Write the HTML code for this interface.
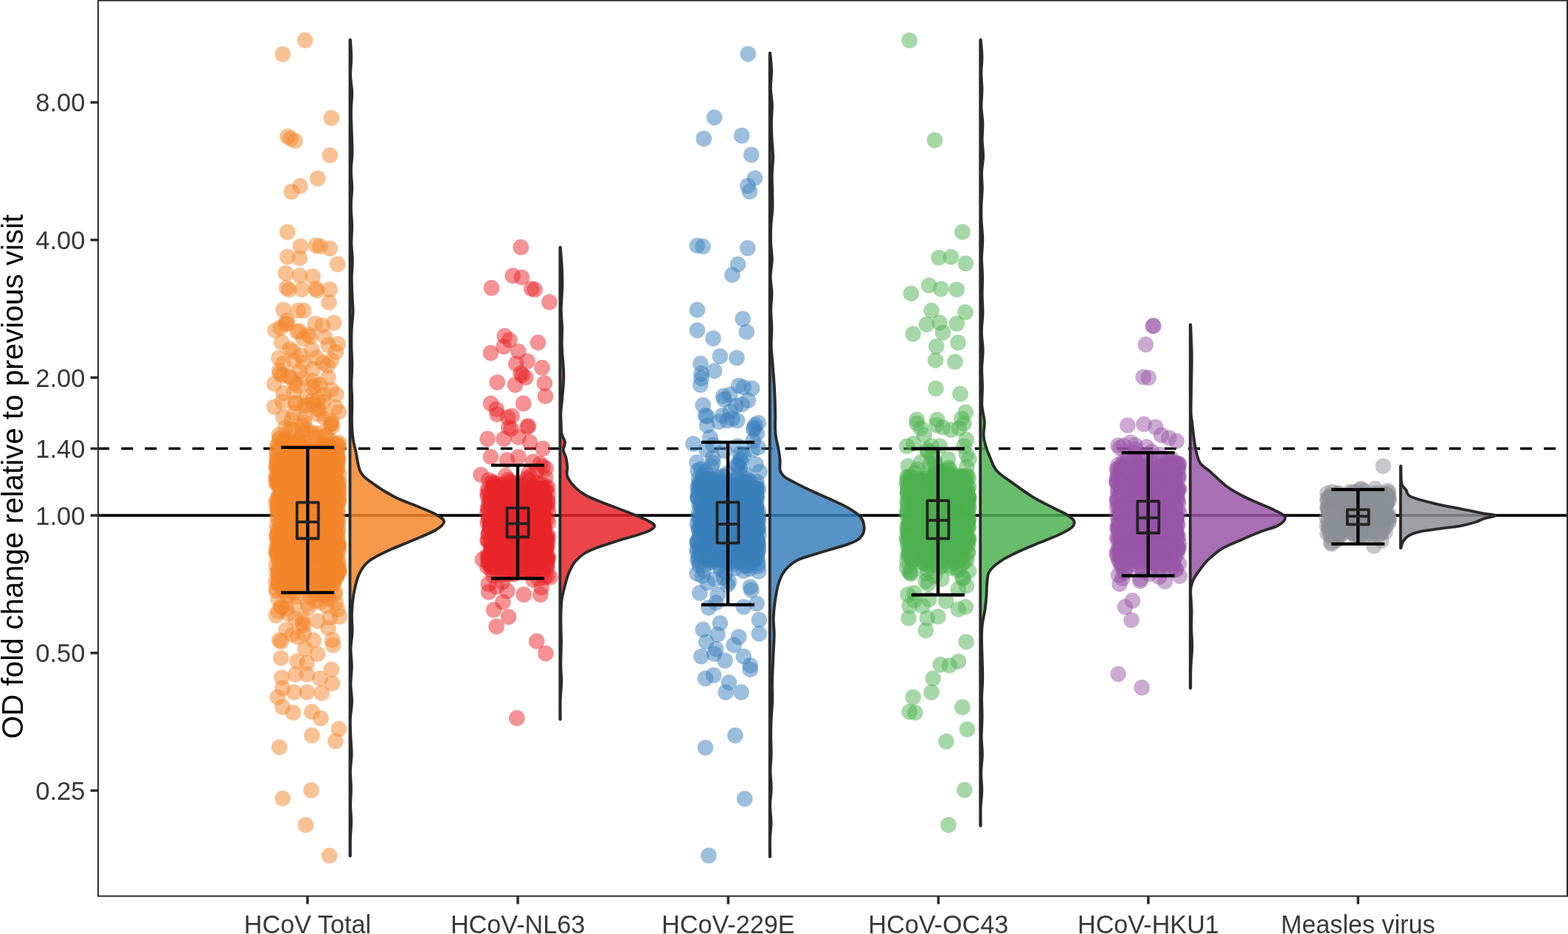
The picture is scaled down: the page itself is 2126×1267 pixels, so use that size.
<!DOCTYPE html><html><head><meta charset="utf-8"><title>OD fold change</title><style>html,body{margin:0;padding:0;background:#fff;overflow:hidden;}svg{display:block;}text{font-family:"Liberation Sans",Arial,sans-serif;}</style></head><body>
<svg width="2126" height="1267" viewBox="0 0 2126 1267">
<rect x="0" y="0" width="2126" height="1267" fill="#fff"/>
<line x1="134" y1="608.5" x2="2124" y2="608.5" stroke="#000" stroke-width="3.6" stroke-dasharray="16 16.15" stroke-dashoffset="1.8"/>
<line x1="134" y1="699.1" x2="2124" y2="699.1" stroke="#000" stroke-width="3.8"/>
<path d="M475.0,54.0 C475.2,58.0 476.3,70.0 476.3,78.0 C476.3,86.0 475.0,94.0 475.2,102.0 C475.3,110.0 477.1,118.0 477.3,126.0 C477.4,134.0 476.0,140.0 476.0,150.0 C476.0,160.0 476.7,176.3 477.0,186.0 C477.3,195.7 477.7,200.7 477.6,208.0 C477.4,215.3 476.1,222.2 476.0,230.0 C475.9,237.8 477.2,246.7 477.2,255.0 C477.2,263.3 475.9,271.7 475.9,280.0 C475.9,288.3 477.1,296.7 477.2,305.0 C477.3,313.3 476.4,321.9 476.5,330.0 C476.6,338.1 477.9,345.6 477.9,353.3 C478.0,361.1 476.9,368.9 476.8,376.7 C476.7,384.4 477.2,392.2 477.5,400.0 C477.8,407.8 478.7,415.6 478.6,423.3 C478.4,431.1 477.1,438.9 476.8,446.7 C476.4,454.4 476.4,461.9 476.5,470.0 C476.6,478.1 477.4,486.7 477.4,495.0 C477.4,503.3 476.5,511.6 476.5,520.0 C476.5,528.4 477.4,537.0 477.4,545.5 C477.5,554.0 476.8,562.9 477.0,571.0 C477.2,579.1 477.6,586.9 478.5,594.0 C479.4,601.1 481.0,606.2 482.7,613.8 C484.4,621.4 485.2,632.8 488.5,639.4 C491.8,646.0 494.9,647.9 502.5,653.6 C510.1,659.3 523.0,667.8 533.9,673.5 C544.8,679.2 558.5,683.7 568.0,687.7 C577.5,691.7 585.0,694.3 590.7,697.6 C596.4,700.9 602.1,704.0 602.1,707.6 C602.1,711.2 597.8,714.8 590.7,719.0 C583.6,723.2 570.4,728.4 559.5,733.1 C548.6,737.8 535.5,742.6 525.5,747.3 C515.5,752.0 506.2,756.3 499.8,761.5 C493.4,766.7 490.3,771.5 487.0,778.6 C483.7,785.7 481.6,795.2 479.9,804.2 C478.2,813.2 477.4,823.9 477.0,832.6 C476.6,841.3 477.9,848.4 477.7,856.3 C477.5,864.2 475.7,872.0 475.6,880.0 C475.5,888.0 476.9,896.0 476.9,904.0 C476.9,912.0 475.5,920.0 475.5,928.0 C475.6,936.0 477.2,944.0 477.1,952.0 C477.0,960.0 475.2,968.0 474.9,976.0 C474.7,984.0 475.2,992.2 475.5,1000.0 C475.8,1007.8 476.8,1015.3 476.7,1023.0 C476.6,1030.7 475.1,1038.3 475.0,1046.0 C474.9,1053.7 476.0,1061.3 476.0,1069.0 C476.1,1076.7 475.2,1084.3 475.2,1092.0 C475.2,1099.7 476.3,1107.3 476.3,1115.0 C476.2,1122.7 475.2,1130.3 475.0,1138.0 C474.8,1145.7 475.0,1157.2 475.0,1161.0 L474.5,1161.0 L474.5,54.0 Z" fill="#f3862a" fill-opacity="0.85" stroke="#2a2a2a" stroke-width="3.8" stroke-linejoin="round"/>
<path d="M759.8,335.4 C760.1,339.9 761.4,353.4 761.8,362.4 C762.3,371.5 762.5,379.9 762.3,389.5 C762.1,399.1 760.8,410.8 760.8,420.0 C760.8,429.2 762.0,436.7 762.1,445.0 C762.3,453.3 761.4,459.4 761.8,470.0 C762.2,480.6 764.2,497.0 764.3,508.7 C764.4,520.4 762.9,531.5 762.3,540.0 C761.6,548.5 760.6,554.2 760.4,560.0 C760.1,565.8 760.6,570.2 760.8,575.0 C761.0,579.8 760.7,584.6 761.6,588.7 C762.5,592.8 765.6,596.1 766.0,599.8 C766.4,603.5 763.6,607.5 763.8,610.8 C764.0,614.1 766.2,616.0 767.1,619.7 C768.0,623.4 768.9,628.5 769.3,632.9 C769.7,637.3 767.4,641.4 769.3,646.2 C771.1,651.0 776.0,657.3 780.4,661.7 C784.8,666.1 788.8,669.0 795.8,672.7 C802.8,676.4 813.2,680.1 822.4,683.8 C831.6,687.5 841.9,691.1 851.1,694.8 C860.3,698.5 871.5,702.9 877.6,705.9 C883.7,708.9 886.8,710.3 887.5,712.5 C888.2,714.7 885.9,716.9 882.0,719.1 C878.1,721.3 871.7,723.3 864.3,725.7 C856.9,728.1 846.6,730.7 837.8,733.5 C829.0,736.3 818.7,739.5 811.3,742.3 C803.9,745.0 798.7,746.9 793.6,750.0 C788.4,753.1 784.1,756.7 780.4,761.1 C776.7,765.5 773.9,771.1 771.5,776.6 C769.1,782.1 767.6,788.0 766.0,794.3 C764.4,800.5 762.5,806.5 761.6,814.1 C760.7,821.7 760.5,830.7 760.4,840.0 C760.3,849.3 761.0,860.0 761.0,870.0 C761.0,880.0 760.3,890.8 760.3,900.0 C760.3,909.2 761.3,916.8 761.2,925.3 C761.1,933.7 759.9,942.1 759.7,950.5 C759.5,959.0 759.8,971.6 759.8,975.8 L759.3,975.8 L759.3,335.4 Z" fill="#e9262a" fill-opacity="0.85" stroke="#2a2a2a" stroke-width="3.8" stroke-linejoin="round"/>
<path d="M1044.2,72.0 C1044.5,75.9 1046.0,87.7 1046.1,95.6 C1046.3,103.5 1044.8,111.3 1044.9,119.2 C1045.0,127.1 1046.8,134.9 1046.9,142.8 C1047.1,150.7 1045.9,158.5 1045.9,166.4 C1045.9,174.3 1046.3,182.2 1046.7,190.0 C1047.1,197.8 1048.1,205.6 1048.1,213.3 C1048.1,221.1 1046.9,228.9 1046.8,236.7 C1046.6,244.4 1047.1,252.2 1047.2,260.0 C1047.3,267.8 1047.7,275.6 1047.4,283.3 C1047.1,291.1 1045.6,298.9 1045.3,306.7 C1044.9,314.4 1044.9,322.4 1045.2,330.0 C1045.5,337.6 1046.9,345.0 1046.8,352.5 C1046.7,360.0 1044.7,367.5 1044.7,375.0 C1044.6,382.5 1046.4,390.0 1046.5,397.5 C1046.6,405.0 1045.2,412.1 1045.2,420.0 C1045.2,427.9 1046.3,436.7 1046.4,445.0 C1046.4,453.3 1045.5,461.7 1045.7,470.0 C1045.9,478.3 1047.0,485.0 1047.7,495.0 C1048.5,505.0 1049.6,518.5 1050.2,530.0 C1050.8,541.5 1051.1,555.7 1051.2,564.0 C1051.3,572.3 1050.8,575.1 1051.0,580.0 C1051.2,584.9 1051.4,588.5 1052.1,593.3 C1052.8,598.1 1054.5,603.6 1055.4,608.7 C1056.3,613.9 1057.2,619.4 1057.6,624.2 C1058.0,629.0 1056.7,633.8 1057.6,637.5 C1058.5,641.2 1060.3,643.7 1063.1,646.3 C1065.9,648.9 1068.7,649.9 1074.2,652.9 C1079.7,655.9 1088.9,660.5 1096.3,664.0 C1103.7,667.5 1111.0,670.6 1118.4,673.9 C1125.8,677.2 1134.2,680.8 1140.5,683.9 C1146.8,687.0 1151.6,689.8 1156.0,692.7 C1160.4,695.6 1164.4,698.2 1167.0,701.5 C1169.6,704.8 1170.9,708.9 1171.4,712.6 C1172.0,716.3 1171.8,720.3 1170.3,723.6 C1168.8,726.9 1166.5,729.9 1162.6,732.5 C1158.7,735.1 1153.4,736.9 1147.1,739.1 C1140.8,741.3 1132.4,743.5 1125.0,745.7 C1117.6,747.9 1109.9,750.2 1102.9,752.4 C1095.9,754.6 1088.5,756.4 1083.0,759.0 C1077.5,761.6 1073.5,764.5 1069.8,767.8 C1066.1,771.1 1063.3,774.8 1060.9,778.9 C1058.5,783.0 1056.9,787.4 1055.4,792.2 C1053.9,797.0 1053.0,802.5 1052.1,807.6 C1051.2,812.8 1050.5,817.6 1049.9,823.1 C1049.3,828.6 1048.7,834.6 1048.7,840.8 C1048.7,846.9 1049.7,852.8 1049.7,860.0 C1049.7,867.2 1049.2,872.7 1048.7,884.0 C1048.2,895.3 1047.2,916.7 1047.0,928.0 C1046.8,939.3 1047.5,944.0 1047.2,952.0 C1047.0,960.0 1046.0,968.0 1045.6,976.0 C1045.3,984.0 1045.2,992.1 1045.2,1000.0 C1045.2,1007.9 1045.9,1015.4 1045.7,1023.1 C1045.6,1030.9 1044.4,1038.6 1044.5,1046.3 C1044.5,1054.0 1045.8,1061.7 1045.8,1069.4 C1045.7,1077.1 1044.2,1084.9 1044.1,1092.6 C1044.1,1100.3 1045.5,1108.0 1045.5,1115.7 C1045.5,1123.4 1044.2,1131.1 1044.0,1138.9 C1043.8,1146.6 1044.2,1158.1 1044.2,1162.0 L1043.7,1162.0 L1043.7,72.0 Z" fill="#3a80bc" fill-opacity="0.85" stroke="#2a2a2a" stroke-width="3.8" stroke-linejoin="round"/>
<path d="M1329.7,53.8 C1330.0,57.6 1331.4,68.9 1331.5,76.5 C1331.6,84.1 1330.4,91.6 1330.4,99.2 C1330.4,106.8 1331.5,114.3 1331.5,121.9 C1331.5,129.5 1330.3,137.0 1330.5,144.6 C1330.6,152.2 1332.2,159.7 1332.4,167.3 C1332.6,174.9 1331.6,182.6 1331.7,190.0 C1331.8,197.4 1333.2,204.7 1333.1,212.0 C1333.0,219.3 1331.3,226.7 1331.1,234.0 C1330.8,241.3 1331.9,248.7 1331.8,256.0 C1331.7,263.3 1330.7,270.7 1330.5,278.0 C1330.3,285.3 1330.4,292.2 1330.7,300.0 C1331.0,307.8 1332.3,316.7 1332.3,325.0 C1332.4,333.3 1331.1,341.7 1331.0,350.0 C1331.0,358.3 1332.0,366.7 1332.1,375.0 C1332.2,383.3 1331.6,391.7 1331.7,400.0 C1331.8,408.3 1332.6,416.7 1332.5,425.0 C1332.4,433.3 1330.8,441.7 1330.9,450.0 C1330.9,458.3 1332.6,466.7 1332.7,475.0 C1332.7,483.3 1331.3,491.7 1331.2,500.0 C1331.1,508.3 1332.0,516.7 1332.0,525.0 C1332.1,533.3 1330.9,542.1 1331.4,550.0 C1331.9,557.9 1334.4,565.5 1334.8,572.1 C1335.2,578.7 1333.4,584.6 1333.6,589.8 C1333.8,594.9 1334.4,597.9 1335.9,603.0 C1337.4,608.1 1339.9,614.8 1342.5,620.7 C1345.1,626.6 1346.5,632.9 1351.3,638.4 C1356.1,643.9 1363.1,648.0 1371.2,653.9 C1379.3,659.8 1390.3,667.9 1399.9,673.8 C1409.5,679.7 1421.0,685.2 1428.7,689.2 C1436.5,693.2 1441.8,695.2 1446.4,698.1 C1451.0,701.0 1455.2,704.0 1456.3,706.9 C1457.4,709.8 1456.1,712.8 1453.0,715.7 C1449.9,718.7 1444.5,721.3 1437.5,724.6 C1430.5,727.9 1419.8,731.9 1411.0,735.6 C1402.2,739.3 1392.6,743.0 1384.5,746.7 C1376.4,750.4 1368.7,754.0 1362.4,757.7 C1356.1,761.4 1350.6,765.5 1346.9,768.8 C1343.2,772.1 1341.8,773.5 1340.3,777.6 C1338.8,781.7 1338.6,788.0 1338.1,793.1 C1337.6,798.2 1337.9,802.4 1337.5,808.0 C1337.1,813.6 1336.4,820.7 1335.5,827.0 C1334.6,833.3 1332.8,839.7 1332.0,846.0 C1331.2,852.3 1331.0,857.2 1331.0,865.0 C1331.0,872.8 1331.5,883.9 1331.7,893.0 C1331.9,902.1 1332.4,910.8 1332.3,919.8 C1332.2,928.7 1331.3,937.6 1331.1,946.5 C1331.0,955.4 1331.7,964.3 1331.6,973.2 C1331.5,982.2 1330.7,991.5 1330.7,1000.0 C1330.7,1008.5 1332.0,1016.0 1331.9,1024.0 C1331.8,1032.1 1330.3,1040.1 1330.2,1048.1 C1330.1,1056.1 1331.4,1064.1 1331.3,1072.1 C1331.2,1080.1 1329.9,1088.1 1329.6,1096.2 C1329.4,1104.2 1329.7,1116.2 1329.7,1120.2 L1329.2,1120.2 L1329.2,53.8 Z" fill="#4eb250" fill-opacity="0.85" stroke="#2a2a2a" stroke-width="3.8" stroke-linejoin="round"/>
<path d="M1614.3,440.5 C1614.5,447.1 1615.6,466.8 1615.8,480.0 C1616.0,493.2 1615.5,506.7 1615.3,520.0 C1615.1,533.3 1614.6,551.1 1614.8,560.0 C1615.0,568.9 1615.8,567.8 1616.4,573.3 C1617.0,578.8 1617.7,586.5 1618.6,593.1 C1619.5,599.7 1620.5,607.1 1622.0,613.0 C1623.5,618.9 1624.4,624.1 1627.5,628.5 C1630.6,632.9 1634.8,634.5 1640.7,639.6 C1646.6,644.8 1655.4,653.9 1662.8,659.4 C1670.2,664.9 1677.1,668.6 1684.9,672.7 C1692.6,676.8 1701.9,680.5 1709.3,683.8 C1716.7,687.1 1723.6,689.7 1729.1,692.6 C1734.6,695.5 1741.6,698.1 1742.4,701.4 C1743.1,704.7 1739.1,709.2 1733.6,712.5 C1728.1,715.8 1717.8,718.0 1709.3,721.3 C1700.8,724.6 1691.2,728.7 1682.7,732.4 C1674.2,736.1 1665.8,739.0 1658.4,743.4 C1651.0,747.8 1643.7,754.1 1638.5,758.9 C1633.3,763.7 1630.8,767.8 1627.5,772.2 C1624.2,776.6 1620.6,781.7 1618.6,785.4 C1616.6,789.1 1616.0,791.3 1615.3,794.3 C1614.6,797.2 1614.3,797.7 1614.3,803.1 C1614.3,808.5 1615.4,818.7 1615.6,826.5 C1615.8,834.4 1615.2,841.5 1615.3,850.0 C1615.4,858.5 1616.4,868.6 1616.3,877.8 C1616.2,887.1 1614.9,896.4 1614.6,905.7 C1614.2,914.9 1614.3,928.9 1614.3,933.5 L1613.8,933.5 L1613.8,440.5 Z" fill="#9a56a8" fill-opacity="0.85" stroke="#2a2a2a" stroke-width="3.8" stroke-linejoin="round"/>
<path d="M1899.5,632.2 C1899.7,636.2 1899.2,650.9 1900.4,656.2 C1901.6,661.5 1904.7,661.5 1906.4,664.2 C1908.1,666.9 1907.1,669.9 1910.4,672.2 C1913.8,674.6 1919.8,676.3 1926.5,678.3 C1933.2,680.3 1941.5,682.3 1950.5,684.3 C1959.5,686.3 1970.6,688.3 1980.6,690.3 C1990.6,692.3 2002.8,694.8 2010.6,696.3 C2018.4,697.8 2027.4,698.1 2027.7,699.3 C2028.0,700.5 2017.1,701.8 2012.6,703.3 C2008.1,704.8 2005.9,706.6 2000.6,708.3 C1995.3,710.0 1988.9,711.8 1980.6,713.3 C1972.2,714.8 1959.9,716.0 1950.5,717.3 C1941.1,718.6 1931.1,719.8 1924.4,721.3 C1917.7,722.8 1914.1,724.2 1910.4,726.4 C1906.7,728.6 1904.2,731.6 1902.4,734.4 C1900.6,737.2 1900.0,741.9 1899.5,743.4 L1899.0,743.4 L1899.0,632.2 Z" fill="#8c9094" fill-opacity="0.85" stroke="#2a2a2a" stroke-width="3.8" stroke-linejoin="round"/>
<g fill="#f3862a" fill-opacity="0.50">
<circle cx="387.0" cy="439.7" r="10.8"/>
<circle cx="380.2" cy="444.5" r="10.8"/>
<circle cx="405.4" cy="449.1" r="10.8"/>
<circle cx="417.6" cy="454.0" r="10.8"/>
<circle cx="411.3" cy="459.1" r="10.8"/>
<circle cx="381.8" cy="464.4" r="10.8"/>
<circle cx="445.1" cy="468.1" r="10.8"/>
<circle cx="393.2" cy="473.6" r="10.8"/>
<circle cx="455.5" cy="477.6" r="10.8"/>
<circle cx="408.1" cy="482.0" r="10.8"/>
<circle cx="378.0" cy="485.9" r="10.8"/>
<circle cx="398.9" cy="489.1" r="10.8"/>
<circle cx="384.1" cy="493.3" r="10.8"/>
<circle cx="444.2" cy="496.2" r="10.8"/>
<circle cx="424.0" cy="500.6" r="10.8"/>
<circle cx="406.0" cy="503.5" r="10.8"/>
<circle cx="379.4" cy="507.1" r="10.8"/>
<circle cx="391.7" cy="510.7" r="10.8"/>
<circle cx="410.8" cy="513.3" r="10.8"/>
<circle cx="424.4" cy="516.5" r="10.8"/>
<circle cx="399.8" cy="519.8" r="10.8"/>
<circle cx="434.1" cy="522.2" r="10.8"/>
<circle cx="423.4" cy="525.5" r="10.8"/>
<circle cx="449.3" cy="528.7" r="10.8"/>
<circle cx="398.8" cy="531.0" r="10.8"/>
<circle cx="384.2" cy="533.4" r="10.8"/>
<circle cx="439.1" cy="536.2" r="10.8"/>
<circle cx="416.1" cy="538.0" r="10.8"/>
<circle cx="431.5" cy="541.8" r="10.8"/>
<circle cx="423.3" cy="543.9" r="10.8"/>
<circle cx="401.0" cy="546.7" r="10.8"/>
<circle cx="425.1" cy="548.6" r="10.8"/>
<circle cx="413.2" cy="550.8" r="10.8"/>
<circle cx="455.2" cy="552.5" r="10.8"/>
<circle cx="431.1" cy="554.1" r="10.8"/>
<circle cx="434.3" cy="556.6" r="10.8"/>
<circle cx="459.4" cy="558.8" r="10.8"/>
<circle cx="398.5" cy="560.4" r="10.8"/>
<circle cx="431.5" cy="562.0" r="10.8"/>
<circle cx="413.7" cy="564.2" r="10.8"/>
<circle cx="384.1" cy="566.1" r="10.8"/>
<circle cx="440.1" cy="567.1" r="10.8"/>
<circle cx="395.3" cy="569.4" r="10.8"/>
<circle cx="448.9" cy="571.1" r="10.8"/>
<circle cx="412.6" cy="572.5" r="10.8"/>
<circle cx="450.0" cy="574.8" r="10.8"/>
<circle cx="448.3" cy="575.3" r="10.8"/>
<circle cx="409.7" cy="577.4" r="10.8"/>
<circle cx="450.0" cy="579.0" r="10.8"/>
<circle cx="387.0" cy="580.2" r="10.8"/>
<circle cx="393.9" cy="581.2" r="10.8"/>
<circle cx="415.7" cy="582.6" r="10.8"/>
<circle cx="396.6" cy="583.0" r="10.8"/>
<circle cx="410.0" cy="584.4" r="10.8"/>
<circle cx="422.7" cy="587.0" r="10.8"/>
<circle cx="433.4" cy="587.5" r="10.8"/>
<circle cx="427.1" cy="588.7" r="10.8"/>
<circle cx="378.6" cy="589.9" r="10.8"/>
<circle cx="441.1" cy="590.9" r="10.8"/>
<circle cx="442.6" cy="591.4" r="10.8"/>
<circle cx="408.3" cy="592.1" r="10.8"/>
<circle cx="428.5" cy="593.1" r="10.8"/>
<circle cx="379.8" cy="594.2" r="10.8"/>
<circle cx="388.0" cy="595.3" r="10.8"/>
<circle cx="378.5" cy="596.0" r="10.8"/>
<circle cx="387.0" cy="596.1" r="10.8"/>
<circle cx="405.3" cy="597.0" r="10.8"/>
<circle cx="449.2" cy="598.6" r="10.8"/>
<circle cx="386.8" cy="598.3" r="10.8"/>
<circle cx="403.9" cy="599.4" r="10.8"/>
<circle cx="384.6" cy="599.8" r="10.8"/>
<circle cx="459.4" cy="600.5" r="10.8"/>
<circle cx="415.6" cy="600.1" r="10.8"/>
<circle cx="382.8" cy="601.3" r="10.8"/>
<circle cx="396.8" cy="601.8" r="10.8"/>
<circle cx="387.9" cy="602.0" r="10.8"/>
<circle cx="455.8" cy="602.5" r="10.8"/>
<circle cx="386.6" cy="602.5" r="10.8"/>
<circle cx="376.3" cy="603.5" r="10.8"/>
<circle cx="458.2" cy="603.9" r="10.8"/>
<circle cx="433.9" cy="603.3" r="10.8"/>
<circle cx="405.5" cy="604.2" r="10.8"/>
<circle cx="440.4" cy="604.5" r="10.8"/>
<circle cx="441.0" cy="604.3" r="10.8"/>
<circle cx="393.2" cy="605.8" r="10.8"/>
<circle cx="458.7" cy="605.9" r="10.8"/>
<circle cx="443.3" cy="605.8" r="10.8"/>
<circle cx="437.6" cy="606.2" r="10.8"/>
<circle cx="418.5" cy="606.4" r="10.8"/>
<circle cx="376.5" cy="606.0" r="10.8"/>
<circle cx="398.0" cy="606.3" r="10.8"/>
<circle cx="433.6" cy="608.0" r="10.8"/>
<circle cx="412.5" cy="607.9" r="10.8"/>
<circle cx="459.0" cy="608.0" r="10.8"/>
<circle cx="405.4" cy="607.2" r="10.8"/>
<circle cx="393.5" cy="608.2" r="10.8"/>
<circle cx="391.6" cy="608.6" r="10.8"/>
<circle cx="451.4" cy="608.8" r="10.8"/>
<circle cx="415.2" cy="608.7" r="10.8"/>
<circle cx="442.8" cy="608.1" r="10.8"/>
<circle cx="430.8" cy="609.9" r="10.8"/>
<circle cx="441.3" cy="609.8" r="10.8"/>
<circle cx="415.1" cy="609.2" r="10.8"/>
<circle cx="441.9" cy="609.3" r="10.8"/>
<circle cx="442.9" cy="611.0" r="10.8"/>
<circle cx="408.0" cy="610.4" r="10.8"/>
<circle cx="455.4" cy="610.7" r="10.8"/>
<circle cx="388.6" cy="610.1" r="10.8"/>
<circle cx="387.0" cy="610.9" r="10.8"/>
<circle cx="443.4" cy="610.1" r="10.8"/>
<circle cx="445.1" cy="612.0" r="10.8"/>
<circle cx="430.5" cy="611.4" r="10.8"/>
<circle cx="421.2" cy="611.1" r="10.8"/>
<circle cx="375.2" cy="612.0" r="10.8"/>
<circle cx="429.9" cy="611.5" r="10.8"/>
<circle cx="454.3" cy="612.4" r="10.8"/>
<circle cx="449.0" cy="612.8" r="10.8"/>
<circle cx="392.1" cy="612.3" r="10.8"/>
<circle cx="399.2" cy="612.2" r="10.8"/>
<circle cx="424.4" cy="612.3" r="10.8"/>
<circle cx="410.0" cy="612.1" r="10.8"/>
<circle cx="452.3" cy="613.4" r="10.8"/>
<circle cx="413.4" cy="613.6" r="10.8"/>
<circle cx="451.8" cy="613.4" r="10.8"/>
<circle cx="452.9" cy="613.5" r="10.8"/>
<circle cx="419.7" cy="613.5" r="10.8"/>
<circle cx="375.6" cy="613.4" r="10.8"/>
<circle cx="389.7" cy="614.0" r="10.8"/>
<circle cx="442.7" cy="614.2" r="10.8"/>
<circle cx="414.7" cy="614.7" r="10.8"/>
<circle cx="421.9" cy="614.3" r="10.8"/>
<circle cx="418.6" cy="614.6" r="10.8"/>
<circle cx="441.4" cy="614.1" r="10.8"/>
<circle cx="422.2" cy="615.2" r="10.8"/>
<circle cx="397.8" cy="615.8" r="10.8"/>
<circle cx="417.7" cy="615.6" r="10.8"/>
<circle cx="439.4" cy="615.9" r="10.8"/>
<circle cx="412.1" cy="615.6" r="10.8"/>
<circle cx="417.5" cy="615.5" r="10.8"/>
<circle cx="433.6" cy="616.5" r="10.8"/>
<circle cx="419.9" cy="616.5" r="10.8"/>
<circle cx="455.0" cy="616.7" r="10.8"/>
<circle cx="449.4" cy="616.9" r="10.8"/>
<circle cx="396.3" cy="616.6" r="10.8"/>
<circle cx="455.1" cy="616.8" r="10.8"/>
<circle cx="385.8" cy="617.1" r="10.8"/>
<circle cx="412.0" cy="617.1" r="10.8"/>
<circle cx="394.7" cy="617.1" r="10.8"/>
<circle cx="431.6" cy="617.8" r="10.8"/>
<circle cx="451.1" cy="617.2" r="10.8"/>
<circle cx="435.6" cy="617.7" r="10.8"/>
<circle cx="386.3" cy="618.9" r="10.8"/>
<circle cx="457.2" cy="618.2" r="10.8"/>
<circle cx="455.9" cy="618.4" r="10.8"/>
<circle cx="415.9" cy="619.0" r="10.8"/>
<circle cx="445.6" cy="618.2" r="10.8"/>
<circle cx="411.1" cy="618.5" r="10.8"/>
<circle cx="403.2" cy="619.2" r="10.8"/>
<circle cx="401.4" cy="619.7" r="10.8"/>
<circle cx="375.7" cy="619.6" r="10.8"/>
<circle cx="411.9" cy="619.0" r="10.8"/>
<circle cx="402.5" cy="619.6" r="10.8"/>
<circle cx="418.1" cy="619.1" r="10.8"/>
<circle cx="458.7" cy="620.8" r="10.8"/>
<circle cx="457.6" cy="620.1" r="10.8"/>
<circle cx="396.8" cy="620.0" r="10.8"/>
<circle cx="441.0" cy="620.3" r="10.8"/>
<circle cx="385.1" cy="620.4" r="10.8"/>
<circle cx="452.4" cy="620.8" r="10.8"/>
<circle cx="396.2" cy="621.1" r="10.8"/>
<circle cx="453.0" cy="621.6" r="10.8"/>
<circle cx="434.2" cy="621.1" r="10.8"/>
<circle cx="378.9" cy="621.7" r="10.8"/>
<circle cx="410.6" cy="621.1" r="10.8"/>
<circle cx="454.7" cy="621.6" r="10.8"/>
<circle cx="442.9" cy="622.1" r="10.8"/>
<circle cx="447.6" cy="622.1" r="10.8"/>
<circle cx="448.2" cy="622.5" r="10.8"/>
<circle cx="403.2" cy="622.6" r="10.8"/>
<circle cx="453.7" cy="622.3" r="10.8"/>
<circle cx="385.1" cy="622.5" r="10.8"/>
<circle cx="394.5" cy="623.1" r="10.8"/>
<circle cx="387.9" cy="623.1" r="10.8"/>
<circle cx="391.4" cy="623.3" r="10.8"/>
<circle cx="400.2" cy="623.8" r="10.8"/>
<circle cx="398.9" cy="623.5" r="10.8"/>
<circle cx="389.3" cy="623.3" r="10.8"/>
<circle cx="375.6" cy="624.3" r="10.8"/>
<circle cx="375.3" cy="624.7" r="10.8"/>
<circle cx="421.4" cy="624.2" r="10.8"/>
<circle cx="414.8" cy="624.9" r="10.8"/>
<circle cx="383.1" cy="624.8" r="10.8"/>
<circle cx="411.2" cy="624.5" r="10.8"/>
<circle cx="445.8" cy="625.4" r="10.8"/>
<circle cx="417.6" cy="625.7" r="10.8"/>
<circle cx="458.5" cy="625.3" r="10.8"/>
<circle cx="445.6" cy="625.7" r="10.8"/>
<circle cx="428.7" cy="625.4" r="10.8"/>
<circle cx="403.9" cy="625.1" r="10.8"/>
<circle cx="385.2" cy="626.1" r="10.8"/>
<circle cx="437.7" cy="626.3" r="10.8"/>
<circle cx="388.0" cy="626.1" r="10.8"/>
<circle cx="446.3" cy="626.9" r="10.8"/>
<circle cx="431.7" cy="626.3" r="10.8"/>
<circle cx="394.8" cy="626.3" r="10.8"/>
<circle cx="413.5" cy="627.2" r="10.8"/>
<circle cx="412.3" cy="627.3" r="10.8"/>
<circle cx="456.7" cy="628.0" r="10.8"/>
<circle cx="421.0" cy="627.2" r="10.8"/>
<circle cx="457.0" cy="627.3" r="10.8"/>
<circle cx="404.7" cy="627.0" r="10.8"/>
<circle cx="406.8" cy="628.5" r="10.8"/>
<circle cx="417.2" cy="628.2" r="10.8"/>
<circle cx="417.4" cy="628.0" r="10.8"/>
<circle cx="396.7" cy="628.1" r="10.8"/>
<circle cx="408.4" cy="628.0" r="10.8"/>
<circle cx="375.9" cy="628.3" r="10.8"/>
<circle cx="394.0" cy="629.6" r="10.8"/>
<circle cx="419.5" cy="629.8" r="10.8"/>
<circle cx="430.5" cy="629.7" r="10.8"/>
<circle cx="449.6" cy="629.4" r="10.8"/>
<circle cx="402.0" cy="630.0" r="10.8"/>
<circle cx="386.9" cy="629.7" r="10.8"/>
<circle cx="429.3" cy="630.0" r="10.8"/>
<circle cx="445.8" cy="630.9" r="10.8"/>
<circle cx="428.0" cy="630.7" r="10.8"/>
<circle cx="443.9" cy="630.1" r="10.8"/>
<circle cx="419.0" cy="630.5" r="10.8"/>
<circle cx="445.8" cy="630.8" r="10.8"/>
<circle cx="445.1" cy="631.6" r="10.8"/>
<circle cx="450.8" cy="631.7" r="10.8"/>
<circle cx="433.6" cy="631.2" r="10.8"/>
<circle cx="376.7" cy="631.1" r="10.8"/>
<circle cx="405.0" cy="631.1" r="10.8"/>
<circle cx="445.9" cy="631.6" r="10.8"/>
<circle cx="428.0" cy="632.6" r="10.8"/>
<circle cx="432.5" cy="632.5" r="10.8"/>
<circle cx="374.3" cy="632.8" r="10.8"/>
<circle cx="438.4" cy="632.5" r="10.8"/>
<circle cx="420.0" cy="632.7" r="10.8"/>
<circle cx="379.7" cy="632.7" r="10.8"/>
<circle cx="395.7" cy="633.1" r="10.8"/>
<circle cx="396.8" cy="633.7" r="10.8"/>
<circle cx="391.6" cy="633.7" r="10.8"/>
<circle cx="457.9" cy="633.5" r="10.8"/>
<circle cx="406.9" cy="633.5" r="10.8"/>
<circle cx="432.8" cy="633.8" r="10.8"/>
<circle cx="427.1" cy="634.6" r="10.8"/>
<circle cx="380.7" cy="634.1" r="10.8"/>
<circle cx="395.8" cy="634.7" r="10.8"/>
<circle cx="400.2" cy="634.6" r="10.8"/>
<circle cx="375.1" cy="634.1" r="10.8"/>
<circle cx="397.1" cy="634.7" r="10.8"/>
<circle cx="433.5" cy="635.7" r="10.8"/>
<circle cx="399.0" cy="635.5" r="10.8"/>
<circle cx="414.0" cy="635.5" r="10.8"/>
<circle cx="384.2" cy="635.9" r="10.8"/>
<circle cx="391.1" cy="636.0" r="10.8"/>
<circle cx="454.5" cy="635.0" r="10.8"/>
<circle cx="413.5" cy="636.8" r="10.8"/>
<circle cx="457.3" cy="636.4" r="10.8"/>
<circle cx="397.1" cy="636.2" r="10.8"/>
<circle cx="455.3" cy="636.2" r="10.8"/>
<circle cx="424.0" cy="636.1" r="10.8"/>
<circle cx="419.1" cy="637.0" r="10.8"/>
<circle cx="385.4" cy="637.8" r="10.8"/>
<circle cx="417.8" cy="637.9" r="10.8"/>
<circle cx="434.5" cy="637.2" r="10.8"/>
<circle cx="451.2" cy="637.5" r="10.8"/>
<circle cx="376.1" cy="637.0" r="10.8"/>
<circle cx="416.3" cy="637.5" r="10.8"/>
<circle cx="400.0" cy="638.1" r="10.8"/>
<circle cx="403.6" cy="638.3" r="10.8"/>
<circle cx="446.3" cy="638.0" r="10.8"/>
<circle cx="438.6" cy="638.8" r="10.8"/>
<circle cx="384.3" cy="638.9" r="10.8"/>
<circle cx="435.3" cy="638.9" r="10.8"/>
<circle cx="398.9" cy="639.4" r="10.8"/>
<circle cx="407.8" cy="640.0" r="10.8"/>
<circle cx="424.7" cy="639.4" r="10.8"/>
<circle cx="410.8" cy="639.3" r="10.8"/>
<circle cx="378.2" cy="639.1" r="10.8"/>
<circle cx="445.8" cy="639.3" r="10.8"/>
<circle cx="454.5" cy="640.2" r="10.8"/>
<circle cx="396.9" cy="640.5" r="10.8"/>
<circle cx="390.3" cy="640.4" r="10.8"/>
<circle cx="456.2" cy="640.9" r="10.8"/>
<circle cx="443.8" cy="640.6" r="10.8"/>
<circle cx="452.6" cy="640.9" r="10.8"/>
<circle cx="421.2" cy="641.7" r="10.8"/>
<circle cx="378.3" cy="641.7" r="10.8"/>
<circle cx="412.8" cy="641.8" r="10.8"/>
<circle cx="429.4" cy="641.3" r="10.8"/>
<circle cx="378.2" cy="641.9" r="10.8"/>
<circle cx="384.9" cy="641.5" r="10.8"/>
<circle cx="403.6" cy="642.3" r="10.8"/>
<circle cx="437.6" cy="643.0" r="10.8"/>
<circle cx="396.4" cy="642.7" r="10.8"/>
<circle cx="399.9" cy="642.6" r="10.8"/>
<circle cx="407.9" cy="642.2" r="10.8"/>
<circle cx="387.9" cy="642.2" r="10.8"/>
<circle cx="451.9" cy="643.5" r="10.8"/>
<circle cx="392.9" cy="643.9" r="10.8"/>
<circle cx="459.7" cy="643.4" r="10.8"/>
<circle cx="386.0" cy="643.2" r="10.8"/>
<circle cx="381.8" cy="643.3" r="10.8"/>
<circle cx="381.8" cy="643.2" r="10.8"/>
<circle cx="396.2" cy="644.6" r="10.8"/>
<circle cx="450.3" cy="644.7" r="10.8"/>
<circle cx="409.5" cy="644.4" r="10.8"/>
<circle cx="419.1" cy="644.4" r="10.8"/>
<circle cx="403.1" cy="644.1" r="10.8"/>
<circle cx="397.9" cy="645.0" r="10.8"/>
<circle cx="384.8" cy="645.5" r="10.8"/>
<circle cx="428.1" cy="645.9" r="10.8"/>
<circle cx="392.6" cy="645.3" r="10.8"/>
<circle cx="395.4" cy="645.4" r="10.8"/>
<circle cx="412.3" cy="646.0" r="10.8"/>
<circle cx="447.0" cy="645.9" r="10.8"/>
<circle cx="375.9" cy="646.0" r="10.8"/>
<circle cx="435.0" cy="646.9" r="10.8"/>
<circle cx="414.7" cy="646.6" r="10.8"/>
<circle cx="374.0" cy="646.4" r="10.8"/>
<circle cx="453.7" cy="646.8" r="10.8"/>
<circle cx="447.6" cy="647.0" r="10.8"/>
<circle cx="395.4" cy="647.1" r="10.8"/>
<circle cx="387.3" cy="647.5" r="10.8"/>
<circle cx="432.7" cy="647.9" r="10.8"/>
<circle cx="436.1" cy="647.6" r="10.8"/>
<circle cx="439.8" cy="647.5" r="10.8"/>
<circle cx="421.4" cy="647.0" r="10.8"/>
<circle cx="441.3" cy="648.2" r="10.8"/>
<circle cx="453.1" cy="648.6" r="10.8"/>
<circle cx="400.1" cy="648.1" r="10.8"/>
<circle cx="395.7" cy="648.6" r="10.8"/>
<circle cx="434.1" cy="648.1" r="10.8"/>
<circle cx="380.1" cy="648.5" r="10.8"/>
<circle cx="424.1" cy="649.4" r="10.8"/>
<circle cx="393.2" cy="649.6" r="10.8"/>
<circle cx="374.9" cy="649.3" r="10.8"/>
<circle cx="413.6" cy="650.0" r="10.8"/>
<circle cx="429.4" cy="649.9" r="10.8"/>
<circle cx="414.9" cy="649.2" r="10.8"/>
<circle cx="395.2" cy="651.0" r="10.8"/>
<circle cx="434.6" cy="650.3" r="10.8"/>
<circle cx="375.9" cy="650.5" r="10.8"/>
<circle cx="432.0" cy="650.4" r="10.8"/>
<circle cx="396.1" cy="650.7" r="10.8"/>
<circle cx="453.6" cy="650.2" r="10.8"/>
<circle cx="376.9" cy="651.3" r="10.8"/>
<circle cx="410.2" cy="651.7" r="10.8"/>
<circle cx="391.0" cy="651.8" r="10.8"/>
<circle cx="437.6" cy="651.5" r="10.8"/>
<circle cx="391.6" cy="652.0" r="10.8"/>
<circle cx="400.8" cy="651.8" r="10.8"/>
<circle cx="393.8" cy="652.2" r="10.8"/>
<circle cx="439.4" cy="652.3" r="10.8"/>
<circle cx="455.9" cy="652.5" r="10.8"/>
<circle cx="390.1" cy="652.2" r="10.8"/>
<circle cx="409.9" cy="652.7" r="10.8"/>
<circle cx="455.6" cy="652.1" r="10.8"/>
<circle cx="407.8" cy="653.2" r="10.8"/>
<circle cx="457.8" cy="653.1" r="10.8"/>
<circle cx="378.5" cy="653.1" r="10.8"/>
<circle cx="407.8" cy="653.9" r="10.8"/>
<circle cx="450.0" cy="653.7" r="10.8"/>
<circle cx="459.8" cy="653.9" r="10.8"/>
<circle cx="402.3" cy="654.2" r="10.8"/>
<circle cx="454.5" cy="654.7" r="10.8"/>
<circle cx="376.7" cy="654.7" r="10.8"/>
<circle cx="406.6" cy="654.4" r="10.8"/>
<circle cx="402.5" cy="654.2" r="10.8"/>
<circle cx="374.2" cy="654.3" r="10.8"/>
<circle cx="404.2" cy="656.0" r="10.8"/>
<circle cx="384.6" cy="656.0" r="10.8"/>
<circle cx="391.8" cy="655.4" r="10.8"/>
<circle cx="444.7" cy="655.8" r="10.8"/>
<circle cx="411.2" cy="655.0" r="10.8"/>
<circle cx="414.7" cy="655.4" r="10.8"/>
<circle cx="453.1" cy="656.2" r="10.8"/>
<circle cx="405.3" cy="656.9" r="10.8"/>
<circle cx="376.6" cy="656.4" r="10.8"/>
<circle cx="443.8" cy="656.8" r="10.8"/>
<circle cx="377.5" cy="656.0" r="10.8"/>
<circle cx="379.4" cy="656.9" r="10.8"/>
<circle cx="396.1" cy="657.7" r="10.8"/>
<circle cx="451.3" cy="657.3" r="10.8"/>
<circle cx="397.4" cy="658.0" r="10.8"/>
<circle cx="427.1" cy="657.3" r="10.8"/>
<circle cx="435.6" cy="657.3" r="10.8"/>
<circle cx="397.7" cy="657.0" r="10.8"/>
<circle cx="439.0" cy="658.9" r="10.8"/>
<circle cx="428.5" cy="658.9" r="10.8"/>
<circle cx="376.1" cy="658.2" r="10.8"/>
<circle cx="414.9" cy="659.0" r="10.8"/>
<circle cx="456.0" cy="658.4" r="10.8"/>
<circle cx="395.6" cy="658.4" r="10.8"/>
<circle cx="416.4" cy="659.9" r="10.8"/>
<circle cx="389.7" cy="659.8" r="10.8"/>
<circle cx="437.5" cy="659.8" r="10.8"/>
<circle cx="440.5" cy="659.6" r="10.8"/>
<circle cx="402.2" cy="659.3" r="10.8"/>
<circle cx="405.1" cy="659.8" r="10.8"/>
<circle cx="380.8" cy="660.2" r="10.8"/>
<circle cx="438.7" cy="660.2" r="10.8"/>
<circle cx="379.6" cy="660.0" r="10.8"/>
<circle cx="421.5" cy="660.3" r="10.8"/>
<circle cx="458.3" cy="660.9" r="10.8"/>
<circle cx="459.0" cy="660.3" r="10.8"/>
<circle cx="381.2" cy="661.1" r="10.8"/>
<circle cx="416.9" cy="661.7" r="10.8"/>
<circle cx="412.4" cy="661.2" r="10.8"/>
<circle cx="409.8" cy="661.6" r="10.8"/>
<circle cx="432.0" cy="661.7" r="10.8"/>
<circle cx="446.8" cy="661.7" r="10.8"/>
<circle cx="384.4" cy="662.8" r="10.8"/>
<circle cx="399.3" cy="662.6" r="10.8"/>
<circle cx="406.1" cy="662.7" r="10.8"/>
<circle cx="391.1" cy="662.2" r="10.8"/>
<circle cx="395.1" cy="662.2" r="10.8"/>
<circle cx="450.0" cy="662.6" r="10.8"/>
<circle cx="402.1" cy="663.4" r="10.8"/>
<circle cx="459.4" cy="663.5" r="10.8"/>
<circle cx="393.9" cy="663.8" r="10.8"/>
<circle cx="430.2" cy="664.0" r="10.8"/>
<circle cx="382.8" cy="663.5" r="10.8"/>
<circle cx="444.4" cy="663.8" r="10.8"/>
<circle cx="452.6" cy="664.0" r="10.8"/>
<circle cx="399.3" cy="664.1" r="10.8"/>
<circle cx="390.3" cy="665.0" r="10.8"/>
<circle cx="424.2" cy="664.9" r="10.8"/>
<circle cx="406.0" cy="664.9" r="10.8"/>
<circle cx="412.6" cy="664.3" r="10.8"/>
<circle cx="440.9" cy="665.9" r="10.8"/>
<circle cx="383.1" cy="665.6" r="10.8"/>
<circle cx="427.3" cy="665.2" r="10.8"/>
<circle cx="405.7" cy="665.1" r="10.8"/>
<circle cx="391.5" cy="665.3" r="10.8"/>
<circle cx="425.6" cy="665.7" r="10.8"/>
<circle cx="391.5" cy="666.0" r="10.8"/>
<circle cx="402.1" cy="666.7" r="10.8"/>
<circle cx="389.9" cy="666.3" r="10.8"/>
<circle cx="391.5" cy="666.8" r="10.8"/>
<circle cx="421.1" cy="666.1" r="10.8"/>
<circle cx="382.7" cy="666.4" r="10.8"/>
<circle cx="421.3" cy="667.6" r="10.8"/>
<circle cx="381.8" cy="667.2" r="10.8"/>
<circle cx="433.8" cy="667.4" r="10.8"/>
<circle cx="398.4" cy="667.3" r="10.8"/>
<circle cx="456.0" cy="667.3" r="10.8"/>
<circle cx="422.7" cy="667.4" r="10.8"/>
<circle cx="409.8" cy="668.9" r="10.8"/>
<circle cx="459.7" cy="668.4" r="10.8"/>
<circle cx="391.0" cy="668.7" r="10.8"/>
<circle cx="391.5" cy="668.0" r="10.8"/>
<circle cx="451.5" cy="668.4" r="10.8"/>
<circle cx="444.6" cy="668.4" r="10.8"/>
<circle cx="449.9" cy="669.5" r="10.8"/>
<circle cx="388.0" cy="669.0" r="10.8"/>
<circle cx="421.4" cy="669.6" r="10.8"/>
<circle cx="452.2" cy="669.1" r="10.8"/>
<circle cx="427.5" cy="669.4" r="10.8"/>
<circle cx="417.4" cy="669.1" r="10.8"/>
<circle cx="398.4" cy="670.5" r="10.8"/>
<circle cx="453.6" cy="670.1" r="10.8"/>
<circle cx="416.2" cy="670.8" r="10.8"/>
<circle cx="457.2" cy="670.2" r="10.8"/>
<circle cx="384.9" cy="670.9" r="10.8"/>
<circle cx="457.9" cy="670.5" r="10.8"/>
<circle cx="378.6" cy="671.9" r="10.8"/>
<circle cx="407.4" cy="671.9" r="10.8"/>
<circle cx="427.3" cy="671.8" r="10.8"/>
<circle cx="387.8" cy="671.8" r="10.8"/>
<circle cx="393.1" cy="671.4" r="10.8"/>
<circle cx="446.8" cy="671.8" r="10.8"/>
<circle cx="389.7" cy="672.2" r="10.8"/>
<circle cx="408.4" cy="672.5" r="10.8"/>
<circle cx="407.0" cy="672.1" r="10.8"/>
<circle cx="395.2" cy="672.7" r="10.8"/>
<circle cx="451.2" cy="672.0" r="10.8"/>
<circle cx="422.4" cy="672.8" r="10.8"/>
<circle cx="377.3" cy="673.8" r="10.8"/>
<circle cx="384.1" cy="673.6" r="10.8"/>
<circle cx="421.3" cy="673.6" r="10.8"/>
<circle cx="400.3" cy="673.4" r="10.8"/>
<circle cx="424.1" cy="673.4" r="10.8"/>
<circle cx="430.7" cy="673.4" r="10.8"/>
<circle cx="411.7" cy="674.0" r="10.8"/>
<circle cx="427.2" cy="674.5" r="10.8"/>
<circle cx="394.2" cy="674.8" r="10.8"/>
<circle cx="441.1" cy="674.5" r="10.8"/>
<circle cx="389.4" cy="674.5" r="10.8"/>
<circle cx="383.2" cy="674.1" r="10.8"/>
<circle cx="411.0" cy="675.1" r="10.8"/>
<circle cx="412.0" cy="675.5" r="10.8"/>
<circle cx="377.5" cy="675.6" r="10.8"/>
<circle cx="381.1" cy="675.7" r="10.8"/>
<circle cx="440.9" cy="675.5" r="10.8"/>
<circle cx="378.7" cy="675.5" r="10.8"/>
<circle cx="406.5" cy="677.0" r="10.8"/>
<circle cx="385.7" cy="676.9" r="10.8"/>
<circle cx="459.7" cy="676.7" r="10.8"/>
<circle cx="444.1" cy="676.2" r="10.8"/>
<circle cx="458.4" cy="676.5" r="10.8"/>
<circle cx="456.3" cy="676.9" r="10.8"/>
<circle cx="388.2" cy="677.8" r="10.8"/>
<circle cx="454.0" cy="677.1" r="10.8"/>
<circle cx="404.2" cy="677.8" r="10.8"/>
<circle cx="387.7" cy="677.9" r="10.8"/>
<circle cx="397.6" cy="677.8" r="10.8"/>
<circle cx="386.3" cy="677.5" r="10.8"/>
<circle cx="453.1" cy="678.2" r="10.8"/>
<circle cx="396.6" cy="678.5" r="10.8"/>
<circle cx="401.4" cy="678.0" r="10.8"/>
<circle cx="389.7" cy="678.2" r="10.8"/>
<circle cx="454.5" cy="678.7" r="10.8"/>
<circle cx="451.0" cy="678.2" r="10.8"/>
<circle cx="441.5" cy="679.1" r="10.8"/>
<circle cx="419.6" cy="679.6" r="10.8"/>
<circle cx="404.9" cy="679.9" r="10.8"/>
<circle cx="421.7" cy="679.6" r="10.8"/>
<circle cx="449.9" cy="679.1" r="10.8"/>
<circle cx="459.4" cy="679.6" r="10.8"/>
<circle cx="407.9" cy="680.8" r="10.8"/>
<circle cx="396.8" cy="681.0" r="10.8"/>
<circle cx="423.7" cy="680.4" r="10.8"/>
<circle cx="439.8" cy="680.4" r="10.8"/>
<circle cx="389.2" cy="680.7" r="10.8"/>
<circle cx="378.2" cy="680.8" r="10.8"/>
<circle cx="395.8" cy="681.6" r="10.8"/>
<circle cx="458.6" cy="681.6" r="10.8"/>
<circle cx="431.1" cy="681.3" r="10.8"/>
<circle cx="374.2" cy="681.0" r="10.8"/>
<circle cx="386.8" cy="681.6" r="10.8"/>
<circle cx="411.2" cy="681.5" r="10.8"/>
<circle cx="451.0" cy="682.1" r="10.8"/>
<circle cx="393.5" cy="682.7" r="10.8"/>
<circle cx="375.9" cy="682.0" r="10.8"/>
<circle cx="404.5" cy="682.1" r="10.8"/>
<circle cx="404.7" cy="682.2" r="10.8"/>
<circle cx="424.2" cy="682.6" r="10.8"/>
<circle cx="391.6" cy="683.6" r="10.8"/>
<circle cx="414.8" cy="683.1" r="10.8"/>
<circle cx="454.5" cy="683.2" r="10.8"/>
<circle cx="386.8" cy="683.1" r="10.8"/>
<circle cx="428.9" cy="683.9" r="10.8"/>
<circle cx="441.3" cy="683.4" r="10.8"/>
<circle cx="396.7" cy="684.0" r="10.8"/>
<circle cx="429.5" cy="684.6" r="10.8"/>
<circle cx="404.1" cy="684.6" r="10.8"/>
<circle cx="412.2" cy="684.9" r="10.8"/>
<circle cx="437.1" cy="684.2" r="10.8"/>
<circle cx="451.7" cy="684.0" r="10.8"/>
<circle cx="419.7" cy="685.4" r="10.8"/>
<circle cx="394.4" cy="685.1" r="10.8"/>
<circle cx="441.0" cy="685.0" r="10.8"/>
<circle cx="421.4" cy="685.9" r="10.8"/>
<circle cx="386.2" cy="685.2" r="10.8"/>
<circle cx="426.3" cy="685.5" r="10.8"/>
<circle cx="429.2" cy="686.8" r="10.8"/>
<circle cx="389.0" cy="686.3" r="10.8"/>
<circle cx="399.8" cy="686.0" r="10.8"/>
<circle cx="450.5" cy="686.8" r="10.8"/>
<circle cx="435.5" cy="686.0" r="10.8"/>
<circle cx="446.6" cy="686.7" r="10.8"/>
<circle cx="414.0" cy="687.7" r="10.8"/>
<circle cx="412.9" cy="687.2" r="10.8"/>
<circle cx="383.1" cy="687.2" r="10.8"/>
<circle cx="377.3" cy="687.3" r="10.8"/>
<circle cx="438.5" cy="687.7" r="10.8"/>
<circle cx="446.7" cy="687.7" r="10.8"/>
<circle cx="396.9" cy="688.6" r="10.8"/>
<circle cx="411.5" cy="688.8" r="10.8"/>
<circle cx="419.0" cy="688.3" r="10.8"/>
<circle cx="429.2" cy="689.0" r="10.8"/>
<circle cx="392.7" cy="688.9" r="10.8"/>
<circle cx="375.3" cy="688.3" r="10.8"/>
<circle cx="394.3" cy="689.7" r="10.8"/>
<circle cx="455.2" cy="689.7" r="10.8"/>
<circle cx="402.1" cy="689.9" r="10.8"/>
<circle cx="402.3" cy="689.2" r="10.8"/>
<circle cx="452.1" cy="689.6" r="10.8"/>
<circle cx="433.6" cy="689.7" r="10.8"/>
<circle cx="458.2" cy="690.5" r="10.8"/>
<circle cx="446.2" cy="690.7" r="10.8"/>
<circle cx="447.7" cy="690.4" r="10.8"/>
<circle cx="436.3" cy="690.6" r="10.8"/>
<circle cx="400.5" cy="690.2" r="10.8"/>
<circle cx="427.5" cy="690.1" r="10.8"/>
<circle cx="452.3" cy="691.1" r="10.8"/>
<circle cx="376.3" cy="691.1" r="10.8"/>
<circle cx="453.9" cy="691.3" r="10.8"/>
<circle cx="386.2" cy="691.0" r="10.8"/>
<circle cx="377.6" cy="691.7" r="10.8"/>
<circle cx="428.5" cy="691.7" r="10.8"/>
<circle cx="437.4" cy="692.1" r="10.8"/>
<circle cx="424.8" cy="692.4" r="10.8"/>
<circle cx="444.3" cy="692.8" r="10.8"/>
<circle cx="450.7" cy="692.1" r="10.8"/>
<circle cx="448.6" cy="692.9" r="10.8"/>
<circle cx="455.2" cy="692.1" r="10.8"/>
<circle cx="391.7" cy="693.1" r="10.8"/>
<circle cx="377.0" cy="693.8" r="10.8"/>
<circle cx="443.8" cy="693.6" r="10.8"/>
<circle cx="445.0" cy="693.6" r="10.8"/>
<circle cx="398.7" cy="693.1" r="10.8"/>
<circle cx="382.4" cy="693.8" r="10.8"/>
<circle cx="391.6" cy="694.3" r="10.8"/>
<circle cx="410.4" cy="694.0" r="10.8"/>
<circle cx="396.1" cy="694.3" r="10.8"/>
<circle cx="435.6" cy="694.4" r="10.8"/>
<circle cx="401.6" cy="695.0" r="10.8"/>
<circle cx="417.3" cy="694.9" r="10.8"/>
<circle cx="427.2" cy="695.0" r="10.8"/>
<circle cx="409.5" cy="695.4" r="10.8"/>
<circle cx="440.5" cy="695.3" r="10.8"/>
<circle cx="434.6" cy="695.5" r="10.8"/>
<circle cx="392.6" cy="695.9" r="10.8"/>
<circle cx="381.8" cy="695.8" r="10.8"/>
<circle cx="388.7" cy="696.0" r="10.8"/>
<circle cx="391.4" cy="696.8" r="10.8"/>
<circle cx="458.1" cy="696.0" r="10.8"/>
<circle cx="416.2" cy="696.5" r="10.8"/>
<circle cx="442.5" cy="696.2" r="10.8"/>
<circle cx="416.5" cy="696.3" r="10.8"/>
<circle cx="445.5" cy="697.3" r="10.8"/>
<circle cx="455.2" cy="697.3" r="10.8"/>
<circle cx="392.5" cy="697.7" r="10.8"/>
<circle cx="416.9" cy="697.1" r="10.8"/>
<circle cx="428.7" cy="697.1" r="10.8"/>
<circle cx="441.8" cy="697.7" r="10.8"/>
<circle cx="441.7" cy="698.6" r="10.8"/>
<circle cx="404.6" cy="698.4" r="10.8"/>
<circle cx="407.9" cy="698.9" r="10.8"/>
<circle cx="381.4" cy="698.9" r="10.8"/>
<circle cx="376.2" cy="698.2" r="10.8"/>
<circle cx="396.6" cy="698.9" r="10.8"/>
<circle cx="417.1" cy="699.4" r="10.8"/>
<circle cx="450.0" cy="699.2" r="10.8"/>
<circle cx="413.6" cy="699.5" r="10.8"/>
<circle cx="438.9" cy="699.8" r="10.8"/>
<circle cx="429.6" cy="699.3" r="10.8"/>
<circle cx="402.1" cy="699.2" r="10.8"/>
<circle cx="446.5" cy="700.7" r="10.8"/>
<circle cx="437.8" cy="700.2" r="10.8"/>
<circle cx="411.7" cy="700.8" r="10.8"/>
<circle cx="423.8" cy="700.1" r="10.8"/>
<circle cx="413.7" cy="700.9" r="10.8"/>
<circle cx="394.5" cy="700.2" r="10.8"/>
<circle cx="399.9" cy="701.7" r="10.8"/>
<circle cx="446.6" cy="701.2" r="10.8"/>
<circle cx="387.4" cy="701.2" r="10.8"/>
<circle cx="402.1" cy="701.5" r="10.8"/>
<circle cx="387.8" cy="701.3" r="10.8"/>
<circle cx="390.3" cy="702.0" r="10.8"/>
<circle cx="436.7" cy="702.1" r="10.8"/>
<circle cx="456.8" cy="702.1" r="10.8"/>
<circle cx="407.0" cy="703.0" r="10.8"/>
<circle cx="442.4" cy="702.7" r="10.8"/>
<circle cx="411.4" cy="702.2" r="10.8"/>
<circle cx="428.9" cy="702.1" r="10.8"/>
<circle cx="391.8" cy="703.4" r="10.8"/>
<circle cx="376.9" cy="703.4" r="10.8"/>
<circle cx="442.0" cy="703.7" r="10.8"/>
<circle cx="417.0" cy="703.6" r="10.8"/>
<circle cx="413.8" cy="703.1" r="10.8"/>
<circle cx="425.9" cy="703.4" r="10.8"/>
<circle cx="437.7" cy="704.9" r="10.8"/>
<circle cx="411.0" cy="704.6" r="10.8"/>
<circle cx="438.4" cy="704.4" r="10.8"/>
<circle cx="393.7" cy="704.7" r="10.8"/>
<circle cx="449.7" cy="704.8" r="10.8"/>
<circle cx="434.2" cy="704.9" r="10.8"/>
<circle cx="432.4" cy="705.6" r="10.8"/>
<circle cx="413.0" cy="705.3" r="10.8"/>
<circle cx="428.0" cy="705.1" r="10.8"/>
<circle cx="410.1" cy="705.8" r="10.8"/>
<circle cx="435.3" cy="705.6" r="10.8"/>
<circle cx="395.5" cy="705.4" r="10.8"/>
<circle cx="413.1" cy="706.6" r="10.8"/>
<circle cx="409.2" cy="706.7" r="10.8"/>
<circle cx="454.0" cy="706.2" r="10.8"/>
<circle cx="430.3" cy="706.8" r="10.8"/>
<circle cx="407.4" cy="706.5" r="10.8"/>
<circle cx="457.8" cy="706.0" r="10.8"/>
<circle cx="420.7" cy="707.2" r="10.8"/>
<circle cx="441.2" cy="707.9" r="10.8"/>
<circle cx="418.7" cy="707.1" r="10.8"/>
<circle cx="423.4" cy="707.5" r="10.8"/>
<circle cx="435.7" cy="707.5" r="10.8"/>
<circle cx="429.0" cy="707.8" r="10.8"/>
<circle cx="418.9" cy="708.4" r="10.8"/>
<circle cx="455.5" cy="708.2" r="10.8"/>
<circle cx="432.9" cy="708.4" r="10.8"/>
<circle cx="439.6" cy="708.1" r="10.8"/>
<circle cx="458.7" cy="708.4" r="10.8"/>
<circle cx="378.9" cy="708.3" r="10.8"/>
<circle cx="408.4" cy="709.0" r="10.8"/>
<circle cx="410.0" cy="709.4" r="10.8"/>
<circle cx="434.0" cy="709.4" r="10.8"/>
<circle cx="396.8" cy="709.2" r="10.8"/>
<circle cx="437.8" cy="709.9" r="10.8"/>
<circle cx="419.3" cy="709.2" r="10.8"/>
<circle cx="442.9" cy="710.4" r="10.8"/>
<circle cx="392.2" cy="710.1" r="10.8"/>
<circle cx="440.8" cy="710.8" r="10.8"/>
<circle cx="428.5" cy="710.5" r="10.8"/>
<circle cx="422.3" cy="710.2" r="10.8"/>
<circle cx="456.9" cy="710.4" r="10.8"/>
<circle cx="428.9" cy="711.8" r="10.8"/>
<circle cx="444.2" cy="711.5" r="10.8"/>
<circle cx="399.3" cy="711.5" r="10.8"/>
<circle cx="384.8" cy="711.8" r="10.8"/>
<circle cx="404.5" cy="711.9" r="10.8"/>
<circle cx="397.0" cy="711.4" r="10.8"/>
<circle cx="395.8" cy="712.4" r="10.8"/>
<circle cx="390.0" cy="712.0" r="10.8"/>
<circle cx="436.1" cy="712.3" r="10.8"/>
<circle cx="395.1" cy="712.3" r="10.8"/>
<circle cx="415.2" cy="712.4" r="10.8"/>
<circle cx="428.8" cy="712.7" r="10.8"/>
<circle cx="405.2" cy="713.9" r="10.8"/>
<circle cx="447.5" cy="713.1" r="10.8"/>
<circle cx="445.2" cy="713.9" r="10.8"/>
<circle cx="441.4" cy="713.1" r="10.8"/>
<circle cx="445.5" cy="713.6" r="10.8"/>
<circle cx="375.3" cy="713.0" r="10.8"/>
<circle cx="455.9" cy="714.7" r="10.8"/>
<circle cx="395.5" cy="714.1" r="10.8"/>
<circle cx="386.3" cy="714.2" r="10.8"/>
<circle cx="440.8" cy="714.3" r="10.8"/>
<circle cx="387.1" cy="714.9" r="10.8"/>
<circle cx="442.1" cy="714.2" r="10.8"/>
<circle cx="450.6" cy="715.6" r="10.8"/>
<circle cx="441.2" cy="715.7" r="10.8"/>
<circle cx="450.9" cy="715.8" r="10.8"/>
<circle cx="446.1" cy="715.2" r="10.8"/>
<circle cx="433.6" cy="715.5" r="10.8"/>
<circle cx="437.8" cy="715.4" r="10.8"/>
<circle cx="449.9" cy="716.6" r="10.8"/>
<circle cx="396.7" cy="716.2" r="10.8"/>
<circle cx="386.0" cy="716.5" r="10.8"/>
<circle cx="379.0" cy="716.5" r="10.8"/>
<circle cx="386.4" cy="716.5" r="10.8"/>
<circle cx="416.8" cy="716.5" r="10.8"/>
<circle cx="448.2" cy="717.0" r="10.8"/>
<circle cx="446.3" cy="717.5" r="10.8"/>
<circle cx="422.4" cy="717.7" r="10.8"/>
<circle cx="446.3" cy="717.4" r="10.8"/>
<circle cx="410.0" cy="718.0" r="10.8"/>
<circle cx="380.5" cy="717.6" r="10.8"/>
<circle cx="428.7" cy="718.0" r="10.8"/>
<circle cx="426.4" cy="718.7" r="10.8"/>
<circle cx="454.1" cy="718.3" r="10.8"/>
<circle cx="458.4" cy="718.5" r="10.8"/>
<circle cx="415.7" cy="718.9" r="10.8"/>
<circle cx="376.9" cy="718.7" r="10.8"/>
<circle cx="427.8" cy="719.3" r="10.8"/>
<circle cx="448.1" cy="719.4" r="10.8"/>
<circle cx="414.8" cy="719.5" r="10.8"/>
<circle cx="440.3" cy="719.2" r="10.8"/>
<circle cx="411.4" cy="719.4" r="10.8"/>
<circle cx="421.6" cy="719.8" r="10.8"/>
<circle cx="399.2" cy="720.8" r="10.8"/>
<circle cx="408.7" cy="720.5" r="10.8"/>
<circle cx="397.4" cy="720.5" r="10.8"/>
<circle cx="457.8" cy="720.7" r="10.8"/>
<circle cx="442.1" cy="720.3" r="10.8"/>
<circle cx="401.3" cy="720.3" r="10.8"/>
<circle cx="424.4" cy="721.6" r="10.8"/>
<circle cx="441.4" cy="721.0" r="10.8"/>
<circle cx="436.2" cy="721.9" r="10.8"/>
<circle cx="420.9" cy="721.0" r="10.8"/>
<circle cx="399.8" cy="721.0" r="10.8"/>
<circle cx="390.3" cy="721.9" r="10.8"/>
<circle cx="426.3" cy="722.7" r="10.8"/>
<circle cx="441.9" cy="722.9" r="10.8"/>
<circle cx="426.6" cy="722.6" r="10.8"/>
<circle cx="427.9" cy="722.7" r="10.8"/>
<circle cx="425.3" cy="722.7" r="10.8"/>
<circle cx="392.3" cy="722.7" r="10.8"/>
<circle cx="413.4" cy="723.8" r="10.8"/>
<circle cx="382.7" cy="723.2" r="10.8"/>
<circle cx="377.2" cy="723.8" r="10.8"/>
<circle cx="452.6" cy="723.7" r="10.8"/>
<circle cx="405.7" cy="723.8" r="10.8"/>
<circle cx="441.6" cy="723.6" r="10.8"/>
<circle cx="396.2" cy="724.3" r="10.8"/>
<circle cx="410.3" cy="724.3" r="10.8"/>
<circle cx="411.0" cy="724.6" r="10.8"/>
<circle cx="454.3" cy="724.1" r="10.8"/>
<circle cx="422.8" cy="724.0" r="10.8"/>
<circle cx="384.2" cy="724.8" r="10.8"/>
<circle cx="423.5" cy="725.9" r="10.8"/>
<circle cx="412.4" cy="725.0" r="10.8"/>
<circle cx="407.3" cy="725.6" r="10.8"/>
<circle cx="454.6" cy="726.0" r="10.8"/>
<circle cx="414.9" cy="725.4" r="10.8"/>
<circle cx="382.8" cy="725.6" r="10.8"/>
<circle cx="392.3" cy="726.2" r="10.8"/>
<circle cx="375.3" cy="726.0" r="10.8"/>
<circle cx="432.8" cy="726.1" r="10.8"/>
<circle cx="457.1" cy="726.1" r="10.8"/>
<circle cx="448.8" cy="726.1" r="10.8"/>
<circle cx="375.5" cy="726.7" r="10.8"/>
<circle cx="394.8" cy="727.7" r="10.8"/>
<circle cx="390.1" cy="727.1" r="10.8"/>
<circle cx="440.6" cy="727.7" r="10.8"/>
<circle cx="447.6" cy="727.7" r="10.8"/>
<circle cx="381.2" cy="727.6" r="10.8"/>
<circle cx="435.0" cy="727.5" r="10.8"/>
<circle cx="454.2" cy="728.3" r="10.8"/>
<circle cx="456.9" cy="728.7" r="10.8"/>
<circle cx="375.0" cy="728.0" r="10.8"/>
<circle cx="430.0" cy="728.8" r="10.8"/>
<circle cx="380.9" cy="728.3" r="10.8"/>
<circle cx="436.7" cy="728.2" r="10.8"/>
<circle cx="448.0" cy="729.5" r="10.8"/>
<circle cx="379.1" cy="729.4" r="10.8"/>
<circle cx="423.4" cy="729.4" r="10.8"/>
<circle cx="432.2" cy="729.1" r="10.8"/>
<circle cx="442.6" cy="729.4" r="10.8"/>
<circle cx="429.5" cy="729.6" r="10.8"/>
<circle cx="409.9" cy="730.4" r="10.8"/>
<circle cx="441.6" cy="730.9" r="10.8"/>
<circle cx="441.5" cy="730.6" r="10.8"/>
<circle cx="399.1" cy="730.1" r="10.8"/>
<circle cx="457.8" cy="730.7" r="10.8"/>
<circle cx="445.2" cy="730.3" r="10.8"/>
<circle cx="426.1" cy="732.0" r="10.8"/>
<circle cx="445.5" cy="731.6" r="10.8"/>
<circle cx="400.5" cy="731.4" r="10.8"/>
<circle cx="450.4" cy="731.4" r="10.8"/>
<circle cx="432.9" cy="731.6" r="10.8"/>
<circle cx="451.1" cy="731.8" r="10.8"/>
<circle cx="398.4" cy="732.0" r="10.8"/>
<circle cx="396.6" cy="732.4" r="10.8"/>
<circle cx="424.5" cy="732.8" r="10.8"/>
<circle cx="450.3" cy="732.0" r="10.8"/>
<circle cx="445.7" cy="732.8" r="10.8"/>
<circle cx="448.6" cy="732.6" r="10.8"/>
<circle cx="397.6" cy="733.9" r="10.8"/>
<circle cx="443.4" cy="733.7" r="10.8"/>
<circle cx="452.6" cy="733.3" r="10.8"/>
<circle cx="381.3" cy="733.6" r="10.8"/>
<circle cx="442.6" cy="733.2" r="10.8"/>
<circle cx="438.5" cy="733.9" r="10.8"/>
<circle cx="394.1" cy="734.6" r="10.8"/>
<circle cx="432.3" cy="734.5" r="10.8"/>
<circle cx="391.8" cy="734.3" r="10.8"/>
<circle cx="438.6" cy="734.8" r="10.8"/>
<circle cx="413.5" cy="734.1" r="10.8"/>
<circle cx="443.4" cy="734.8" r="10.8"/>
<circle cx="394.0" cy="735.6" r="10.8"/>
<circle cx="451.1" cy="735.9" r="10.8"/>
<circle cx="418.9" cy="735.5" r="10.8"/>
<circle cx="424.7" cy="735.2" r="10.8"/>
<circle cx="390.5" cy="735.2" r="10.8"/>
<circle cx="434.3" cy="735.4" r="10.8"/>
<circle cx="422.5" cy="736.4" r="10.8"/>
<circle cx="418.5" cy="736.1" r="10.8"/>
<circle cx="377.8" cy="737.0" r="10.8"/>
<circle cx="406.2" cy="736.1" r="10.8"/>
<circle cx="428.4" cy="736.8" r="10.8"/>
<circle cx="387.4" cy="736.6" r="10.8"/>
<circle cx="403.7" cy="737.5" r="10.8"/>
<circle cx="375.8" cy="737.0" r="10.8"/>
<circle cx="459.2" cy="737.9" r="10.8"/>
<circle cx="415.8" cy="737.6" r="10.8"/>
<circle cx="396.5" cy="737.8" r="10.8"/>
<circle cx="410.6" cy="737.9" r="10.8"/>
<circle cx="440.0" cy="738.8" r="10.8"/>
<circle cx="456.9" cy="738.3" r="10.8"/>
<circle cx="377.3" cy="738.2" r="10.8"/>
<circle cx="389.5" cy="738.1" r="10.8"/>
<circle cx="378.4" cy="738.6" r="10.8"/>
<circle cx="448.9" cy="738.5" r="10.8"/>
<circle cx="455.5" cy="739.9" r="10.8"/>
<circle cx="379.5" cy="739.6" r="10.8"/>
<circle cx="408.2" cy="739.1" r="10.8"/>
<circle cx="456.5" cy="739.3" r="10.8"/>
<circle cx="422.5" cy="739.6" r="10.8"/>
<circle cx="456.3" cy="739.7" r="10.8"/>
<circle cx="407.8" cy="740.4" r="10.8"/>
<circle cx="387.7" cy="741.0" r="10.8"/>
<circle cx="459.3" cy="740.2" r="10.8"/>
<circle cx="377.3" cy="740.3" r="10.8"/>
<circle cx="404.3" cy="740.9" r="10.8"/>
<circle cx="451.8" cy="740.8" r="10.8"/>
<circle cx="378.0" cy="741.8" r="10.8"/>
<circle cx="435.0" cy="741.6" r="10.8"/>
<circle cx="458.7" cy="741.1" r="10.8"/>
<circle cx="386.5" cy="741.8" r="10.8"/>
<circle cx="454.8" cy="741.7" r="10.8"/>
<circle cx="399.7" cy="741.6" r="10.8"/>
<circle cx="439.2" cy="742.1" r="10.8"/>
<circle cx="401.9" cy="742.3" r="10.8"/>
<circle cx="384.7" cy="742.5" r="10.8"/>
<circle cx="388.5" cy="742.2" r="10.8"/>
<circle cx="386.3" cy="742.7" r="10.8"/>
<circle cx="375.1" cy="742.7" r="10.8"/>
<circle cx="390.8" cy="743.0" r="10.8"/>
<circle cx="453.8" cy="743.2" r="10.8"/>
<circle cx="454.3" cy="743.9" r="10.8"/>
<circle cx="450.4" cy="743.1" r="10.8"/>
<circle cx="412.5" cy="743.1" r="10.8"/>
<circle cx="453.9" cy="743.8" r="10.8"/>
<circle cx="428.0" cy="744.5" r="10.8"/>
<circle cx="403.2" cy="744.8" r="10.8"/>
<circle cx="415.1" cy="744.6" r="10.8"/>
<circle cx="386.3" cy="744.2" r="10.8"/>
<circle cx="378.9" cy="744.7" r="10.8"/>
<circle cx="421.6" cy="744.1" r="10.8"/>
<circle cx="448.9" cy="745.3" r="10.8"/>
<circle cx="409.4" cy="745.2" r="10.8"/>
<circle cx="397.3" cy="745.8" r="10.8"/>
<circle cx="402.8" cy="745.2" r="10.8"/>
<circle cx="416.2" cy="745.3" r="10.8"/>
<circle cx="451.7" cy="745.1" r="10.8"/>
<circle cx="458.2" cy="746.1" r="10.8"/>
<circle cx="451.0" cy="746.7" r="10.8"/>
<circle cx="392.2" cy="746.5" r="10.8"/>
<circle cx="398.6" cy="746.3" r="10.8"/>
<circle cx="391.3" cy="746.4" r="10.8"/>
<circle cx="459.2" cy="747.0" r="10.8"/>
<circle cx="453.6" cy="747.1" r="10.8"/>
<circle cx="398.9" cy="747.9" r="10.8"/>
<circle cx="378.9" cy="747.7" r="10.8"/>
<circle cx="399.2" cy="748.0" r="10.8"/>
<circle cx="375.4" cy="747.8" r="10.8"/>
<circle cx="403.3" cy="747.1" r="10.8"/>
<circle cx="374.2" cy="748.8" r="10.8"/>
<circle cx="419.3" cy="748.2" r="10.8"/>
<circle cx="411.4" cy="748.9" r="10.8"/>
<circle cx="392.8" cy="748.6" r="10.8"/>
<circle cx="385.9" cy="748.2" r="10.8"/>
<circle cx="440.3" cy="748.7" r="10.8"/>
<circle cx="390.9" cy="749.1" r="10.8"/>
<circle cx="381.5" cy="749.6" r="10.8"/>
<circle cx="416.6" cy="749.3" r="10.8"/>
<circle cx="391.7" cy="749.6" r="10.8"/>
<circle cx="434.9" cy="749.8" r="10.8"/>
<circle cx="424.1" cy="749.2" r="10.8"/>
<circle cx="379.6" cy="750.7" r="10.8"/>
<circle cx="409.1" cy="750.7" r="10.8"/>
<circle cx="378.8" cy="750.8" r="10.8"/>
<circle cx="402.8" cy="750.8" r="10.8"/>
<circle cx="448.3" cy="750.5" r="10.8"/>
<circle cx="375.3" cy="750.9" r="10.8"/>
<circle cx="415.0" cy="751.9" r="10.8"/>
<circle cx="396.9" cy="751.2" r="10.8"/>
<circle cx="445.5" cy="751.4" r="10.8"/>
<circle cx="388.1" cy="751.4" r="10.8"/>
<circle cx="425.2" cy="751.0" r="10.8"/>
<circle cx="418.7" cy="751.4" r="10.8"/>
<circle cx="418.3" cy="752.1" r="10.8"/>
<circle cx="435.5" cy="752.8" r="10.8"/>
<circle cx="448.4" cy="752.3" r="10.8"/>
<circle cx="435.2" cy="752.4" r="10.8"/>
<circle cx="438.6" cy="752.1" r="10.8"/>
<circle cx="449.1" cy="753.0" r="10.8"/>
<circle cx="416.6" cy="753.5" r="10.8"/>
<circle cx="419.6" cy="753.5" r="10.8"/>
<circle cx="375.8" cy="754.0" r="10.8"/>
<circle cx="393.2" cy="753.2" r="10.8"/>
<circle cx="382.8" cy="753.3" r="10.8"/>
<circle cx="444.3" cy="753.0" r="10.8"/>
<circle cx="382.3" cy="754.7" r="10.8"/>
<circle cx="390.8" cy="754.0" r="10.8"/>
<circle cx="425.5" cy="754.6" r="10.8"/>
<circle cx="419.0" cy="754.7" r="10.8"/>
<circle cx="382.8" cy="754.9" r="10.8"/>
<circle cx="435.7" cy="754.0" r="10.8"/>
<circle cx="384.6" cy="755.5" r="10.8"/>
<circle cx="417.1" cy="755.3" r="10.8"/>
<circle cx="384.5" cy="755.4" r="10.8"/>
<circle cx="385.8" cy="755.6" r="10.8"/>
<circle cx="448.1" cy="755.1" r="10.8"/>
<circle cx="423.3" cy="755.7" r="10.8"/>
<circle cx="388.1" cy="756.8" r="10.8"/>
<circle cx="454.6" cy="756.4" r="10.8"/>
<circle cx="410.2" cy="756.8" r="10.8"/>
<circle cx="419.2" cy="756.4" r="10.8"/>
<circle cx="455.0" cy="756.8" r="10.8"/>
<circle cx="403.1" cy="756.2" r="10.8"/>
<circle cx="402.8" cy="757.4" r="10.8"/>
<circle cx="458.4" cy="757.8" r="10.8"/>
<circle cx="452.5" cy="757.8" r="10.8"/>
<circle cx="446.9" cy="757.1" r="10.8"/>
<circle cx="418.5" cy="758.0" r="10.8"/>
<circle cx="454.4" cy="757.2" r="10.8"/>
<circle cx="410.3" cy="758.6" r="10.8"/>
<circle cx="405.3" cy="758.5" r="10.8"/>
<circle cx="380.0" cy="758.4" r="10.8"/>
<circle cx="417.4" cy="758.0" r="10.8"/>
<circle cx="386.0" cy="759.0" r="10.8"/>
<circle cx="440.8" cy="758.9" r="10.8"/>
<circle cx="428.5" cy="759.8" r="10.8"/>
<circle cx="450.1" cy="759.9" r="10.8"/>
<circle cx="377.0" cy="759.6" r="10.8"/>
<circle cx="396.9" cy="759.7" r="10.8"/>
<circle cx="397.5" cy="759.5" r="10.8"/>
<circle cx="453.5" cy="759.6" r="10.8"/>
<circle cx="395.5" cy="760.5" r="10.8"/>
<circle cx="411.3" cy="761.0" r="10.8"/>
<circle cx="398.7" cy="760.3" r="10.8"/>
<circle cx="429.7" cy="760.1" r="10.8"/>
<circle cx="425.1" cy="761.0" r="10.8"/>
<circle cx="418.2" cy="760.3" r="10.8"/>
<circle cx="414.1" cy="761.5" r="10.8"/>
<circle cx="386.8" cy="761.1" r="10.8"/>
<circle cx="385.3" cy="761.3" r="10.8"/>
<circle cx="409.0" cy="761.3" r="10.8"/>
<circle cx="394.9" cy="761.1" r="10.8"/>
<circle cx="421.0" cy="761.8" r="10.8"/>
<circle cx="426.5" cy="762.6" r="10.8"/>
<circle cx="429.9" cy="762.2" r="10.8"/>
<circle cx="435.1" cy="762.5" r="10.8"/>
<circle cx="421.1" cy="762.6" r="10.8"/>
<circle cx="414.3" cy="762.3" r="10.8"/>
<circle cx="394.8" cy="762.2" r="10.8"/>
<circle cx="418.1" cy="763.4" r="10.8"/>
<circle cx="424.4" cy="763.0" r="10.8"/>
<circle cx="404.3" cy="763.9" r="10.8"/>
<circle cx="394.5" cy="763.6" r="10.8"/>
<circle cx="416.3" cy="763.3" r="10.8"/>
<circle cx="458.9" cy="763.3" r="10.8"/>
<circle cx="440.4" cy="764.2" r="10.8"/>
<circle cx="379.7" cy="764.9" r="10.8"/>
<circle cx="411.8" cy="764.1" r="10.8"/>
<circle cx="407.4" cy="764.4" r="10.8"/>
<circle cx="437.2" cy="764.1" r="10.8"/>
<circle cx="393.4" cy="765.0" r="10.8"/>
<circle cx="437.5" cy="765.2" r="10.8"/>
<circle cx="403.0" cy="765.4" r="10.8"/>
<circle cx="432.1" cy="765.6" r="10.8"/>
<circle cx="447.1" cy="765.8" r="10.8"/>
<circle cx="418.5" cy="765.7" r="10.8"/>
<circle cx="437.9" cy="765.8" r="10.8"/>
<circle cx="414.9" cy="766.8" r="10.8"/>
<circle cx="434.9" cy="766.9" r="10.8"/>
<circle cx="384.9" cy="766.9" r="10.8"/>
<circle cx="374.4" cy="766.8" r="10.8"/>
<circle cx="424.4" cy="766.5" r="10.8"/>
<circle cx="456.8" cy="766.6" r="10.8"/>
<circle cx="409.9" cy="767.8" r="10.8"/>
<circle cx="449.1" cy="767.6" r="10.8"/>
<circle cx="406.6" cy="767.5" r="10.8"/>
<circle cx="413.4" cy="767.7" r="10.8"/>
<circle cx="399.2" cy="767.4" r="10.8"/>
<circle cx="421.8" cy="767.4" r="10.8"/>
<circle cx="401.7" cy="768.8" r="10.8"/>
<circle cx="447.1" cy="768.5" r="10.8"/>
<circle cx="412.2" cy="768.2" r="10.8"/>
<circle cx="400.1" cy="768.1" r="10.8"/>
<circle cx="423.5" cy="768.6" r="10.8"/>
<circle cx="381.6" cy="768.9" r="10.8"/>
<circle cx="401.9" cy="769.8" r="10.8"/>
<circle cx="446.1" cy="770.0" r="10.8"/>
<circle cx="391.6" cy="769.4" r="10.8"/>
<circle cx="452.3" cy="769.0" r="10.8"/>
<circle cx="378.1" cy="769.6" r="10.8"/>
<circle cx="416.8" cy="769.9" r="10.8"/>
<circle cx="440.5" cy="770.5" r="10.8"/>
<circle cx="459.9" cy="770.5" r="10.8"/>
<circle cx="418.5" cy="770.7" r="10.8"/>
<circle cx="407.5" cy="770.4" r="10.8"/>
<circle cx="425.1" cy="770.4" r="10.8"/>
<circle cx="455.5" cy="770.7" r="10.8"/>
<circle cx="419.2" cy="771.1" r="10.8"/>
<circle cx="406.2" cy="771.4" r="10.8"/>
<circle cx="422.3" cy="771.6" r="10.8"/>
<circle cx="449.7" cy="772.0" r="10.8"/>
<circle cx="415.9" cy="771.4" r="10.8"/>
<circle cx="427.7" cy="772.0" r="10.8"/>
<circle cx="403.5" cy="772.5" r="10.8"/>
<circle cx="444.2" cy="772.2" r="10.8"/>
<circle cx="401.4" cy="773.0" r="10.8"/>
<circle cx="445.0" cy="772.5" r="10.8"/>
<circle cx="383.5" cy="772.9" r="10.8"/>
<circle cx="433.3" cy="772.8" r="10.8"/>
<circle cx="459.2" cy="773.9" r="10.8"/>
<circle cx="410.2" cy="773.2" r="10.8"/>
<circle cx="398.9" cy="773.5" r="10.8"/>
<circle cx="417.4" cy="773.2" r="10.8"/>
<circle cx="389.7" cy="773.6" r="10.8"/>
<circle cx="425.9" cy="773.4" r="10.8"/>
<circle cx="459.5" cy="774.6" r="10.8"/>
<circle cx="377.6" cy="774.4" r="10.8"/>
<circle cx="441.7" cy="774.3" r="10.8"/>
<circle cx="433.4" cy="774.0" r="10.8"/>
<circle cx="400.2" cy="774.8" r="10.8"/>
<circle cx="424.4" cy="774.7" r="10.8"/>
<circle cx="390.9" cy="775.5" r="10.8"/>
<circle cx="421.6" cy="775.3" r="10.8"/>
<circle cx="429.6" cy="775.5" r="10.8"/>
<circle cx="459.8" cy="775.6" r="10.8"/>
<circle cx="409.4" cy="775.1" r="10.8"/>
<circle cx="387.5" cy="775.8" r="10.8"/>
<circle cx="383.2" cy="776.1" r="10.8"/>
<circle cx="388.7" cy="776.5" r="10.8"/>
<circle cx="444.8" cy="776.6" r="10.8"/>
<circle cx="443.4" cy="776.1" r="10.8"/>
<circle cx="375.1" cy="776.8" r="10.8"/>
<circle cx="401.8" cy="776.7" r="10.8"/>
<circle cx="404.4" cy="777.2" r="10.8"/>
<circle cx="396.9" cy="777.1" r="10.8"/>
<circle cx="451.7" cy="777.6" r="10.8"/>
<circle cx="404.0" cy="777.4" r="10.8"/>
<circle cx="407.2" cy="777.1" r="10.8"/>
<circle cx="450.6" cy="777.6" r="10.8"/>
<circle cx="456.5" cy="778.4" r="10.8"/>
<circle cx="427.3" cy="778.2" r="10.8"/>
<circle cx="377.8" cy="778.9" r="10.8"/>
<circle cx="447.5" cy="778.3" r="10.8"/>
<circle cx="451.3" cy="778.8" r="10.8"/>
<circle cx="400.1" cy="778.6" r="10.8"/>
<circle cx="456.6" cy="779.5" r="10.8"/>
<circle cx="455.7" cy="779.2" r="10.8"/>
<circle cx="407.5" cy="779.7" r="10.8"/>
<circle cx="393.0" cy="779.3" r="10.8"/>
<circle cx="449.3" cy="779.5" r="10.8"/>
<circle cx="442.2" cy="779.2" r="10.8"/>
<circle cx="388.9" cy="780.4" r="10.8"/>
<circle cx="390.0" cy="781.0" r="10.8"/>
<circle cx="399.0" cy="780.6" r="10.8"/>
<circle cx="383.9" cy="780.5" r="10.8"/>
<circle cx="407.2" cy="780.4" r="10.8"/>
<circle cx="379.6" cy="780.1" r="10.8"/>
<circle cx="445.0" cy="781.4" r="10.8"/>
<circle cx="395.1" cy="781.2" r="10.8"/>
<circle cx="398.4" cy="781.2" r="10.8"/>
<circle cx="377.0" cy="781.7" r="10.8"/>
<circle cx="403.4" cy="781.2" r="10.8"/>
<circle cx="434.7" cy="781.1" r="10.8"/>
<circle cx="397.2" cy="782.8" r="10.8"/>
<circle cx="385.0" cy="782.4" r="10.8"/>
<circle cx="445.9" cy="782.8" r="10.8"/>
<circle cx="387.7" cy="782.4" r="10.8"/>
<circle cx="436.1" cy="782.4" r="10.8"/>
<circle cx="456.4" cy="782.2" r="10.8"/>
<circle cx="455.8" cy="783.5" r="10.8"/>
<circle cx="393.5" cy="783.5" r="10.8"/>
<circle cx="385.3" cy="783.7" r="10.8"/>
<circle cx="396.4" cy="783.9" r="10.8"/>
<circle cx="424.5" cy="783.4" r="10.8"/>
<circle cx="395.2" cy="783.6" r="10.8"/>
<circle cx="392.3" cy="784.9" r="10.8"/>
<circle cx="384.6" cy="784.5" r="10.8"/>
<circle cx="420.7" cy="784.3" r="10.8"/>
<circle cx="440.4" cy="784.4" r="10.8"/>
<circle cx="430.5" cy="784.6" r="10.8"/>
<circle cx="400.7" cy="784.4" r="10.8"/>
<circle cx="381.4" cy="785.2" r="10.8"/>
<circle cx="447.2" cy="785.3" r="10.8"/>
<circle cx="431.0" cy="785.1" r="10.8"/>
<circle cx="422.3" cy="785.4" r="10.8"/>
<circle cx="417.0" cy="785.3" r="10.8"/>
<circle cx="379.7" cy="785.3" r="10.8"/>
<circle cx="393.5" cy="786.1" r="10.8"/>
<circle cx="435.6" cy="786.3" r="10.8"/>
<circle cx="408.7" cy="786.9" r="10.8"/>
<circle cx="440.6" cy="786.9" r="10.8"/>
<circle cx="448.1" cy="786.1" r="10.8"/>
<circle cx="397.8" cy="786.0" r="10.8"/>
<circle cx="432.4" cy="787.7" r="10.8"/>
<circle cx="404.2" cy="787.4" r="10.8"/>
<circle cx="430.7" cy="787.7" r="10.8"/>
<circle cx="395.4" cy="787.8" r="10.8"/>
<circle cx="404.3" cy="787.6" r="10.8"/>
<circle cx="389.6" cy="787.1" r="10.8"/>
<circle cx="452.5" cy="788.7" r="10.8"/>
<circle cx="435.3" cy="788.0" r="10.8"/>
<circle cx="377.4" cy="788.2" r="10.8"/>
<circle cx="391.0" cy="788.3" r="10.8"/>
<circle cx="406.7" cy="788.0" r="10.8"/>
<circle cx="400.7" cy="788.6" r="10.8"/>
<circle cx="389.5" cy="789.8" r="10.8"/>
<circle cx="423.0" cy="789.7" r="10.8"/>
<circle cx="395.9" cy="789.4" r="10.8"/>
<circle cx="432.9" cy="789.3" r="10.8"/>
<circle cx="374.1" cy="789.8" r="10.8"/>
<circle cx="440.8" cy="789.3" r="10.8"/>
<circle cx="377.7" cy="790.9" r="10.8"/>
<circle cx="426.2" cy="790.0" r="10.8"/>
<circle cx="395.0" cy="790.1" r="10.8"/>
<circle cx="442.1" cy="790.2" r="10.8"/>
<circle cx="452.6" cy="790.7" r="10.8"/>
<circle cx="381.4" cy="790.7" r="10.8"/>
<circle cx="407.9" cy="791.7" r="10.8"/>
<circle cx="445.3" cy="791.3" r="10.8"/>
<circle cx="381.7" cy="791.9" r="10.8"/>
<circle cx="410.5" cy="791.9" r="10.8"/>
<circle cx="433.5" cy="791.7" r="10.8"/>
<circle cx="445.4" cy="791.6" r="10.8"/>
<circle cx="412.9" cy="792.1" r="10.8"/>
<circle cx="434.0" cy="792.4" r="10.8"/>
<circle cx="418.0" cy="792.9" r="10.8"/>
<circle cx="385.0" cy="792.8" r="10.8"/>
<circle cx="377.8" cy="792.7" r="10.8"/>
<circle cx="443.3" cy="792.3" r="10.8"/>
<circle cx="421.0" cy="794.0" r="10.8"/>
<circle cx="428.8" cy="793.5" r="10.8"/>
<circle cx="395.5" cy="793.1" r="10.8"/>
<circle cx="404.8" cy="793.4" r="10.8"/>
<circle cx="391.3" cy="793.3" r="10.8"/>
<circle cx="385.7" cy="793.7" r="10.8"/>
<circle cx="431.6" cy="794.2" r="10.8"/>
<circle cx="394.8" cy="794.5" r="10.8"/>
<circle cx="412.3" cy="794.9" r="10.8"/>
<circle cx="404.2" cy="794.3" r="10.8"/>
<circle cx="450.1" cy="794.1" r="10.8"/>
<circle cx="422.4" cy="795.3" r="10.8"/>
<circle cx="444.1" cy="795.5" r="10.8"/>
<circle cx="439.4" cy="795.2" r="10.8"/>
<circle cx="431.3" cy="795.6" r="10.8"/>
<circle cx="413.7" cy="796.8" r="10.8"/>
<circle cx="445.5" cy="796.1" r="10.8"/>
<circle cx="398.9" cy="796.4" r="10.8"/>
<circle cx="391.8" cy="796.1" r="10.8"/>
<circle cx="398.2" cy="797.2" r="10.8"/>
<circle cx="434.3" cy="797.4" r="10.8"/>
<circle cx="383.7" cy="797.3" r="10.8"/>
<circle cx="414.3" cy="797.4" r="10.8"/>
<circle cx="388.5" cy="798.1" r="10.8"/>
<circle cx="374.9" cy="799.0" r="10.8"/>
<circle cx="438.5" cy="798.1" r="10.8"/>
<circle cx="435.7" cy="800.0" r="10.8"/>
<circle cx="422.5" cy="799.1" r="10.8"/>
<circle cx="416.0" cy="800.4" r="10.8"/>
<circle cx="390.3" cy="800.5" r="10.8"/>
<circle cx="374.7" cy="801.9" r="10.8"/>
<circle cx="429.4" cy="801.6" r="10.8"/>
<circle cx="454.4" cy="802.7" r="10.8"/>
<circle cx="395.6" cy="802.2" r="10.8"/>
<circle cx="385.9" cy="803.0" r="10.8"/>
<circle cx="440.6" cy="803.8" r="10.8"/>
<circle cx="399.5" cy="804.2" r="10.8"/>
<circle cx="428.9" cy="805.8" r="10.8"/>
<circle cx="453.7" cy="806.2" r="10.8"/>
<circle cx="441.5" cy="806.8" r="10.8"/>
<circle cx="437.8" cy="807.3" r="10.8"/>
<circle cx="389.9" cy="808.8" r="10.8"/>
<circle cx="401.5" cy="809.4" r="10.8"/>
<circle cx="421.4" cy="810.4" r="10.8"/>
<circle cx="445.5" cy="812.2" r="10.8"/>
<circle cx="377.5" cy="813.6" r="10.8"/>
<circle cx="428.0" cy="814.8" r="10.8"/>
<circle cx="434.7" cy="816.9" r="10.8"/>
<circle cx="455.3" cy="817.5" r="10.8"/>
<circle cx="417.0" cy="819.2" r="10.8"/>
<circle cx="399.8" cy="821.6" r="10.8"/>
<circle cx="380.9" cy="823.7" r="10.8"/>
<circle cx="388.1" cy="825.4" r="10.8"/>
<circle cx="457.4" cy="827.1" r="10.8"/>
<circle cx="377.4" cy="829.4" r="10.8"/>
<circle cx="390.4" cy="832.7" r="10.8"/>
<circle cx="374.2" cy="834.8" r="10.8"/>
<circle cx="447.6" cy="837.8" r="10.8"/>
<circle cx="410.6" cy="839.3" r="10.8"/>
<circle cx="430.9" cy="842.5" r="10.8"/>
<circle cx="410.2" cy="845.3" r="10.8"/>
<circle cx="411.7" cy="848.7" r="10.8"/>
<circle cx="445.0" cy="851.9" r="10.8"/>
<circle cx="388.1" cy="854.3" r="10.8"/>
<circle cx="412.1" cy="859.6" r="10.8"/>
<circle cx="403.9" cy="864.2" r="10.8"/>
<circle cx="381.3" cy="870.3" r="10.8"/>
<circle cx="413.6" cy="880.0" r="10.8"/>
<circle cx="413.6" cy="54.6" r="10.8"/>
<circle cx="383.5" cy="73.5" r="10.8"/>
<circle cx="449.4" cy="160.0" r="10.8"/>
<circle cx="390.0" cy="185.0" r="10.8"/>
<circle cx="394.0" cy="188.0" r="10.8"/>
<circle cx="400.0" cy="191.0" r="10.8"/>
<circle cx="447.3" cy="210.7" r="10.8"/>
<circle cx="430.7" cy="242.0" r="10.8"/>
<circle cx="407.0" cy="252.3" r="10.8"/>
<circle cx="395.2" cy="260.0" r="10.8"/>
<circle cx="389.7" cy="314.9" r="10.8"/>
<circle cx="407.4" cy="334.1" r="10.8"/>
<circle cx="428.4" cy="333.0" r="10.8"/>
<circle cx="433.9" cy="334.1" r="10.8"/>
<circle cx="447.2" cy="337.0" r="10.8"/>
<circle cx="389.7" cy="348.4" r="10.8"/>
<circle cx="406.3" cy="350.2" r="10.8"/>
<circle cx="457.7" cy="358.4" r="10.8"/>
<circle cx="387.5" cy="370.5" r="10.8"/>
<circle cx="406.3" cy="373.8" r="10.8"/>
<circle cx="424.0" cy="375.0" r="10.8"/>
<circle cx="388.6" cy="390.4" r="10.8"/>
<circle cx="392.0" cy="393.0" r="10.8"/>
<circle cx="409.6" cy="392.6" r="10.8"/>
<circle cx="428.4" cy="391.5" r="10.8"/>
<circle cx="430.0" cy="394.0" r="10.8"/>
<circle cx="447.2" cy="392.6" r="10.8"/>
<circle cx="446.0" cy="410.3" r="10.8"/>
<circle cx="384.2" cy="420.2" r="10.8"/>
<circle cx="404.1" cy="421.3" r="10.8"/>
<circle cx="411.8" cy="421.3" r="10.8"/>
<circle cx="373.2" cy="448.2" r="10.8"/>
<circle cx="388.6" cy="434.6" r="10.8"/>
<circle cx="390.0" cy="439.0" r="10.8"/>
<circle cx="427.3" cy="439.0" r="10.8"/>
<circle cx="437.2" cy="441.2" r="10.8"/>
<circle cx="452.7" cy="437.9" r="10.8"/>
<circle cx="403.0" cy="450.0" r="10.8"/>
<circle cx="420.7" cy="456.6" r="10.8"/>
<circle cx="440.5" cy="456.6" r="10.8"/>
<circle cx="458.2" cy="466.6" r="10.8"/>
<circle cx="397.5" cy="476.5" r="10.8"/>
<circle cx="422.9" cy="474.3" r="10.8"/>
<circle cx="449.4" cy="488.7" r="10.8"/>
<circle cx="378.7" cy="503.0" r="10.8"/>
<circle cx="383.0" cy="509.0" r="10.8"/>
<circle cx="394.2" cy="511.8" r="10.8"/>
<circle cx="411.8" cy="492.0" r="10.8"/>
<circle cx="429.5" cy="485.3" r="10.8"/>
<circle cx="438.0" cy="492.0" r="10.8"/>
<circle cx="372.0" cy="520.7" r="10.8"/>
<circle cx="403.0" cy="522.9" r="10.8"/>
<circle cx="427.3" cy="522.9" r="10.8"/>
<circle cx="445.0" cy="511.8" r="10.8"/>
<circle cx="456.0" cy="535.0" r="10.8"/>
<circle cx="383.0" cy="545.0" r="10.8"/>
<circle cx="400.8" cy="547.2" r="10.8"/>
<circle cx="416.0" cy="549.4" r="10.8"/>
<circle cx="438.3" cy="545.0" r="10.8"/>
<circle cx="372.0" cy="552.0" r="10.8"/>
<circle cx="382.0" cy="823.2" r="10.8"/>
<circle cx="400.8" cy="839.7" r="10.8"/>
<circle cx="418.4" cy="824.3" r="10.8"/>
<circle cx="442.7" cy="822.0" r="10.8"/>
<circle cx="460.4" cy="836.4" r="10.8"/>
<circle cx="396.4" cy="860.7" r="10.8"/>
<circle cx="378.7" cy="868.4" r="10.8"/>
<circle cx="425.0" cy="868.4" r="10.8"/>
<circle cx="450.5" cy="868.4" r="10.8"/>
<circle cx="451.6" cy="875.0" r="10.8"/>
<circle cx="381.0" cy="892.7" r="10.8"/>
<circle cx="403.0" cy="897.0" r="10.8"/>
<circle cx="416.2" cy="899.4" r="10.8"/>
<circle cx="430.6" cy="887.2" r="10.8"/>
<circle cx="449.4" cy="908.2" r="10.8"/>
<circle cx="382.0" cy="919.2" r="10.8"/>
<circle cx="400.8" cy="914.8" r="10.8"/>
<circle cx="416.2" cy="914.8" r="10.8"/>
<circle cx="433.9" cy="920.3" r="10.8"/>
<circle cx="450.5" cy="927.0" r="10.8"/>
<circle cx="383.1" cy="933.6" r="10.8"/>
<circle cx="398.6" cy="939.0" r="10.8"/>
<circle cx="416.2" cy="939.0" r="10.8"/>
<circle cx="436.1" cy="940.2" r="10.8"/>
<circle cx="376.5" cy="945.7" r="10.8"/>
<circle cx="383.1" cy="959.0" r="10.8"/>
<circle cx="397.5" cy="966.7" r="10.8"/>
<circle cx="422.9" cy="965.6" r="10.8"/>
<circle cx="435.0" cy="974.4" r="10.8"/>
<circle cx="459.3" cy="988.8" r="10.8"/>
<circle cx="454.9" cy="1005.3" r="10.8"/>
<circle cx="422.9" cy="997.6" r="10.8"/>
<circle cx="378.7" cy="1013.7" r="10.8"/>
<circle cx="422.0" cy="1072.0" r="10.8"/>
<circle cx="383.3" cy="1083.2" r="10.8"/>
<circle cx="414.5" cy="1119.2" r="10.8"/>
<circle cx="446.7" cy="1160.7" r="10.8"/>
</g>
<g fill="#e9262a" fill-opacity="0.50">
<circle cx="732.3" cy="629.0" r="10.8"/>
<circle cx="740.3" cy="635.6" r="10.8"/>
<circle cx="727.8" cy="639.1" r="10.8"/>
<circle cx="716.6" cy="642.6" r="10.8"/>
<circle cx="685.2" cy="645.6" r="10.8"/>
<circle cx="739.6" cy="647.5" r="10.8"/>
<circle cx="714.2" cy="649.3" r="10.8"/>
<circle cx="689.0" cy="650.9" r="10.8"/>
<circle cx="662.8" cy="651.2" r="10.8"/>
<circle cx="716.8" cy="652.4" r="10.8"/>
<circle cx="667.6" cy="653.7" r="10.8"/>
<circle cx="691.4" cy="653.6" r="10.8"/>
<circle cx="695.1" cy="654.5" r="10.8"/>
<circle cx="707.4" cy="655.4" r="10.8"/>
<circle cx="670.0" cy="655.2" r="10.8"/>
<circle cx="734.4" cy="656.5" r="10.8"/>
<circle cx="669.8" cy="656.9" r="10.8"/>
<circle cx="681.5" cy="657.1" r="10.8"/>
<circle cx="704.6" cy="657.3" r="10.8"/>
<circle cx="701.1" cy="658.6" r="10.8"/>
<circle cx="679.3" cy="658.6" r="10.8"/>
<circle cx="669.9" cy="658.5" r="10.8"/>
<circle cx="709.3" cy="659.1" r="10.8"/>
<circle cx="694.4" cy="659.1" r="10.8"/>
<circle cx="697.0" cy="659.9" r="10.8"/>
<circle cx="706.2" cy="659.7" r="10.8"/>
<circle cx="723.3" cy="660.1" r="10.8"/>
<circle cx="742.7" cy="660.7" r="10.8"/>
<circle cx="669.0" cy="660.8" r="10.8"/>
<circle cx="693.0" cy="660.2" r="10.8"/>
<circle cx="740.2" cy="661.6" r="10.8"/>
<circle cx="724.8" cy="661.1" r="10.8"/>
<circle cx="724.9" cy="661.1" r="10.8"/>
<circle cx="680.2" cy="661.4" r="10.8"/>
<circle cx="661.8" cy="662.6" r="10.8"/>
<circle cx="678.2" cy="662.3" r="10.8"/>
<circle cx="719.2" cy="662.4" r="10.8"/>
<circle cx="734.3" cy="662.6" r="10.8"/>
<circle cx="732.9" cy="662.6" r="10.8"/>
<circle cx="736.7" cy="663.9" r="10.8"/>
<circle cx="674.4" cy="663.7" r="10.8"/>
<circle cx="688.8" cy="663.8" r="10.8"/>
<circle cx="717.0" cy="663.8" r="10.8"/>
<circle cx="670.7" cy="663.4" r="10.8"/>
<circle cx="721.7" cy="663.9" r="10.8"/>
<circle cx="720.4" cy="664.0" r="10.8"/>
<circle cx="710.6" cy="664.1" r="10.8"/>
<circle cx="706.1" cy="664.8" r="10.8"/>
<circle cx="669.9" cy="664.9" r="10.8"/>
<circle cx="716.5" cy="664.3" r="10.8"/>
<circle cx="676.5" cy="664.4" r="10.8"/>
<circle cx="730.1" cy="665.6" r="10.8"/>
<circle cx="669.9" cy="665.0" r="10.8"/>
<circle cx="669.7" cy="665.8" r="10.8"/>
<circle cx="675.9" cy="665.6" r="10.8"/>
<circle cx="684.6" cy="665.7" r="10.8"/>
<circle cx="692.1" cy="665.1" r="10.8"/>
<circle cx="733.2" cy="666.5" r="10.8"/>
<circle cx="717.7" cy="666.8" r="10.8"/>
<circle cx="739.2" cy="666.0" r="10.8"/>
<circle cx="688.9" cy="666.2" r="10.8"/>
<circle cx="702.1" cy="666.9" r="10.8"/>
<circle cx="726.9" cy="666.0" r="10.8"/>
<circle cx="675.6" cy="667.8" r="10.8"/>
<circle cx="716.9" cy="667.4" r="10.8"/>
<circle cx="700.0" cy="667.2" r="10.8"/>
<circle cx="730.6" cy="667.4" r="10.8"/>
<circle cx="733.0" cy="667.6" r="10.8"/>
<circle cx="666.8" cy="667.3" r="10.8"/>
<circle cx="678.5" cy="668.9" r="10.8"/>
<circle cx="709.4" cy="668.0" r="10.8"/>
<circle cx="674.6" cy="668.4" r="10.8"/>
<circle cx="699.3" cy="668.6" r="10.8"/>
<circle cx="692.7" cy="668.4" r="10.8"/>
<circle cx="661.0" cy="668.6" r="10.8"/>
<circle cx="688.2" cy="669.0" r="10.8"/>
<circle cx="698.6" cy="670.0" r="10.8"/>
<circle cx="664.3" cy="669.1" r="10.8"/>
<circle cx="716.2" cy="669.3" r="10.8"/>
<circle cx="683.2" cy="669.5" r="10.8"/>
<circle cx="682.3" cy="669.6" r="10.8"/>
<circle cx="704.3" cy="671.0" r="10.8"/>
<circle cx="742.9" cy="670.0" r="10.8"/>
<circle cx="707.0" cy="670.8" r="10.8"/>
<circle cx="732.9" cy="670.8" r="10.8"/>
<circle cx="713.0" cy="670.6" r="10.8"/>
<circle cx="690.6" cy="670.3" r="10.8"/>
<circle cx="726.5" cy="671.9" r="10.8"/>
<circle cx="738.4" cy="671.7" r="10.8"/>
<circle cx="685.7" cy="671.8" r="10.8"/>
<circle cx="721.9" cy="671.5" r="10.8"/>
<circle cx="713.2" cy="671.4" r="10.8"/>
<circle cx="706.2" cy="671.4" r="10.8"/>
<circle cx="665.5" cy="672.3" r="10.8"/>
<circle cx="687.3" cy="673.0" r="10.8"/>
<circle cx="700.5" cy="672.4" r="10.8"/>
<circle cx="680.7" cy="672.2" r="10.8"/>
<circle cx="689.5" cy="672.1" r="10.8"/>
<circle cx="661.1" cy="672.9" r="10.8"/>
<circle cx="698.1" cy="673.4" r="10.8"/>
<circle cx="707.7" cy="673.3" r="10.8"/>
<circle cx="674.5" cy="673.1" r="10.8"/>
<circle cx="685.5" cy="673.3" r="10.8"/>
<circle cx="720.8" cy="673.6" r="10.8"/>
<circle cx="738.3" cy="673.3" r="10.8"/>
<circle cx="737.0" cy="674.6" r="10.8"/>
<circle cx="667.1" cy="674.2" r="10.8"/>
<circle cx="708.7" cy="675.0" r="10.8"/>
<circle cx="690.1" cy="674.8" r="10.8"/>
<circle cx="696.0" cy="674.9" r="10.8"/>
<circle cx="666.1" cy="674.5" r="10.8"/>
<circle cx="735.1" cy="675.3" r="10.8"/>
<circle cx="681.9" cy="675.0" r="10.8"/>
<circle cx="674.2" cy="675.3" r="10.8"/>
<circle cx="719.0" cy="675.2" r="10.8"/>
<circle cx="693.7" cy="675.2" r="10.8"/>
<circle cx="710.5" cy="675.9" r="10.8"/>
<circle cx="714.3" cy="676.2" r="10.8"/>
<circle cx="721.4" cy="677.0" r="10.8"/>
<circle cx="710.4" cy="676.1" r="10.8"/>
<circle cx="727.7" cy="676.9" r="10.8"/>
<circle cx="688.8" cy="676.1" r="10.8"/>
<circle cx="676.1" cy="676.5" r="10.8"/>
<circle cx="733.2" cy="677.6" r="10.8"/>
<circle cx="737.1" cy="677.2" r="10.8"/>
<circle cx="687.6" cy="677.7" r="10.8"/>
<circle cx="714.4" cy="677.4" r="10.8"/>
<circle cx="716.9" cy="677.3" r="10.8"/>
<circle cx="665.3" cy="677.4" r="10.8"/>
<circle cx="664.3" cy="678.6" r="10.8"/>
<circle cx="688.3" cy="678.5" r="10.8"/>
<circle cx="710.1" cy="678.3" r="10.8"/>
<circle cx="699.0" cy="678.0" r="10.8"/>
<circle cx="737.3" cy="678.6" r="10.8"/>
<circle cx="742.5" cy="678.1" r="10.8"/>
<circle cx="711.5" cy="679.7" r="10.8"/>
<circle cx="687.8" cy="679.1" r="10.8"/>
<circle cx="673.5" cy="679.1" r="10.8"/>
<circle cx="724.2" cy="679.1" r="10.8"/>
<circle cx="728.1" cy="679.4" r="10.8"/>
<circle cx="705.2" cy="679.6" r="10.8"/>
<circle cx="706.6" cy="680.7" r="10.8"/>
<circle cx="710.4" cy="680.3" r="10.8"/>
<circle cx="722.0" cy="680.3" r="10.8"/>
<circle cx="719.5" cy="680.8" r="10.8"/>
<circle cx="724.9" cy="680.3" r="10.8"/>
<circle cx="724.6" cy="681.0" r="10.8"/>
<circle cx="698.1" cy="681.3" r="10.8"/>
<circle cx="703.9" cy="681.9" r="10.8"/>
<circle cx="671.4" cy="681.0" r="10.8"/>
<circle cx="700.0" cy="681.7" r="10.8"/>
<circle cx="724.8" cy="681.4" r="10.8"/>
<circle cx="742.6" cy="681.2" r="10.8"/>
<circle cx="723.3" cy="682.1" r="10.8"/>
<circle cx="662.8" cy="682.1" r="10.8"/>
<circle cx="665.5" cy="682.5" r="10.8"/>
<circle cx="706.6" cy="682.2" r="10.8"/>
<circle cx="738.5" cy="682.4" r="10.8"/>
<circle cx="672.9" cy="682.2" r="10.8"/>
<circle cx="721.7" cy="683.9" r="10.8"/>
<circle cx="674.0" cy="683.0" r="10.8"/>
<circle cx="725.1" cy="683.2" r="10.8"/>
<circle cx="742.0" cy="683.5" r="10.8"/>
<circle cx="713.3" cy="683.3" r="10.8"/>
<circle cx="726.9" cy="683.5" r="10.8"/>
<circle cx="687.4" cy="684.9" r="10.8"/>
<circle cx="669.4" cy="684.7" r="10.8"/>
<circle cx="665.9" cy="684.6" r="10.8"/>
<circle cx="693.9" cy="684.9" r="10.8"/>
<circle cx="665.5" cy="684.6" r="10.8"/>
<circle cx="694.5" cy="684.9" r="10.8"/>
<circle cx="738.9" cy="685.6" r="10.8"/>
<circle cx="679.1" cy="685.3" r="10.8"/>
<circle cx="682.3" cy="685.4" r="10.8"/>
<circle cx="679.7" cy="685.2" r="10.8"/>
<circle cx="723.5" cy="685.6" r="10.8"/>
<circle cx="685.3" cy="686.0" r="10.8"/>
<circle cx="678.5" cy="686.6" r="10.8"/>
<circle cx="673.5" cy="686.9" r="10.8"/>
<circle cx="732.6" cy="686.3" r="10.8"/>
<circle cx="722.9" cy="686.8" r="10.8"/>
<circle cx="684.0" cy="686.3" r="10.8"/>
<circle cx="700.8" cy="686.9" r="10.8"/>
<circle cx="673.9" cy="687.7" r="10.8"/>
<circle cx="710.1" cy="687.5" r="10.8"/>
<circle cx="708.6" cy="687.9" r="10.8"/>
<circle cx="677.9" cy="687.9" r="10.8"/>
<circle cx="690.4" cy="687.8" r="10.8"/>
<circle cx="732.2" cy="687.2" r="10.8"/>
<circle cx="732.2" cy="689.0" r="10.8"/>
<circle cx="685.2" cy="688.0" r="10.8"/>
<circle cx="669.8" cy="689.0" r="10.8"/>
<circle cx="661.3" cy="688.9" r="10.8"/>
<circle cx="673.0" cy="688.7" r="10.8"/>
<circle cx="668.6" cy="688.2" r="10.8"/>
<circle cx="717.2" cy="689.1" r="10.8"/>
<circle cx="688.7" cy="689.9" r="10.8"/>
<circle cx="720.0" cy="689.9" r="10.8"/>
<circle cx="741.8" cy="689.0" r="10.8"/>
<circle cx="680.0" cy="689.8" r="10.8"/>
<circle cx="717.7" cy="689.0" r="10.8"/>
<circle cx="702.4" cy="690.2" r="10.8"/>
<circle cx="696.2" cy="690.1" r="10.8"/>
<circle cx="662.2" cy="691.0" r="10.8"/>
<circle cx="686.8" cy="690.9" r="10.8"/>
<circle cx="670.5" cy="690.5" r="10.8"/>
<circle cx="671.8" cy="690.4" r="10.8"/>
<circle cx="675.4" cy="691.7" r="10.8"/>
<circle cx="672.8" cy="691.7" r="10.8"/>
<circle cx="702.1" cy="691.1" r="10.8"/>
<circle cx="689.8" cy="691.5" r="10.8"/>
<circle cx="736.8" cy="691.3" r="10.8"/>
<circle cx="678.4" cy="692.0" r="10.8"/>
<circle cx="733.8" cy="692.7" r="10.8"/>
<circle cx="683.2" cy="692.2" r="10.8"/>
<circle cx="682.5" cy="692.1" r="10.8"/>
<circle cx="664.1" cy="692.5" r="10.8"/>
<circle cx="694.4" cy="692.6" r="10.8"/>
<circle cx="690.6" cy="692.0" r="10.8"/>
<circle cx="717.6" cy="693.7" r="10.8"/>
<circle cx="705.6" cy="693.5" r="10.8"/>
<circle cx="717.8" cy="694.0" r="10.8"/>
<circle cx="733.0" cy="693.7" r="10.8"/>
<circle cx="693.6" cy="693.3" r="10.8"/>
<circle cx="695.3" cy="694.0" r="10.8"/>
<circle cx="692.6" cy="694.4" r="10.8"/>
<circle cx="694.5" cy="694.1" r="10.8"/>
<circle cx="743.4" cy="694.0" r="10.8"/>
<circle cx="710.9" cy="694.9" r="10.8"/>
<circle cx="681.6" cy="694.6" r="10.8"/>
<circle cx="691.8" cy="694.2" r="10.8"/>
<circle cx="677.0" cy="695.1" r="10.8"/>
<circle cx="730.5" cy="695.8" r="10.8"/>
<circle cx="735.9" cy="695.0" r="10.8"/>
<circle cx="718.1" cy="695.3" r="10.8"/>
<circle cx="714.1" cy="695.5" r="10.8"/>
<circle cx="686.7" cy="696.0" r="10.8"/>
<circle cx="660.6" cy="696.7" r="10.8"/>
<circle cx="731.3" cy="696.5" r="10.8"/>
<circle cx="709.7" cy="697.0" r="10.8"/>
<circle cx="680.0" cy="696.6" r="10.8"/>
<circle cx="722.2" cy="696.4" r="10.8"/>
<circle cx="719.6" cy="696.4" r="10.8"/>
<circle cx="704.2" cy="697.6" r="10.8"/>
<circle cx="716.7" cy="697.3" r="10.8"/>
<circle cx="712.7" cy="697.5" r="10.8"/>
<circle cx="679.0" cy="697.6" r="10.8"/>
<circle cx="682.5" cy="697.9" r="10.8"/>
<circle cx="699.8" cy="697.7" r="10.8"/>
<circle cx="703.8" cy="698.5" r="10.8"/>
<circle cx="678.9" cy="698.1" r="10.8"/>
<circle cx="737.5" cy="698.5" r="10.8"/>
<circle cx="704.0" cy="698.5" r="10.8"/>
<circle cx="728.0" cy="698.2" r="10.8"/>
<circle cx="674.8" cy="698.8" r="10.8"/>
<circle cx="698.7" cy="699.6" r="10.8"/>
<circle cx="729.2" cy="699.9" r="10.8"/>
<circle cx="732.5" cy="699.0" r="10.8"/>
<circle cx="692.1" cy="699.8" r="10.8"/>
<circle cx="728.4" cy="699.1" r="10.8"/>
<circle cx="673.3" cy="699.3" r="10.8"/>
<circle cx="669.0" cy="700.4" r="10.8"/>
<circle cx="727.2" cy="700.5" r="10.8"/>
<circle cx="698.1" cy="700.1" r="10.8"/>
<circle cx="693.3" cy="701.0" r="10.8"/>
<circle cx="718.2" cy="700.4" r="10.8"/>
<circle cx="700.2" cy="700.8" r="10.8"/>
<circle cx="723.5" cy="701.1" r="10.8"/>
<circle cx="717.0" cy="701.4" r="10.8"/>
<circle cx="703.7" cy="701.2" r="10.8"/>
<circle cx="691.3" cy="701.3" r="10.8"/>
<circle cx="692.1" cy="701.0" r="10.8"/>
<circle cx="677.2" cy="701.6" r="10.8"/>
<circle cx="665.3" cy="702.2" r="10.8"/>
<circle cx="720.1" cy="702.3" r="10.8"/>
<circle cx="687.4" cy="702.2" r="10.8"/>
<circle cx="729.7" cy="702.1" r="10.8"/>
<circle cx="713.3" cy="702.9" r="10.8"/>
<circle cx="677.2" cy="702.4" r="10.8"/>
<circle cx="726.3" cy="703.6" r="10.8"/>
<circle cx="691.3" cy="703.0" r="10.8"/>
<circle cx="697.2" cy="703.4" r="10.8"/>
<circle cx="719.6" cy="703.3" r="10.8"/>
<circle cx="694.4" cy="703.6" r="10.8"/>
<circle cx="727.8" cy="703.4" r="10.8"/>
<circle cx="692.5" cy="704.6" r="10.8"/>
<circle cx="737.3" cy="704.2" r="10.8"/>
<circle cx="741.1" cy="704.7" r="10.8"/>
<circle cx="691.4" cy="704.7" r="10.8"/>
<circle cx="687.8" cy="704.1" r="10.8"/>
<circle cx="723.3" cy="704.4" r="10.8"/>
<circle cx="704.1" cy="705.5" r="10.8"/>
<circle cx="735.3" cy="705.8" r="10.8"/>
<circle cx="662.6" cy="705.6" r="10.8"/>
<circle cx="698.9" cy="705.5" r="10.8"/>
<circle cx="730.2" cy="705.4" r="10.8"/>
<circle cx="699.8" cy="705.9" r="10.8"/>
<circle cx="697.0" cy="706.5" r="10.8"/>
<circle cx="703.0" cy="706.8" r="10.8"/>
<circle cx="716.1" cy="706.7" r="10.8"/>
<circle cx="693.8" cy="706.0" r="10.8"/>
<circle cx="716.9" cy="706.6" r="10.8"/>
<circle cx="724.3" cy="706.8" r="10.8"/>
<circle cx="670.3" cy="707.2" r="10.8"/>
<circle cx="666.9" cy="707.8" r="10.8"/>
<circle cx="668.9" cy="707.1" r="10.8"/>
<circle cx="723.0" cy="707.6" r="10.8"/>
<circle cx="665.1" cy="707.7" r="10.8"/>
<circle cx="719.5" cy="707.5" r="10.8"/>
<circle cx="665.0" cy="708.7" r="10.8"/>
<circle cx="695.2" cy="708.6" r="10.8"/>
<circle cx="743.3" cy="708.8" r="10.8"/>
<circle cx="732.9" cy="708.1" r="10.8"/>
<circle cx="688.2" cy="708.5" r="10.8"/>
<circle cx="661.0" cy="709.0" r="10.8"/>
<circle cx="683.3" cy="709.3" r="10.8"/>
<circle cx="686.5" cy="709.3" r="10.8"/>
<circle cx="731.8" cy="709.6" r="10.8"/>
<circle cx="702.9" cy="709.4" r="10.8"/>
<circle cx="664.7" cy="709.3" r="10.8"/>
<circle cx="732.4" cy="709.8" r="10.8"/>
<circle cx="731.6" cy="710.3" r="10.8"/>
<circle cx="677.3" cy="710.1" r="10.8"/>
<circle cx="705.1" cy="710.4" r="10.8"/>
<circle cx="699.0" cy="710.5" r="10.8"/>
<circle cx="709.0" cy="710.4" r="10.8"/>
<circle cx="727.0" cy="710.2" r="10.8"/>
<circle cx="736.8" cy="711.6" r="10.8"/>
<circle cx="664.7" cy="711.3" r="10.8"/>
<circle cx="704.7" cy="711.4" r="10.8"/>
<circle cx="707.4" cy="711.3" r="10.8"/>
<circle cx="683.2" cy="711.8" r="10.8"/>
<circle cx="684.7" cy="711.7" r="10.8"/>
<circle cx="727.1" cy="712.6" r="10.8"/>
<circle cx="698.2" cy="712.9" r="10.8"/>
<circle cx="697.4" cy="712.9" r="10.8"/>
<circle cx="665.3" cy="712.4" r="10.8"/>
<circle cx="713.6" cy="712.0" r="10.8"/>
<circle cx="732.1" cy="712.1" r="10.8"/>
<circle cx="710.0" cy="713.2" r="10.8"/>
<circle cx="737.1" cy="713.6" r="10.8"/>
<circle cx="727.0" cy="713.5" r="10.8"/>
<circle cx="716.4" cy="713.7" r="10.8"/>
<circle cx="685.0" cy="713.2" r="10.8"/>
<circle cx="730.1" cy="713.1" r="10.8"/>
<circle cx="736.7" cy="714.2" r="10.8"/>
<circle cx="668.9" cy="714.1" r="10.8"/>
<circle cx="725.6" cy="715.0" r="10.8"/>
<circle cx="694.9" cy="714.7" r="10.8"/>
<circle cx="681.9" cy="714.9" r="10.8"/>
<circle cx="717.4" cy="714.2" r="10.8"/>
<circle cx="665.2" cy="715.7" r="10.8"/>
<circle cx="664.0" cy="715.8" r="10.8"/>
<circle cx="684.9" cy="715.2" r="10.8"/>
<circle cx="708.8" cy="715.3" r="10.8"/>
<circle cx="707.0" cy="715.2" r="10.8"/>
<circle cx="736.2" cy="715.3" r="10.8"/>
<circle cx="730.3" cy="716.2" r="10.8"/>
<circle cx="726.8" cy="717.0" r="10.8"/>
<circle cx="693.0" cy="716.0" r="10.8"/>
<circle cx="692.0" cy="716.6" r="10.8"/>
<circle cx="679.0" cy="716.5" r="10.8"/>
<circle cx="668.3" cy="716.5" r="10.8"/>
<circle cx="720.9" cy="717.4" r="10.8"/>
<circle cx="716.8" cy="717.1" r="10.8"/>
<circle cx="729.3" cy="717.1" r="10.8"/>
<circle cx="737.1" cy="718.0" r="10.8"/>
<circle cx="738.5" cy="717.5" r="10.8"/>
<circle cx="684.6" cy="717.3" r="10.8"/>
<circle cx="722.8" cy="718.5" r="10.8"/>
<circle cx="737.7" cy="718.1" r="10.8"/>
<circle cx="700.7" cy="718.9" r="10.8"/>
<circle cx="710.1" cy="718.5" r="10.8"/>
<circle cx="667.8" cy="718.1" r="10.8"/>
<circle cx="683.0" cy="718.9" r="10.8"/>
<circle cx="730.7" cy="719.2" r="10.8"/>
<circle cx="737.2" cy="719.0" r="10.8"/>
<circle cx="710.2" cy="720.0" r="10.8"/>
<circle cx="689.1" cy="719.9" r="10.8"/>
<circle cx="715.0" cy="719.1" r="10.8"/>
<circle cx="688.2" cy="719.4" r="10.8"/>
<circle cx="681.0" cy="720.7" r="10.8"/>
<circle cx="675.3" cy="720.8" r="10.8"/>
<circle cx="685.3" cy="720.1" r="10.8"/>
<circle cx="706.9" cy="720.1" r="10.8"/>
<circle cx="706.3" cy="720.8" r="10.8"/>
<circle cx="709.9" cy="720.5" r="10.8"/>
<circle cx="663.3" cy="721.5" r="10.8"/>
<circle cx="668.6" cy="721.6" r="10.8"/>
<circle cx="671.5" cy="721.6" r="10.8"/>
<circle cx="689.8" cy="721.4" r="10.8"/>
<circle cx="715.5" cy="721.2" r="10.8"/>
<circle cx="674.6" cy="721.9" r="10.8"/>
<circle cx="688.0" cy="722.8" r="10.8"/>
<circle cx="733.0" cy="722.5" r="10.8"/>
<circle cx="672.9" cy="722.1" r="10.8"/>
<circle cx="733.5" cy="722.1" r="10.8"/>
<circle cx="701.7" cy="722.5" r="10.8"/>
<circle cx="670.3" cy="722.5" r="10.8"/>
<circle cx="674.1" cy="723.5" r="10.8"/>
<circle cx="702.6" cy="723.4" r="10.8"/>
<circle cx="676.9" cy="723.4" r="10.8"/>
<circle cx="677.4" cy="723.1" r="10.8"/>
<circle cx="680.4" cy="723.9" r="10.8"/>
<circle cx="702.1" cy="723.9" r="10.8"/>
<circle cx="661.8" cy="724.9" r="10.8"/>
<circle cx="701.0" cy="724.8" r="10.8"/>
<circle cx="707.8" cy="724.7" r="10.8"/>
<circle cx="679.5" cy="724.8" r="10.8"/>
<circle cx="673.3" cy="724.3" r="10.8"/>
<circle cx="663.1" cy="724.4" r="10.8"/>
<circle cx="703.5" cy="725.3" r="10.8"/>
<circle cx="734.4" cy="725.1" r="10.8"/>
<circle cx="708.5" cy="725.2" r="10.8"/>
<circle cx="709.9" cy="725.8" r="10.8"/>
<circle cx="719.5" cy="725.1" r="10.8"/>
<circle cx="680.9" cy="725.6" r="10.8"/>
<circle cx="742.1" cy="726.0" r="10.8"/>
<circle cx="711.8" cy="726.7" r="10.8"/>
<circle cx="728.1" cy="726.3" r="10.8"/>
<circle cx="727.8" cy="726.5" r="10.8"/>
<circle cx="736.9" cy="726.0" r="10.8"/>
<circle cx="738.5" cy="726.4" r="10.8"/>
<circle cx="694.3" cy="727.1" r="10.8"/>
<circle cx="680.8" cy="727.7" r="10.8"/>
<circle cx="716.8" cy="727.2" r="10.8"/>
<circle cx="689.1" cy="727.1" r="10.8"/>
<circle cx="677.0" cy="727.2" r="10.8"/>
<circle cx="688.0" cy="728.0" r="10.8"/>
<circle cx="743.3" cy="728.8" r="10.8"/>
<circle cx="700.3" cy="728.5" r="10.8"/>
<circle cx="725.2" cy="728.9" r="10.8"/>
<circle cx="722.9" cy="728.6" r="10.8"/>
<circle cx="677.0" cy="728.6" r="10.8"/>
<circle cx="730.7" cy="728.8" r="10.8"/>
<circle cx="668.2" cy="729.7" r="10.8"/>
<circle cx="689.5" cy="729.2" r="10.8"/>
<circle cx="740.7" cy="729.7" r="10.8"/>
<circle cx="722.4" cy="729.1" r="10.8"/>
<circle cx="729.3" cy="729.9" r="10.8"/>
<circle cx="735.6" cy="729.7" r="10.8"/>
<circle cx="729.6" cy="730.8" r="10.8"/>
<circle cx="709.5" cy="730.4" r="10.8"/>
<circle cx="729.0" cy="730.8" r="10.8"/>
<circle cx="732.8" cy="730.3" r="10.8"/>
<circle cx="740.3" cy="730.5" r="10.8"/>
<circle cx="739.0" cy="730.1" r="10.8"/>
<circle cx="740.9" cy="731.8" r="10.8"/>
<circle cx="681.4" cy="731.8" r="10.8"/>
<circle cx="679.8" cy="731.2" r="10.8"/>
<circle cx="698.5" cy="731.2" r="10.8"/>
<circle cx="701.4" cy="731.9" r="10.8"/>
<circle cx="717.4" cy="731.7" r="10.8"/>
<circle cx="693.0" cy="732.8" r="10.8"/>
<circle cx="726.4" cy="732.7" r="10.8"/>
<circle cx="738.7" cy="732.8" r="10.8"/>
<circle cx="694.2" cy="732.1" r="10.8"/>
<circle cx="714.7" cy="732.8" r="10.8"/>
<circle cx="688.7" cy="732.6" r="10.8"/>
<circle cx="729.9" cy="733.8" r="10.8"/>
<circle cx="660.9" cy="733.5" r="10.8"/>
<circle cx="661.9" cy="733.1" r="10.8"/>
<circle cx="727.9" cy="733.4" r="10.8"/>
<circle cx="710.7" cy="733.5" r="10.8"/>
<circle cx="688.3" cy="733.2" r="10.8"/>
<circle cx="689.9" cy="734.8" r="10.8"/>
<circle cx="711.9" cy="734.3" r="10.8"/>
<circle cx="667.8" cy="734.3" r="10.8"/>
<circle cx="718.7" cy="734.4" r="10.8"/>
<circle cx="715.4" cy="734.8" r="10.8"/>
<circle cx="670.5" cy="734.7" r="10.8"/>
<circle cx="663.9" cy="735.8" r="10.8"/>
<circle cx="675.8" cy="735.3" r="10.8"/>
<circle cx="740.0" cy="735.4" r="10.8"/>
<circle cx="679.1" cy="735.9" r="10.8"/>
<circle cx="711.2" cy="735.9" r="10.8"/>
<circle cx="693.2" cy="735.5" r="10.8"/>
<circle cx="739.8" cy="736.5" r="10.8"/>
<circle cx="742.5" cy="736.2" r="10.8"/>
<circle cx="729.4" cy="736.2" r="10.8"/>
<circle cx="704.3" cy="736.0" r="10.8"/>
<circle cx="675.1" cy="736.9" r="10.8"/>
<circle cx="698.2" cy="736.8" r="10.8"/>
<circle cx="681.3" cy="737.4" r="10.8"/>
<circle cx="668.9" cy="737.6" r="10.8"/>
<circle cx="732.1" cy="737.5" r="10.8"/>
<circle cx="691.8" cy="737.9" r="10.8"/>
<circle cx="734.7" cy="737.7" r="10.8"/>
<circle cx="666.8" cy="737.6" r="10.8"/>
<circle cx="697.4" cy="739.0" r="10.8"/>
<circle cx="690.5" cy="738.7" r="10.8"/>
<circle cx="712.9" cy="738.4" r="10.8"/>
<circle cx="703.8" cy="738.7" r="10.8"/>
<circle cx="735.8" cy="738.5" r="10.8"/>
<circle cx="690.7" cy="739.0" r="10.8"/>
<circle cx="665.2" cy="739.8" r="10.8"/>
<circle cx="717.2" cy="739.6" r="10.8"/>
<circle cx="697.7" cy="739.8" r="10.8"/>
<circle cx="734.5" cy="739.7" r="10.8"/>
<circle cx="722.7" cy="739.0" r="10.8"/>
<circle cx="687.5" cy="739.1" r="10.8"/>
<circle cx="739.6" cy="740.9" r="10.8"/>
<circle cx="672.5" cy="740.6" r="10.8"/>
<circle cx="708.4" cy="740.0" r="10.8"/>
<circle cx="693.1" cy="740.7" r="10.8"/>
<circle cx="713.7" cy="740.3" r="10.8"/>
<circle cx="723.8" cy="740.3" r="10.8"/>
<circle cx="705.7" cy="741.4" r="10.8"/>
<circle cx="741.7" cy="741.6" r="10.8"/>
<circle cx="727.3" cy="741.7" r="10.8"/>
<circle cx="692.1" cy="742.0" r="10.8"/>
<circle cx="719.4" cy="741.7" r="10.8"/>
<circle cx="683.5" cy="741.2" r="10.8"/>
<circle cx="708.2" cy="742.8" r="10.8"/>
<circle cx="726.4" cy="742.3" r="10.8"/>
<circle cx="672.1" cy="742.5" r="10.8"/>
<circle cx="733.3" cy="742.2" r="10.8"/>
<circle cx="721.8" cy="742.2" r="10.8"/>
<circle cx="686.4" cy="742.1" r="10.8"/>
<circle cx="685.2" cy="743.4" r="10.8"/>
<circle cx="740.8" cy="744.0" r="10.8"/>
<circle cx="676.0" cy="743.3" r="10.8"/>
<circle cx="738.8" cy="743.2" r="10.8"/>
<circle cx="687.1" cy="743.4" r="10.8"/>
<circle cx="669.5" cy="743.3" r="10.8"/>
<circle cx="693.2" cy="744.4" r="10.8"/>
<circle cx="740.5" cy="744.3" r="10.8"/>
<circle cx="677.4" cy="744.9" r="10.8"/>
<circle cx="697.9" cy="744.8" r="10.8"/>
<circle cx="713.4" cy="744.8" r="10.8"/>
<circle cx="686.6" cy="744.2" r="10.8"/>
<circle cx="723.3" cy="745.5" r="10.8"/>
<circle cx="706.9" cy="745.7" r="10.8"/>
<circle cx="723.0" cy="745.3" r="10.8"/>
<circle cx="690.6" cy="745.9" r="10.8"/>
<circle cx="704.4" cy="745.3" r="10.8"/>
<circle cx="712.8" cy="745.3" r="10.8"/>
<circle cx="724.5" cy="746.0" r="10.8"/>
<circle cx="729.1" cy="746.6" r="10.8"/>
<circle cx="689.9" cy="746.9" r="10.8"/>
<circle cx="682.5" cy="746.2" r="10.8"/>
<circle cx="666.3" cy="746.5" r="10.8"/>
<circle cx="723.1" cy="746.7" r="10.8"/>
<circle cx="694.8" cy="747.8" r="10.8"/>
<circle cx="669.7" cy="747.3" r="10.8"/>
<circle cx="714.0" cy="748.0" r="10.8"/>
<circle cx="713.1" cy="747.7" r="10.8"/>
<circle cx="724.8" cy="747.4" r="10.8"/>
<circle cx="738.5" cy="747.7" r="10.8"/>
<circle cx="688.9" cy="748.4" r="10.8"/>
<circle cx="727.4" cy="748.3" r="10.8"/>
<circle cx="675.9" cy="748.9" r="10.8"/>
<circle cx="704.6" cy="748.5" r="10.8"/>
<circle cx="716.1" cy="748.9" r="10.8"/>
<circle cx="671.6" cy="748.3" r="10.8"/>
<circle cx="666.0" cy="749.4" r="10.8"/>
<circle cx="702.2" cy="749.9" r="10.8"/>
<circle cx="715.9" cy="749.6" r="10.8"/>
<circle cx="694.0" cy="749.6" r="10.8"/>
<circle cx="683.2" cy="749.8" r="10.8"/>
<circle cx="725.9" cy="749.8" r="10.8"/>
<circle cx="673.0" cy="750.7" r="10.8"/>
<circle cx="723.1" cy="750.5" r="10.8"/>
<circle cx="735.1" cy="750.9" r="10.8"/>
<circle cx="722.2" cy="750.8" r="10.8"/>
<circle cx="714.4" cy="750.9" r="10.8"/>
<circle cx="671.4" cy="750.7" r="10.8"/>
<circle cx="718.9" cy="751.6" r="10.8"/>
<circle cx="683.3" cy="751.1" r="10.8"/>
<circle cx="710.6" cy="751.8" r="10.8"/>
<circle cx="683.2" cy="751.2" r="10.8"/>
<circle cx="679.1" cy="751.1" r="10.8"/>
<circle cx="716.6" cy="752.0" r="10.8"/>
<circle cx="727.1" cy="752.4" r="10.8"/>
<circle cx="718.6" cy="752.1" r="10.8"/>
<circle cx="730.1" cy="752.3" r="10.8"/>
<circle cx="660.8" cy="752.6" r="10.8"/>
<circle cx="672.0" cy="752.3" r="10.8"/>
<circle cx="665.4" cy="752.4" r="10.8"/>
<circle cx="706.6" cy="753.8" r="10.8"/>
<circle cx="663.8" cy="753.8" r="10.8"/>
<circle cx="669.7" cy="753.2" r="10.8"/>
<circle cx="712.7" cy="753.3" r="10.8"/>
<circle cx="688.0" cy="753.6" r="10.8"/>
<circle cx="678.6" cy="753.8" r="10.8"/>
<circle cx="677.8" cy="754.8" r="10.8"/>
<circle cx="727.6" cy="754.5" r="10.8"/>
<circle cx="663.0" cy="754.8" r="10.8"/>
<circle cx="662.9" cy="754.5" r="10.8"/>
<circle cx="695.7" cy="754.1" r="10.8"/>
<circle cx="712.8" cy="754.7" r="10.8"/>
<circle cx="709.0" cy="755.4" r="10.8"/>
<circle cx="703.0" cy="755.6" r="10.8"/>
<circle cx="679.3" cy="755.9" r="10.8"/>
<circle cx="743.1" cy="755.8" r="10.8"/>
<circle cx="740.3" cy="755.3" r="10.8"/>
<circle cx="742.4" cy="755.1" r="10.8"/>
<circle cx="700.2" cy="756.1" r="10.8"/>
<circle cx="698.2" cy="756.7" r="10.8"/>
<circle cx="719.3" cy="756.5" r="10.8"/>
<circle cx="688.9" cy="756.2" r="10.8"/>
<circle cx="693.9" cy="756.3" r="10.8"/>
<circle cx="676.6" cy="756.7" r="10.8"/>
<circle cx="703.3" cy="757.4" r="10.8"/>
<circle cx="676.9" cy="757.7" r="10.8"/>
<circle cx="676.8" cy="757.3" r="10.8"/>
<circle cx="707.0" cy="757.7" r="10.8"/>
<circle cx="741.3" cy="757.7" r="10.8"/>
<circle cx="739.2" cy="757.9" r="10.8"/>
<circle cx="720.5" cy="758.7" r="10.8"/>
<circle cx="665.7" cy="758.2" r="10.8"/>
<circle cx="661.6" cy="758.9" r="10.8"/>
<circle cx="720.4" cy="758.6" r="10.8"/>
<circle cx="682.4" cy="758.4" r="10.8"/>
<circle cx="674.1" cy="758.6" r="10.8"/>
<circle cx="742.8" cy="759.3" r="10.8"/>
<circle cx="664.2" cy="759.2" r="10.8"/>
<circle cx="690.0" cy="759.9" r="10.8"/>
<circle cx="727.3" cy="759.5" r="10.8"/>
<circle cx="669.0" cy="759.1" r="10.8"/>
<circle cx="673.3" cy="759.8" r="10.8"/>
<circle cx="699.6" cy="761.0" r="10.8"/>
<circle cx="736.2" cy="760.8" r="10.8"/>
<circle cx="700.0" cy="760.8" r="10.8"/>
<circle cx="671.1" cy="760.1" r="10.8"/>
<circle cx="707.3" cy="760.5" r="10.8"/>
<circle cx="677.9" cy="760.3" r="10.8"/>
<circle cx="662.3" cy="761.9" r="10.8"/>
<circle cx="719.4" cy="761.9" r="10.8"/>
<circle cx="741.9" cy="761.4" r="10.8"/>
<circle cx="721.3" cy="761.4" r="10.8"/>
<circle cx="727.9" cy="761.8" r="10.8"/>
<circle cx="671.6" cy="761.0" r="10.8"/>
<circle cx="678.3" cy="762.6" r="10.8"/>
<circle cx="691.9" cy="762.0" r="10.8"/>
<circle cx="729.4" cy="762.8" r="10.8"/>
<circle cx="699.0" cy="762.0" r="10.8"/>
<circle cx="734.3" cy="762.5" r="10.8"/>
<circle cx="666.4" cy="762.3" r="10.8"/>
<circle cx="712.3" cy="763.9" r="10.8"/>
<circle cx="700.7" cy="763.6" r="10.8"/>
<circle cx="677.6" cy="763.2" r="10.8"/>
<circle cx="735.7" cy="763.4" r="10.8"/>
<circle cx="669.1" cy="763.6" r="10.8"/>
<circle cx="671.0" cy="763.2" r="10.8"/>
<circle cx="698.4" cy="764.6" r="10.8"/>
<circle cx="713.3" cy="764.7" r="10.8"/>
<circle cx="697.0" cy="764.1" r="10.8"/>
<circle cx="720.6" cy="764.1" r="10.8"/>
<circle cx="699.6" cy="764.4" r="10.8"/>
<circle cx="716.4" cy="764.7" r="10.8"/>
<circle cx="680.4" cy="765.6" r="10.8"/>
<circle cx="717.9" cy="765.5" r="10.8"/>
<circle cx="672.3" cy="765.9" r="10.8"/>
<circle cx="710.2" cy="765.1" r="10.8"/>
<circle cx="680.3" cy="766.0" r="10.8"/>
<circle cx="679.5" cy="765.4" r="10.8"/>
<circle cx="725.9" cy="766.8" r="10.8"/>
<circle cx="713.1" cy="766.7" r="10.8"/>
<circle cx="663.7" cy="766.1" r="10.8"/>
<circle cx="741.5" cy="766.8" r="10.8"/>
<circle cx="663.7" cy="766.0" r="10.8"/>
<circle cx="680.5" cy="766.9" r="10.8"/>
<circle cx="678.7" cy="767.7" r="10.8"/>
<circle cx="737.7" cy="767.6" r="10.8"/>
<circle cx="736.8" cy="767.3" r="10.8"/>
<circle cx="673.2" cy="767.0" r="10.8"/>
<circle cx="723.3" cy="767.1" r="10.8"/>
<circle cx="741.3" cy="767.7" r="10.8"/>
<circle cx="676.0" cy="768.8" r="10.8"/>
<circle cx="674.0" cy="768.5" r="10.8"/>
<circle cx="669.3" cy="768.8" r="10.8"/>
<circle cx="734.3" cy="768.9" r="10.8"/>
<circle cx="660.7" cy="768.9" r="10.8"/>
<circle cx="706.6" cy="768.8" r="10.8"/>
<circle cx="702.2" cy="769.6" r="10.8"/>
<circle cx="709.8" cy="769.8" r="10.8"/>
<circle cx="666.9" cy="769.1" r="10.8"/>
<circle cx="705.8" cy="769.3" r="10.8"/>
<circle cx="693.4" cy="769.0" r="10.8"/>
<circle cx="722.3" cy="770.0" r="10.8"/>
<circle cx="729.4" cy="770.8" r="10.8"/>
<circle cx="698.5" cy="770.1" r="10.8"/>
<circle cx="714.5" cy="770.2" r="10.8"/>
<circle cx="696.1" cy="770.1" r="10.8"/>
<circle cx="741.5" cy="771.5" r="10.8"/>
<circle cx="689.8" cy="771.1" r="10.8"/>
<circle cx="721.1" cy="771.8" r="10.8"/>
<circle cx="730.9" cy="771.1" r="10.8"/>
<circle cx="691.0" cy="771.3" r="10.8"/>
<circle cx="723.8" cy="772.1" r="10.8"/>
<circle cx="710.8" cy="773.0" r="10.8"/>
<circle cx="724.3" cy="772.0" r="10.8"/>
<circle cx="666.7" cy="773.1" r="10.8"/>
<circle cx="718.0" cy="773.6" r="10.8"/>
<circle cx="703.7" cy="773.5" r="10.8"/>
<circle cx="694.3" cy="773.6" r="10.8"/>
<circle cx="714.3" cy="774.9" r="10.8"/>
<circle cx="721.3" cy="774.8" r="10.8"/>
<circle cx="736.3" cy="775.8" r="10.8"/>
<circle cx="720.0" cy="775.0" r="10.8"/>
<circle cx="717.0" cy="776.8" r="10.8"/>
<circle cx="696.3" cy="776.9" r="10.8"/>
<circle cx="675.4" cy="777.9" r="10.8"/>
<circle cx="697.2" cy="778.7" r="10.8"/>
<circle cx="681.5" cy="779.3" r="10.8"/>
<circle cx="689.4" cy="779.3" r="10.8"/>
<circle cx="668.4" cy="780.4" r="10.8"/>
<circle cx="741.9" cy="781.7" r="10.8"/>
<circle cx="737.9" cy="783.8" r="10.8"/>
<circle cx="730.0" cy="785.0" r="10.8"/>
<circle cx="723.0" cy="786.3" r="10.8"/>
<circle cx="681.2" cy="789.4" r="10.8"/>
<circle cx="662.2" cy="792.2" r="10.8"/>
<circle cx="734.1" cy="796.9" r="10.8"/>
<circle cx="687.8" cy="801.8" r="10.8"/>
<circle cx="706.2" cy="335.4" r="10.8"/>
<circle cx="695.2" cy="374.0" r="10.8"/>
<circle cx="707.3" cy="376.2" r="10.8"/>
<circle cx="666.5" cy="390.6" r="10.8"/>
<circle cx="720.6" cy="391.7" r="10.8"/>
<circle cx="725.0" cy="392.8" r="10.8"/>
<circle cx="744.9" cy="409.8" r="10.8"/>
<circle cx="684.2" cy="455.7" r="10.8"/>
<circle cx="690.8" cy="461.2" r="10.8"/>
<circle cx="683.0" cy="470.0" r="10.8"/>
<circle cx="665.4" cy="478.9" r="10.8"/>
<circle cx="702.9" cy="476.7" r="10.8"/>
<circle cx="729.4" cy="464.6" r="10.8"/>
<circle cx="699.6" cy="493.3" r="10.8"/>
<circle cx="715.0" cy="490.0" r="10.8"/>
<circle cx="735.0" cy="498.8" r="10.8"/>
<circle cx="706.2" cy="506.5" r="10.8"/>
<circle cx="712.9" cy="512.0" r="10.8"/>
<circle cx="708.0" cy="509.0" r="10.8"/>
<circle cx="674.2" cy="518.7" r="10.8"/>
<circle cx="698.5" cy="522.0" r="10.8"/>
<circle cx="738.3" cy="519.8" r="10.8"/>
<circle cx="739.4" cy="537.4" r="10.8"/>
<circle cx="665.4" cy="547.4" r="10.8"/>
<circle cx="673.1" cy="555.1" r="10.8"/>
<circle cx="709.6" cy="547.4" r="10.8"/>
<circle cx="688.6" cy="566.1" r="10.8"/>
<circle cx="715.0" cy="579.4" r="10.8"/>
<circle cx="693.0" cy="581.6" r="10.8"/>
<circle cx="674.2" cy="562.2" r="10.8"/>
<circle cx="694.1" cy="564.4" r="10.8"/>
<circle cx="689.7" cy="579.9" r="10.8"/>
<circle cx="716.2" cy="577.7" r="10.8"/>
<circle cx="661.0" cy="595.4" r="10.8"/>
<circle cx="683.0" cy="595.4" r="10.8"/>
<circle cx="702.9" cy="593.1" r="10.8"/>
<circle cx="718.4" cy="599.8" r="10.8"/>
<circle cx="736.1" cy="608.6" r="10.8"/>
<circle cx="665.4" cy="619.7" r="10.8"/>
<circle cx="687.5" cy="624.1" r="10.8"/>
<circle cx="702.9" cy="619.7" r="10.8"/>
<circle cx="722.8" cy="626.3" r="10.8"/>
<circle cx="736.1" cy="632.9" r="10.8"/>
<circle cx="652.1" cy="644.0" r="10.8"/>
<circle cx="718.4" cy="646.2" r="10.8"/>
<circle cx="729.4" cy="655.0" r="10.8"/>
<circle cx="654.3" cy="758.9" r="10.8"/>
<circle cx="662.6" cy="803.0" r="10.8"/>
<circle cx="673.0" cy="796.0" r="10.8"/>
<circle cx="681.7" cy="816.9" r="10.8"/>
<circle cx="669.5" cy="827.3" r="10.8"/>
<circle cx="689.5" cy="836.9" r="10.8"/>
<circle cx="673.0" cy="849.9" r="10.8"/>
<circle cx="710.3" cy="806.5" r="10.8"/>
<circle cx="732.9" cy="806.5" r="10.8"/>
<circle cx="746.0" cy="783.0" r="10.8"/>
<circle cx="727.7" cy="869.9" r="10.8"/>
<circle cx="739.9" cy="886.4" r="10.8"/>
<circle cx="700.8" cy="974.1" r="10.8"/>
</g>
<g fill="#3a80bc" fill-opacity="0.50">
<circle cx="1019.7" cy="526.8" r="10.8"/>
<circle cx="989.7" cy="535.1" r="10.8"/>
<circle cx="1014.3" cy="543.3" r="10.8"/>
<circle cx="997.7" cy="550.4" r="10.8"/>
<circle cx="990.1" cy="558.0" r="10.8"/>
<circle cx="958.5" cy="564.5" r="10.8"/>
<circle cx="999.6" cy="570.5" r="10.8"/>
<circle cx="1023.8" cy="576.4" r="10.8"/>
<circle cx="1021.8" cy="582.7" r="10.8"/>
<circle cx="1026.3" cy="588.1" r="10.8"/>
<circle cx="962.8" cy="593.3" r="10.8"/>
<circle cx="1021.1" cy="598.0" r="10.8"/>
<circle cx="966.9" cy="603.7" r="10.8"/>
<circle cx="1028.1" cy="607.2" r="10.8"/>
<circle cx="981.8" cy="611.7" r="10.8"/>
<circle cx="1003.0" cy="615.7" r="10.8"/>
<circle cx="1008.3" cy="618.2" r="10.8"/>
<circle cx="966.6" cy="621.0" r="10.8"/>
<circle cx="1003.1" cy="624.2" r="10.8"/>
<circle cx="966.8" cy="628.0" r="10.8"/>
<circle cx="999.0" cy="630.6" r="10.8"/>
<circle cx="1000.1" cy="632.6" r="10.8"/>
<circle cx="1003.4" cy="634.3" r="10.8"/>
<circle cx="950.4" cy="636.1" r="10.8"/>
<circle cx="946.2" cy="638.4" r="10.8"/>
<circle cx="956.9" cy="640.1" r="10.8"/>
<circle cx="986.5" cy="642.0" r="10.8"/>
<circle cx="1002.8" cy="642.3" r="10.8"/>
<circle cx="1009.6" cy="643.2" r="10.8"/>
<circle cx="953.4" cy="644.3" r="10.8"/>
<circle cx="979.4" cy="645.7" r="10.8"/>
<circle cx="982.4" cy="646.7" r="10.8"/>
<circle cx="953.0" cy="647.9" r="10.8"/>
<circle cx="973.8" cy="647.8" r="10.8"/>
<circle cx="947.6" cy="648.8" r="10.8"/>
<circle cx="964.0" cy="649.9" r="10.8"/>
<circle cx="1012.4" cy="649.7" r="10.8"/>
<circle cx="968.3" cy="650.0" r="10.8"/>
<circle cx="961.0" cy="650.9" r="10.8"/>
<circle cx="958.3" cy="651.7" r="10.8"/>
<circle cx="994.3" cy="651.7" r="10.8"/>
<circle cx="960.2" cy="651.1" r="10.8"/>
<circle cx="953.2" cy="653.0" r="10.8"/>
<circle cx="977.2" cy="652.7" r="10.8"/>
<circle cx="992.8" cy="652.2" r="10.8"/>
<circle cx="950.4" cy="652.0" r="10.8"/>
<circle cx="1016.6" cy="653.1" r="10.8"/>
<circle cx="1025.9" cy="653.4" r="10.8"/>
<circle cx="1005.7" cy="653.1" r="10.8"/>
<circle cx="1011.2" cy="654.3" r="10.8"/>
<circle cx="975.8" cy="654.5" r="10.8"/>
<circle cx="954.4" cy="654.2" r="10.8"/>
<circle cx="1011.9" cy="654.3" r="10.8"/>
<circle cx="977.0" cy="655.8" r="10.8"/>
<circle cx="963.8" cy="655.2" r="10.8"/>
<circle cx="963.4" cy="655.4" r="10.8"/>
<circle cx="975.7" cy="655.6" r="10.8"/>
<circle cx="984.6" cy="655.9" r="10.8"/>
<circle cx="949.2" cy="656.7" r="10.8"/>
<circle cx="1015.3" cy="656.2" r="10.8"/>
<circle cx="947.5" cy="656.4" r="10.8"/>
<circle cx="954.7" cy="656.5" r="10.8"/>
<circle cx="1004.8" cy="656.1" r="10.8"/>
<circle cx="954.9" cy="657.5" r="10.8"/>
<circle cx="959.6" cy="657.2" r="10.8"/>
<circle cx="982.0" cy="657.1" r="10.8"/>
<circle cx="950.7" cy="657.4" r="10.8"/>
<circle cx="984.4" cy="657.9" r="10.8"/>
<circle cx="991.6" cy="657.1" r="10.8"/>
<circle cx="963.7" cy="658.7" r="10.8"/>
<circle cx="992.3" cy="658.9" r="10.8"/>
<circle cx="1025.8" cy="658.9" r="10.8"/>
<circle cx="954.2" cy="658.9" r="10.8"/>
<circle cx="989.1" cy="658.2" r="10.8"/>
<circle cx="959.3" cy="658.9" r="10.8"/>
<circle cx="962.8" cy="659.1" r="10.8"/>
<circle cx="967.3" cy="659.9" r="10.8"/>
<circle cx="983.7" cy="659.7" r="10.8"/>
<circle cx="951.3" cy="659.5" r="10.8"/>
<circle cx="971.7" cy="659.2" r="10.8"/>
<circle cx="1000.7" cy="659.4" r="10.8"/>
<circle cx="955.1" cy="661.0" r="10.8"/>
<circle cx="985.5" cy="660.2" r="10.8"/>
<circle cx="945.9" cy="660.7" r="10.8"/>
<circle cx="988.2" cy="660.0" r="10.8"/>
<circle cx="984.5" cy="660.7" r="10.8"/>
<circle cx="990.1" cy="660.2" r="10.8"/>
<circle cx="986.9" cy="661.6" r="10.8"/>
<circle cx="999.7" cy="661.1" r="10.8"/>
<circle cx="1012.5" cy="661.9" r="10.8"/>
<circle cx="1007.2" cy="661.9" r="10.8"/>
<circle cx="975.9" cy="661.9" r="10.8"/>
<circle cx="960.3" cy="661.2" r="10.8"/>
<circle cx="995.2" cy="662.9" r="10.8"/>
<circle cx="951.9" cy="662.2" r="10.8"/>
<circle cx="948.0" cy="662.4" r="10.8"/>
<circle cx="956.8" cy="662.2" r="10.8"/>
<circle cx="1007.9" cy="662.6" r="10.8"/>
<circle cx="1023.9" cy="662.4" r="10.8"/>
<circle cx="1002.0" cy="663.0" r="10.8"/>
<circle cx="1024.7" cy="663.2" r="10.8"/>
<circle cx="985.1" cy="663.5" r="10.8"/>
<circle cx="1024.7" cy="663.5" r="10.8"/>
<circle cx="1028.3" cy="663.6" r="10.8"/>
<circle cx="963.2" cy="663.8" r="10.8"/>
<circle cx="962.0" cy="665.0" r="10.8"/>
<circle cx="983.4" cy="664.2" r="10.8"/>
<circle cx="1025.7" cy="664.3" r="10.8"/>
<circle cx="979.2" cy="664.3" r="10.8"/>
<circle cx="1001.2" cy="664.0" r="10.8"/>
<circle cx="976.4" cy="664.2" r="10.8"/>
<circle cx="1014.6" cy="665.0" r="10.8"/>
<circle cx="996.0" cy="665.3" r="10.8"/>
<circle cx="983.1" cy="665.6" r="10.8"/>
<circle cx="1004.8" cy="665.1" r="10.8"/>
<circle cx="965.2" cy="665.1" r="10.8"/>
<circle cx="1025.7" cy="665.1" r="10.8"/>
<circle cx="956.5" cy="666.5" r="10.8"/>
<circle cx="993.8" cy="666.9" r="10.8"/>
<circle cx="949.8" cy="666.2" r="10.8"/>
<circle cx="959.1" cy="666.6" r="10.8"/>
<circle cx="983.0" cy="666.4" r="10.8"/>
<circle cx="1019.6" cy="666.7" r="10.8"/>
<circle cx="1017.3" cy="668.0" r="10.8"/>
<circle cx="967.6" cy="667.9" r="10.8"/>
<circle cx="979.3" cy="667.1" r="10.8"/>
<circle cx="1021.8" cy="667.1" r="10.8"/>
<circle cx="946.5" cy="667.3" r="10.8"/>
<circle cx="969.3" cy="668.0" r="10.8"/>
<circle cx="1018.1" cy="668.4" r="10.8"/>
<circle cx="989.5" cy="668.8" r="10.8"/>
<circle cx="1012.8" cy="668.7" r="10.8"/>
<circle cx="988.1" cy="668.1" r="10.8"/>
<circle cx="965.5" cy="668.7" r="10.8"/>
<circle cx="994.2" cy="668.8" r="10.8"/>
<circle cx="1020.5" cy="670.0" r="10.8"/>
<circle cx="961.2" cy="669.1" r="10.8"/>
<circle cx="1020.4" cy="669.6" r="10.8"/>
<circle cx="960.2" cy="669.7" r="10.8"/>
<circle cx="966.5" cy="669.2" r="10.8"/>
<circle cx="975.8" cy="669.5" r="10.8"/>
<circle cx="1001.9" cy="670.1" r="10.8"/>
<circle cx="1007.3" cy="670.6" r="10.8"/>
<circle cx="984.6" cy="670.7" r="10.8"/>
<circle cx="1012.2" cy="670.0" r="10.8"/>
<circle cx="984.9" cy="670.7" r="10.8"/>
<circle cx="1004.6" cy="670.6" r="10.8"/>
<circle cx="960.1" cy="672.0" r="10.8"/>
<circle cx="1011.0" cy="671.2" r="10.8"/>
<circle cx="981.2" cy="672.0" r="10.8"/>
<circle cx="962.4" cy="671.4" r="10.8"/>
<circle cx="1025.8" cy="671.9" r="10.8"/>
<circle cx="964.5" cy="671.7" r="10.8"/>
<circle cx="975.2" cy="672.7" r="10.8"/>
<circle cx="1009.4" cy="672.1" r="10.8"/>
<circle cx="963.7" cy="672.2" r="10.8"/>
<circle cx="967.3" cy="672.0" r="10.8"/>
<circle cx="956.4" cy="672.4" r="10.8"/>
<circle cx="980.3" cy="672.1" r="10.8"/>
<circle cx="993.9" cy="673.9" r="10.8"/>
<circle cx="993.5" cy="673.4" r="10.8"/>
<circle cx="1004.2" cy="673.4" r="10.8"/>
<circle cx="959.7" cy="673.5" r="10.8"/>
<circle cx="946.5" cy="673.7" r="10.8"/>
<circle cx="958.5" cy="673.4" r="10.8"/>
<circle cx="1025.8" cy="674.8" r="10.8"/>
<circle cx="1015.2" cy="674.6" r="10.8"/>
<circle cx="998.3" cy="674.7" r="10.8"/>
<circle cx="1026.2" cy="674.2" r="10.8"/>
<circle cx="1009.4" cy="674.3" r="10.8"/>
<circle cx="966.5" cy="674.8" r="10.8"/>
<circle cx="995.5" cy="675.8" r="10.8"/>
<circle cx="1018.5" cy="675.6" r="10.8"/>
<circle cx="961.7" cy="675.0" r="10.8"/>
<circle cx="989.9" cy="675.7" r="10.8"/>
<circle cx="967.9" cy="675.1" r="10.8"/>
<circle cx="945.4" cy="675.2" r="10.8"/>
<circle cx="1003.5" cy="676.0" r="10.8"/>
<circle cx="964.3" cy="676.3" r="10.8"/>
<circle cx="1004.7" cy="677.0" r="10.8"/>
<circle cx="946.6" cy="676.1" r="10.8"/>
<circle cx="1023.5" cy="677.0" r="10.8"/>
<circle cx="957.5" cy="676.3" r="10.8"/>
<circle cx="988.9" cy="677.3" r="10.8"/>
<circle cx="980.1" cy="677.5" r="10.8"/>
<circle cx="966.7" cy="677.1" r="10.8"/>
<circle cx="952.0" cy="677.2" r="10.8"/>
<circle cx="952.7" cy="677.6" r="10.8"/>
<circle cx="1003.5" cy="677.3" r="10.8"/>
<circle cx="1011.5" cy="678.7" r="10.8"/>
<circle cx="973.7" cy="678.5" r="10.8"/>
<circle cx="960.8" cy="678.9" r="10.8"/>
<circle cx="992.1" cy="678.1" r="10.8"/>
<circle cx="957.9" cy="678.7" r="10.8"/>
<circle cx="977.4" cy="678.7" r="10.8"/>
<circle cx="964.3" cy="679.8" r="10.8"/>
<circle cx="1012.4" cy="679.1" r="10.8"/>
<circle cx="994.2" cy="679.2" r="10.8"/>
<circle cx="1004.5" cy="679.8" r="10.8"/>
<circle cx="1011.5" cy="679.2" r="10.8"/>
<circle cx="952.8" cy="679.7" r="10.8"/>
<circle cx="992.5" cy="680.1" r="10.8"/>
<circle cx="961.2" cy="680.6" r="10.8"/>
<circle cx="954.1" cy="680.6" r="10.8"/>
<circle cx="965.2" cy="680.3" r="10.8"/>
<circle cx="980.6" cy="680.5" r="10.8"/>
<circle cx="1005.9" cy="680.0" r="10.8"/>
<circle cx="1005.8" cy="681.2" r="10.8"/>
<circle cx="969.4" cy="681.6" r="10.8"/>
<circle cx="1003.1" cy="681.6" r="10.8"/>
<circle cx="1020.8" cy="681.2" r="10.8"/>
<circle cx="971.1" cy="681.7" r="10.8"/>
<circle cx="966.9" cy="681.2" r="10.8"/>
<circle cx="964.0" cy="682.8" r="10.8"/>
<circle cx="1014.5" cy="682.7" r="10.8"/>
<circle cx="1025.5" cy="682.8" r="10.8"/>
<circle cx="971.0" cy="682.3" r="10.8"/>
<circle cx="1005.6" cy="682.1" r="10.8"/>
<circle cx="996.2" cy="682.1" r="10.8"/>
<circle cx="949.1" cy="683.5" r="10.8"/>
<circle cx="957.7" cy="683.9" r="10.8"/>
<circle cx="1018.7" cy="683.5" r="10.8"/>
<circle cx="961.6" cy="683.1" r="10.8"/>
<circle cx="987.6" cy="683.5" r="10.8"/>
<circle cx="975.5" cy="683.7" r="10.8"/>
<circle cx="989.5" cy="684.8" r="10.8"/>
<circle cx="953.9" cy="684.1" r="10.8"/>
<circle cx="977.5" cy="684.5" r="10.8"/>
<circle cx="966.2" cy="684.7" r="10.8"/>
<circle cx="963.6" cy="684.3" r="10.8"/>
<circle cx="985.1" cy="684.7" r="10.8"/>
<circle cx="1009.7" cy="685.4" r="10.8"/>
<circle cx="982.5" cy="685.9" r="10.8"/>
<circle cx="1023.4" cy="685.6" r="10.8"/>
<circle cx="953.8" cy="685.5" r="10.8"/>
<circle cx="998.5" cy="685.3" r="10.8"/>
<circle cx="948.1" cy="686.0" r="10.8"/>
<circle cx="1021.4" cy="686.1" r="10.8"/>
<circle cx="984.1" cy="686.6" r="10.8"/>
<circle cx="970.2" cy="686.1" r="10.8"/>
<circle cx="1008.1" cy="686.8" r="10.8"/>
<circle cx="981.7" cy="686.1" r="10.8"/>
<circle cx="978.1" cy="686.1" r="10.8"/>
<circle cx="1025.9" cy="687.1" r="10.8"/>
<circle cx="969.2" cy="687.8" r="10.8"/>
<circle cx="956.3" cy="687.1" r="10.8"/>
<circle cx="950.9" cy="687.2" r="10.8"/>
<circle cx="989.7" cy="687.8" r="10.8"/>
<circle cx="959.2" cy="687.2" r="10.8"/>
<circle cx="1009.3" cy="688.4" r="10.8"/>
<circle cx="973.4" cy="688.1" r="10.8"/>
<circle cx="965.4" cy="689.0" r="10.8"/>
<circle cx="954.8" cy="688.3" r="10.8"/>
<circle cx="1007.2" cy="688.9" r="10.8"/>
<circle cx="1021.0" cy="688.5" r="10.8"/>
<circle cx="1025.3" cy="689.6" r="10.8"/>
<circle cx="969.3" cy="689.5" r="10.8"/>
<circle cx="1005.1" cy="689.7" r="10.8"/>
<circle cx="955.9" cy="689.2" r="10.8"/>
<circle cx="1025.5" cy="689.1" r="10.8"/>
<circle cx="1013.3" cy="689.3" r="10.8"/>
<circle cx="965.8" cy="690.3" r="10.8"/>
<circle cx="984.4" cy="691.0" r="10.8"/>
<circle cx="957.5" cy="690.9" r="10.8"/>
<circle cx="972.0" cy="690.2" r="10.8"/>
<circle cx="1007.6" cy="690.3" r="10.8"/>
<circle cx="960.8" cy="690.4" r="10.8"/>
<circle cx="1014.0" cy="691.9" r="10.8"/>
<circle cx="993.3" cy="691.0" r="10.8"/>
<circle cx="1009.1" cy="691.6" r="10.8"/>
<circle cx="1020.5" cy="692.0" r="10.8"/>
<circle cx="972.5" cy="691.8" r="10.8"/>
<circle cx="1013.8" cy="691.3" r="10.8"/>
<circle cx="975.7" cy="692.4" r="10.8"/>
<circle cx="974.6" cy="692.4" r="10.8"/>
<circle cx="954.3" cy="692.2" r="10.8"/>
<circle cx="1021.4" cy="692.4" r="10.8"/>
<circle cx="998.4" cy="692.9" r="10.8"/>
<circle cx="1008.5" cy="692.2" r="10.8"/>
<circle cx="1022.2" cy="693.8" r="10.8"/>
<circle cx="1028.2" cy="693.7" r="10.8"/>
<circle cx="1008.4" cy="693.8" r="10.8"/>
<circle cx="966.3" cy="693.7" r="10.8"/>
<circle cx="977.0" cy="693.8" r="10.8"/>
<circle cx="956.2" cy="693.5" r="10.8"/>
<circle cx="973.3" cy="694.8" r="10.8"/>
<circle cx="974.0" cy="694.8" r="10.8"/>
<circle cx="1016.2" cy="694.9" r="10.8"/>
<circle cx="956.7" cy="694.9" r="10.8"/>
<circle cx="1007.5" cy="694.7" r="10.8"/>
<circle cx="999.8" cy="694.0" r="10.8"/>
<circle cx="1018.1" cy="695.5" r="10.8"/>
<circle cx="983.3" cy="695.3" r="10.8"/>
<circle cx="1010.8" cy="695.8" r="10.8"/>
<circle cx="1018.1" cy="695.2" r="10.8"/>
<circle cx="973.6" cy="695.2" r="10.8"/>
<circle cx="953.4" cy="695.3" r="10.8"/>
<circle cx="947.2" cy="696.8" r="10.8"/>
<circle cx="964.1" cy="696.1" r="10.8"/>
<circle cx="950.7" cy="696.7" r="10.8"/>
<circle cx="961.7" cy="696.5" r="10.8"/>
<circle cx="978.8" cy="696.8" r="10.8"/>
<circle cx="1025.1" cy="696.3" r="10.8"/>
<circle cx="998.1" cy="697.9" r="10.8"/>
<circle cx="984.5" cy="697.9" r="10.8"/>
<circle cx="1006.6" cy="697.3" r="10.8"/>
<circle cx="1018.4" cy="697.6" r="10.8"/>
<circle cx="953.9" cy="697.6" r="10.8"/>
<circle cx="1014.7" cy="697.5" r="10.8"/>
<circle cx="985.7" cy="698.4" r="10.8"/>
<circle cx="1019.0" cy="698.7" r="10.8"/>
<circle cx="962.5" cy="698.4" r="10.8"/>
<circle cx="975.5" cy="699.0" r="10.8"/>
<circle cx="1003.5" cy="698.1" r="10.8"/>
<circle cx="1021.8" cy="698.0" r="10.8"/>
<circle cx="994.6" cy="699.4" r="10.8"/>
<circle cx="1005.3" cy="699.4" r="10.8"/>
<circle cx="952.8" cy="699.5" r="10.8"/>
<circle cx="1013.9" cy="699.8" r="10.8"/>
<circle cx="975.0" cy="699.2" r="10.8"/>
<circle cx="1007.6" cy="699.8" r="10.8"/>
<circle cx="963.4" cy="700.9" r="10.8"/>
<circle cx="1028.4" cy="700.4" r="10.8"/>
<circle cx="977.0" cy="700.7" r="10.8"/>
<circle cx="1023.1" cy="700.2" r="10.8"/>
<circle cx="970.3" cy="700.3" r="10.8"/>
<circle cx="1006.5" cy="700.2" r="10.8"/>
<circle cx="990.9" cy="701.5" r="10.8"/>
<circle cx="1001.1" cy="701.1" r="10.8"/>
<circle cx="1025.4" cy="702.0" r="10.8"/>
<circle cx="992.1" cy="701.8" r="10.8"/>
<circle cx="960.4" cy="701.9" r="10.8"/>
<circle cx="991.3" cy="701.8" r="10.8"/>
<circle cx="1018.0" cy="702.4" r="10.8"/>
<circle cx="1022.6" cy="702.2" r="10.8"/>
<circle cx="947.0" cy="702.5" r="10.8"/>
<circle cx="1020.5" cy="702.9" r="10.8"/>
<circle cx="1025.2" cy="702.5" r="10.8"/>
<circle cx="1023.3" cy="702.6" r="10.8"/>
<circle cx="957.1" cy="703.6" r="10.8"/>
<circle cx="1012.5" cy="703.4" r="10.8"/>
<circle cx="995.6" cy="703.3" r="10.8"/>
<circle cx="968.2" cy="703.4" r="10.8"/>
<circle cx="988.1" cy="703.5" r="10.8"/>
<circle cx="952.8" cy="703.0" r="10.8"/>
<circle cx="973.6" cy="704.7" r="10.8"/>
<circle cx="1007.9" cy="704.2" r="10.8"/>
<circle cx="966.5" cy="704.5" r="10.8"/>
<circle cx="959.7" cy="704.6" r="10.8"/>
<circle cx="1020.9" cy="704.2" r="10.8"/>
<circle cx="994.2" cy="704.7" r="10.8"/>
<circle cx="1007.9" cy="705.7" r="10.8"/>
<circle cx="1004.7" cy="705.3" r="10.8"/>
<circle cx="1015.4" cy="705.9" r="10.8"/>
<circle cx="949.4" cy="705.9" r="10.8"/>
<circle cx="982.2" cy="705.1" r="10.8"/>
<circle cx="950.8" cy="705.8" r="10.8"/>
<circle cx="1001.9" cy="706.1" r="10.8"/>
<circle cx="983.6" cy="706.6" r="10.8"/>
<circle cx="1028.8" cy="706.3" r="10.8"/>
<circle cx="1009.4" cy="706.2" r="10.8"/>
<circle cx="961.7" cy="706.2" r="10.8"/>
<circle cx="979.5" cy="706.6" r="10.8"/>
<circle cx="970.5" cy="707.2" r="10.8"/>
<circle cx="963.4" cy="707.1" r="10.8"/>
<circle cx="961.2" cy="707.3" r="10.8"/>
<circle cx="987.4" cy="707.2" r="10.8"/>
<circle cx="985.3" cy="707.4" r="10.8"/>
<circle cx="1026.7" cy="707.5" r="10.8"/>
<circle cx="1024.4" cy="708.5" r="10.8"/>
<circle cx="961.6" cy="708.6" r="10.8"/>
<circle cx="957.2" cy="708.2" r="10.8"/>
<circle cx="951.2" cy="708.7" r="10.8"/>
<circle cx="1026.2" cy="708.4" r="10.8"/>
<circle cx="974.7" cy="708.4" r="10.8"/>
<circle cx="974.6" cy="709.7" r="10.8"/>
<circle cx="977.9" cy="709.2" r="10.8"/>
<circle cx="1017.6" cy="709.6" r="10.8"/>
<circle cx="945.5" cy="709.8" r="10.8"/>
<circle cx="1006.2" cy="709.4" r="10.8"/>
<circle cx="997.9" cy="709.9" r="10.8"/>
<circle cx="978.7" cy="710.4" r="10.8"/>
<circle cx="970.1" cy="710.6" r="10.8"/>
<circle cx="1000.7" cy="710.7" r="10.8"/>
<circle cx="1024.7" cy="710.1" r="10.8"/>
<circle cx="975.7" cy="710.9" r="10.8"/>
<circle cx="1011.4" cy="710.6" r="10.8"/>
<circle cx="1001.9" cy="711.3" r="10.8"/>
<circle cx="1024.4" cy="711.5" r="10.8"/>
<circle cx="978.8" cy="711.2" r="10.8"/>
<circle cx="954.7" cy="711.9" r="10.8"/>
<circle cx="1012.2" cy="711.0" r="10.8"/>
<circle cx="972.1" cy="711.5" r="10.8"/>
<circle cx="986.6" cy="712.4" r="10.8"/>
<circle cx="1020.2" cy="712.3" r="10.8"/>
<circle cx="989.7" cy="712.9" r="10.8"/>
<circle cx="998.7" cy="712.5" r="10.8"/>
<circle cx="972.9" cy="712.4" r="10.8"/>
<circle cx="996.2" cy="712.8" r="10.8"/>
<circle cx="966.9" cy="713.4" r="10.8"/>
<circle cx="977.6" cy="713.4" r="10.8"/>
<circle cx="1021.7" cy="713.5" r="10.8"/>
<circle cx="968.2" cy="713.3" r="10.8"/>
<circle cx="1014.0" cy="713.2" r="10.8"/>
<circle cx="1003.0" cy="713.0" r="10.8"/>
<circle cx="961.2" cy="714.1" r="10.8"/>
<circle cx="1012.7" cy="714.1" r="10.8"/>
<circle cx="964.2" cy="714.1" r="10.8"/>
<circle cx="967.2" cy="714.7" r="10.8"/>
<circle cx="1005.5" cy="714.9" r="10.8"/>
<circle cx="1024.5" cy="714.6" r="10.8"/>
<circle cx="1022.4" cy="715.1" r="10.8"/>
<circle cx="1022.7" cy="715.4" r="10.8"/>
<circle cx="961.2" cy="715.7" r="10.8"/>
<circle cx="1017.1" cy="715.4" r="10.8"/>
<circle cx="952.8" cy="715.9" r="10.8"/>
<circle cx="1008.3" cy="715.6" r="10.8"/>
<circle cx="1027.1" cy="716.0" r="10.8"/>
<circle cx="949.7" cy="716.1" r="10.8"/>
<circle cx="946.8" cy="716.7" r="10.8"/>
<circle cx="997.9" cy="716.1" r="10.8"/>
<circle cx="958.6" cy="716.2" r="10.8"/>
<circle cx="996.2" cy="716.7" r="10.8"/>
<circle cx="1026.4" cy="717.4" r="10.8"/>
<circle cx="1027.2" cy="717.4" r="10.8"/>
<circle cx="977.8" cy="717.3" r="10.8"/>
<circle cx="964.5" cy="718.0" r="10.8"/>
<circle cx="1028.6" cy="717.7" r="10.8"/>
<circle cx="959.7" cy="717.2" r="10.8"/>
<circle cx="957.8" cy="718.4" r="10.8"/>
<circle cx="1006.9" cy="718.1" r="10.8"/>
<circle cx="989.5" cy="718.7" r="10.8"/>
<circle cx="947.8" cy="718.4" r="10.8"/>
<circle cx="1011.4" cy="718.6" r="10.8"/>
<circle cx="982.9" cy="718.9" r="10.8"/>
<circle cx="995.5" cy="719.3" r="10.8"/>
<circle cx="978.3" cy="719.9" r="10.8"/>
<circle cx="1017.2" cy="719.9" r="10.8"/>
<circle cx="992.1" cy="719.1" r="10.8"/>
<circle cx="959.7" cy="719.4" r="10.8"/>
<circle cx="1003.0" cy="719.0" r="10.8"/>
<circle cx="1012.4" cy="720.8" r="10.8"/>
<circle cx="988.2" cy="720.0" r="10.8"/>
<circle cx="1012.0" cy="720.4" r="10.8"/>
<circle cx="1001.2" cy="720.6" r="10.8"/>
<circle cx="1006.2" cy="720.4" r="10.8"/>
<circle cx="1025.6" cy="721.0" r="10.8"/>
<circle cx="1023.0" cy="721.6" r="10.8"/>
<circle cx="971.6" cy="721.4" r="10.8"/>
<circle cx="967.6" cy="721.9" r="10.8"/>
<circle cx="1011.5" cy="721.8" r="10.8"/>
<circle cx="1014.0" cy="722.0" r="10.8"/>
<circle cx="1002.8" cy="721.3" r="10.8"/>
<circle cx="1008.6" cy="722.3" r="10.8"/>
<circle cx="996.3" cy="722.2" r="10.8"/>
<circle cx="1017.0" cy="722.5" r="10.8"/>
<circle cx="968.1" cy="722.9" r="10.8"/>
<circle cx="952.0" cy="722.9" r="10.8"/>
<circle cx="1008.6" cy="722.1" r="10.8"/>
<circle cx="1008.9" cy="723.6" r="10.8"/>
<circle cx="1021.2" cy="723.6" r="10.8"/>
<circle cx="980.9" cy="723.9" r="10.8"/>
<circle cx="952.3" cy="723.8" r="10.8"/>
<circle cx="953.6" cy="723.3" r="10.8"/>
<circle cx="954.5" cy="723.9" r="10.8"/>
<circle cx="982.1" cy="724.7" r="10.8"/>
<circle cx="966.6" cy="724.7" r="10.8"/>
<circle cx="999.5" cy="724.1" r="10.8"/>
<circle cx="986.5" cy="724.7" r="10.8"/>
<circle cx="963.0" cy="724.7" r="10.8"/>
<circle cx="968.3" cy="724.4" r="10.8"/>
<circle cx="1022.3" cy="725.9" r="10.8"/>
<circle cx="1028.8" cy="725.4" r="10.8"/>
<circle cx="993.0" cy="725.8" r="10.8"/>
<circle cx="1008.7" cy="725.5" r="10.8"/>
<circle cx="1017.5" cy="725.4" r="10.8"/>
<circle cx="1024.8" cy="725.5" r="10.8"/>
<circle cx="955.0" cy="726.7" r="10.8"/>
<circle cx="957.2" cy="726.7" r="10.8"/>
<circle cx="949.5" cy="727.0" r="10.8"/>
<circle cx="990.4" cy="726.7" r="10.8"/>
<circle cx="956.0" cy="726.6" r="10.8"/>
<circle cx="976.6" cy="726.2" r="10.8"/>
<circle cx="1013.5" cy="727.0" r="10.8"/>
<circle cx="985.1" cy="727.1" r="10.8"/>
<circle cx="1016.5" cy="727.9" r="10.8"/>
<circle cx="947.9" cy="727.5" r="10.8"/>
<circle cx="984.4" cy="727.7" r="10.8"/>
<circle cx="1006.2" cy="727.3" r="10.8"/>
<circle cx="1023.4" cy="728.2" r="10.8"/>
<circle cx="956.5" cy="728.8" r="10.8"/>
<circle cx="955.1" cy="728.2" r="10.8"/>
<circle cx="987.0" cy="728.3" r="10.8"/>
<circle cx="958.8" cy="728.9" r="10.8"/>
<circle cx="984.8" cy="728.8" r="10.8"/>
<circle cx="966.0" cy="729.9" r="10.8"/>
<circle cx="963.6" cy="729.9" r="10.8"/>
<circle cx="996.5" cy="730.0" r="10.8"/>
<circle cx="1009.8" cy="729.6" r="10.8"/>
<circle cx="989.8" cy="729.9" r="10.8"/>
<circle cx="982.3" cy="729.1" r="10.8"/>
<circle cx="1021.8" cy="730.8" r="10.8"/>
<circle cx="1002.3" cy="730.7" r="10.8"/>
<circle cx="964.5" cy="730.5" r="10.8"/>
<circle cx="1014.1" cy="731.0" r="10.8"/>
<circle cx="1022.6" cy="730.2" r="10.8"/>
<circle cx="1002.4" cy="730.6" r="10.8"/>
<circle cx="979.0" cy="731.2" r="10.8"/>
<circle cx="956.5" cy="731.5" r="10.8"/>
<circle cx="986.4" cy="731.3" r="10.8"/>
<circle cx="975.9" cy="731.6" r="10.8"/>
<circle cx="1009.0" cy="731.6" r="10.8"/>
<circle cx="958.6" cy="731.9" r="10.8"/>
<circle cx="975.9" cy="733.0" r="10.8"/>
<circle cx="1027.5" cy="732.1" r="10.8"/>
<circle cx="993.9" cy="733.0" r="10.8"/>
<circle cx="977.3" cy="732.5" r="10.8"/>
<circle cx="971.4" cy="732.0" r="10.8"/>
<circle cx="962.2" cy="732.1" r="10.8"/>
<circle cx="968.9" cy="733.6" r="10.8"/>
<circle cx="992.3" cy="733.9" r="10.8"/>
<circle cx="1002.6" cy="733.4" r="10.8"/>
<circle cx="1024.7" cy="733.6" r="10.8"/>
<circle cx="990.6" cy="733.9" r="10.8"/>
<circle cx="1001.3" cy="733.4" r="10.8"/>
<circle cx="995.8" cy="734.3" r="10.8"/>
<circle cx="1026.4" cy="734.2" r="10.8"/>
<circle cx="1026.7" cy="734.1" r="10.8"/>
<circle cx="945.8" cy="734.6" r="10.8"/>
<circle cx="962.3" cy="734.5" r="10.8"/>
<circle cx="954.9" cy="734.8" r="10.8"/>
<circle cx="1001.2" cy="735.7" r="10.8"/>
<circle cx="1022.8" cy="736.0" r="10.8"/>
<circle cx="1002.0" cy="735.7" r="10.8"/>
<circle cx="945.1" cy="735.0" r="10.8"/>
<circle cx="980.8" cy="736.0" r="10.8"/>
<circle cx="971.3" cy="735.6" r="10.8"/>
<circle cx="945.7" cy="736.4" r="10.8"/>
<circle cx="1020.8" cy="736.6" r="10.8"/>
<circle cx="1014.2" cy="736.0" r="10.8"/>
<circle cx="962.0" cy="736.2" r="10.8"/>
<circle cx="1014.9" cy="736.1" r="10.8"/>
<circle cx="1023.3" cy="736.3" r="10.8"/>
<circle cx="1019.0" cy="737.5" r="10.8"/>
<circle cx="972.2" cy="738.0" r="10.8"/>
<circle cx="979.0" cy="737.7" r="10.8"/>
<circle cx="950.7" cy="737.8" r="10.8"/>
<circle cx="1027.4" cy="737.1" r="10.8"/>
<circle cx="1007.7" cy="737.3" r="10.8"/>
<circle cx="957.4" cy="738.4" r="10.8"/>
<circle cx="1000.6" cy="739.0" r="10.8"/>
<circle cx="1028.5" cy="739.0" r="10.8"/>
<circle cx="997.4" cy="738.7" r="10.8"/>
<circle cx="958.5" cy="738.7" r="10.8"/>
<circle cx="991.3" cy="738.4" r="10.8"/>
<circle cx="1020.6" cy="739.3" r="10.8"/>
<circle cx="956.9" cy="739.2" r="10.8"/>
<circle cx="957.5" cy="739.6" r="10.8"/>
<circle cx="1012.3" cy="739.2" r="10.8"/>
<circle cx="987.2" cy="739.6" r="10.8"/>
<circle cx="992.1" cy="739.4" r="10.8"/>
<circle cx="990.7" cy="740.0" r="10.8"/>
<circle cx="949.9" cy="740.4" r="10.8"/>
<circle cx="964.9" cy="740.8" r="10.8"/>
<circle cx="965.3" cy="740.8" r="10.8"/>
<circle cx="965.3" cy="740.1" r="10.8"/>
<circle cx="985.1" cy="740.4" r="10.8"/>
<circle cx="973.2" cy="741.8" r="10.8"/>
<circle cx="963.7" cy="741.7" r="10.8"/>
<circle cx="1015.1" cy="741.5" r="10.8"/>
<circle cx="987.3" cy="741.9" r="10.8"/>
<circle cx="995.7" cy="741.2" r="10.8"/>
<circle cx="950.8" cy="741.1" r="10.8"/>
<circle cx="972.9" cy="742.1" r="10.8"/>
<circle cx="999.5" cy="742.4" r="10.8"/>
<circle cx="970.9" cy="742.5" r="10.8"/>
<circle cx="1023.7" cy="742.2" r="10.8"/>
<circle cx="958.0" cy="742.3" r="10.8"/>
<circle cx="972.2" cy="742.9" r="10.8"/>
<circle cx="1004.3" cy="743.4" r="10.8"/>
<circle cx="958.9" cy="743.0" r="10.8"/>
<circle cx="955.3" cy="743.8" r="10.8"/>
<circle cx="999.4" cy="743.2" r="10.8"/>
<circle cx="997.5" cy="743.1" r="10.8"/>
<circle cx="987.6" cy="743.3" r="10.8"/>
<circle cx="953.6" cy="744.7" r="10.8"/>
<circle cx="1005.2" cy="744.5" r="10.8"/>
<circle cx="959.1" cy="744.7" r="10.8"/>
<circle cx="981.4" cy="744.7" r="10.8"/>
<circle cx="952.7" cy="744.9" r="10.8"/>
<circle cx="945.3" cy="744.2" r="10.8"/>
<circle cx="978.5" cy="745.2" r="10.8"/>
<circle cx="952.4" cy="745.7" r="10.8"/>
<circle cx="1028.5" cy="745.3" r="10.8"/>
<circle cx="967.4" cy="745.7" r="10.8"/>
<circle cx="963.7" cy="745.4" r="10.8"/>
<circle cx="1002.8" cy="745.4" r="10.8"/>
<circle cx="958.1" cy="746.1" r="10.8"/>
<circle cx="990.6" cy="747.0" r="10.8"/>
<circle cx="1022.3" cy="746.1" r="10.8"/>
<circle cx="987.2" cy="746.5" r="10.8"/>
<circle cx="961.3" cy="746.7" r="10.8"/>
<circle cx="986.6" cy="746.8" r="10.8"/>
<circle cx="969.5" cy="747.9" r="10.8"/>
<circle cx="1013.4" cy="747.5" r="10.8"/>
<circle cx="956.9" cy="747.5" r="10.8"/>
<circle cx="955.7" cy="747.7" r="10.8"/>
<circle cx="1003.6" cy="747.6" r="10.8"/>
<circle cx="1027.0" cy="747.0" r="10.8"/>
<circle cx="1005.1" cy="748.8" r="10.8"/>
<circle cx="954.5" cy="748.3" r="10.8"/>
<circle cx="949.5" cy="748.6" r="10.8"/>
<circle cx="1005.7" cy="748.3" r="10.8"/>
<circle cx="1003.4" cy="748.4" r="10.8"/>
<circle cx="1004.8" cy="748.3" r="10.8"/>
<circle cx="1027.2" cy="749.4" r="10.8"/>
<circle cx="945.3" cy="749.1" r="10.8"/>
<circle cx="1006.0" cy="749.9" r="10.8"/>
<circle cx="998.5" cy="749.2" r="10.8"/>
<circle cx="1018.3" cy="749.7" r="10.8"/>
<circle cx="954.7" cy="749.4" r="10.8"/>
<circle cx="1001.4" cy="750.0" r="10.8"/>
<circle cx="948.6" cy="750.4" r="10.8"/>
<circle cx="1018.5" cy="751.0" r="10.8"/>
<circle cx="971.7" cy="750.9" r="10.8"/>
<circle cx="1011.0" cy="750.9" r="10.8"/>
<circle cx="994.4" cy="751.0" r="10.8"/>
<circle cx="999.1" cy="751.9" r="10.8"/>
<circle cx="992.5" cy="751.2" r="10.8"/>
<circle cx="988.6" cy="751.5" r="10.8"/>
<circle cx="973.3" cy="751.4" r="10.8"/>
<circle cx="987.9" cy="751.6" r="10.8"/>
<circle cx="963.7" cy="751.3" r="10.8"/>
<circle cx="987.2" cy="752.5" r="10.8"/>
<circle cx="980.2" cy="752.7" r="10.8"/>
<circle cx="960.6" cy="752.5" r="10.8"/>
<circle cx="968.2" cy="752.8" r="10.8"/>
<circle cx="1004.1" cy="752.8" r="10.8"/>
<circle cx="988.5" cy="752.2" r="10.8"/>
<circle cx="1022.8" cy="753.5" r="10.8"/>
<circle cx="976.5" cy="753.3" r="10.8"/>
<circle cx="978.8" cy="753.7" r="10.8"/>
<circle cx="1013.8" cy="753.5" r="10.8"/>
<circle cx="1006.4" cy="753.2" r="10.8"/>
<circle cx="983.0" cy="753.4" r="10.8"/>
<circle cx="970.7" cy="754.4" r="10.8"/>
<circle cx="1008.4" cy="754.7" r="10.8"/>
<circle cx="962.4" cy="754.2" r="10.8"/>
<circle cx="1010.9" cy="754.7" r="10.8"/>
<circle cx="1001.8" cy="754.6" r="10.8"/>
<circle cx="1003.3" cy="754.3" r="10.8"/>
<circle cx="950.1" cy="755.4" r="10.8"/>
<circle cx="947.7" cy="756.0" r="10.8"/>
<circle cx="989.1" cy="755.7" r="10.8"/>
<circle cx="1026.2" cy="755.8" r="10.8"/>
<circle cx="964.3" cy="755.3" r="10.8"/>
<circle cx="954.1" cy="755.8" r="10.8"/>
<circle cx="1006.9" cy="756.5" r="10.8"/>
<circle cx="976.0" cy="756.3" r="10.8"/>
<circle cx="985.9" cy="756.7" r="10.8"/>
<circle cx="1020.2" cy="756.8" r="10.8"/>
<circle cx="1017.9" cy="756.4" r="10.8"/>
<circle cx="980.4" cy="757.3" r="10.8"/>
<circle cx="1026.8" cy="757.2" r="10.8"/>
<circle cx="958.3" cy="757.3" r="10.8"/>
<circle cx="1022.5" cy="757.9" r="10.8"/>
<circle cx="972.8" cy="757.9" r="10.8"/>
<circle cx="1019.8" cy="758.4" r="10.8"/>
<circle cx="961.2" cy="758.8" r="10.8"/>
<circle cx="976.5" cy="758.1" r="10.8"/>
<circle cx="1020.8" cy="758.4" r="10.8"/>
<circle cx="978.4" cy="758.6" r="10.8"/>
<circle cx="966.4" cy="759.0" r="10.8"/>
<circle cx="977.8" cy="759.4" r="10.8"/>
<circle cx="945.9" cy="759.4" r="10.8"/>
<circle cx="1008.9" cy="759.3" r="10.8"/>
<circle cx="1002.1" cy="760.6" r="10.8"/>
<circle cx="960.8" cy="760.0" r="10.8"/>
<circle cx="1001.6" cy="760.6" r="10.8"/>
<circle cx="969.7" cy="760.2" r="10.8"/>
<circle cx="1016.8" cy="761.9" r="10.8"/>
<circle cx="964.6" cy="761.6" r="10.8"/>
<circle cx="993.3" cy="761.3" r="10.8"/>
<circle cx="948.1" cy="762.3" r="10.8"/>
<circle cx="999.1" cy="762.6" r="10.8"/>
<circle cx="987.8" cy="762.1" r="10.8"/>
<circle cx="962.9" cy="763.3" r="10.8"/>
<circle cx="980.0" cy="763.4" r="10.8"/>
<circle cx="1020.8" cy="763.1" r="10.8"/>
<circle cx="1027.9" cy="764.2" r="10.8"/>
<circle cx="1017.0" cy="764.2" r="10.8"/>
<circle cx="994.3" cy="765.4" r="10.8"/>
<circle cx="948.2" cy="766.8" r="10.8"/>
<circle cx="1013.1" cy="767.3" r="10.8"/>
<circle cx="1010.2" cy="767.5" r="10.8"/>
<circle cx="1027.9" cy="768.1" r="10.8"/>
<circle cx="976.9" cy="769.2" r="10.8"/>
<circle cx="997.5" cy="770.8" r="10.8"/>
<circle cx="1015.7" cy="771.5" r="10.8"/>
<circle cx="977.5" cy="772.8" r="10.8"/>
<circle cx="953.8" cy="773.3" r="10.8"/>
<circle cx="1008.2" cy="774.4" r="10.8"/>
<circle cx="1028.4" cy="775.1" r="10.8"/>
<circle cx="983.8" cy="777.2" r="10.8"/>
<circle cx="945.2" cy="778.1" r="10.8"/>
<circle cx="952.6" cy="781.4" r="10.8"/>
<circle cx="981.3" cy="783.5" r="10.8"/>
<circle cx="969.3" cy="785.7" r="10.8"/>
<circle cx="988.4" cy="789.0" r="10.8"/>
<circle cx="959.2" cy="790.5" r="10.8"/>
<circle cx="986.5" cy="793.4" r="10.8"/>
<circle cx="1017.3" cy="796.2" r="10.8"/>
<circle cx="1018.7" cy="800.4" r="10.8"/>
<circle cx="973.2" cy="806.6" r="10.8"/>
<circle cx="1014.3" cy="73.2" r="10.8"/>
<circle cx="968.6" cy="159.3" r="10.8"/>
<circle cx="954.2" cy="188.0" r="10.8"/>
<circle cx="1005.7" cy="184.0" r="10.8"/>
<circle cx="1018.7" cy="210.0" r="10.8"/>
<circle cx="1023.3" cy="241.7" r="10.8"/>
<circle cx="1013.8" cy="252.0" r="10.8"/>
<circle cx="1016.5" cy="259.8" r="10.8"/>
<circle cx="945.4" cy="333.2" r="10.8"/>
<circle cx="953.1" cy="334.3" r="10.8"/>
<circle cx="1013.8" cy="336.5" r="10.8"/>
<circle cx="1000.6" cy="358.6" r="10.8"/>
<circle cx="992.9" cy="372.9" r="10.8"/>
<circle cx="945.4" cy="420.4" r="10.8"/>
<circle cx="1007.2" cy="432.5" r="10.8"/>
<circle cx="945.4" cy="448.0" r="10.8"/>
<circle cx="1012.3" cy="450.2" r="10.8"/>
<circle cx="967.0" cy="459.0" r="10.8"/>
<circle cx="976.3" cy="483.3" r="10.8"/>
<circle cx="999.0" cy="485.5" r="10.8"/>
<circle cx="949.8" cy="493.3" r="10.8"/>
<circle cx="968.6" cy="503.2" r="10.8"/>
<circle cx="951.0" cy="506.5" r="10.8"/>
<circle cx="951.0" cy="513.1" r="10.8"/>
<circle cx="949.8" cy="522.0" r="10.8"/>
<circle cx="1001.7" cy="523.1" r="10.8"/>
<circle cx="1008.3" cy="525.3" r="10.8"/>
<circle cx="980.7" cy="537.4" r="10.8"/>
<circle cx="981.8" cy="541.8" r="10.8"/>
<circle cx="1006.1" cy="548.5" r="10.8"/>
<circle cx="953.1" cy="549.6" r="10.8"/>
<circle cx="956.4" cy="563.9" r="10.8"/>
<circle cx="979.6" cy="563.9" r="10.8"/>
<circle cx="986.2" cy="570.5" r="10.8"/>
<circle cx="958.6" cy="577.2" r="10.8"/>
<circle cx="1028.2" cy="573.9" r="10.8"/>
<circle cx="1022.7" cy="580.5" r="10.8"/>
<circle cx="975.0" cy="572.0" r="10.8"/>
<circle cx="993.0" cy="568.0" r="10.8"/>
<circle cx="940.0" cy="602.0" r="10.8"/>
<circle cx="958.0" cy="610.0" r="10.8"/>
<circle cx="1000.0" cy="605.0" r="10.8"/>
<circle cx="1020.0" cy="610.0" r="10.8"/>
<circle cx="945.0" cy="627.0" r="10.8"/>
<circle cx="965.0" cy="632.0" r="10.8"/>
<circle cx="1005.0" cy="625.0" r="10.8"/>
<circle cx="1025.0" cy="630.0" r="10.8"/>
<circle cx="1030.0" cy="640.0" r="10.8"/>
<circle cx="948.7" cy="804.4" r="10.8"/>
<circle cx="960.8" cy="824.3" r="10.8"/>
<circle cx="970.8" cy="817.7" r="10.8"/>
<circle cx="1008.3" cy="823.2" r="10.8"/>
<circle cx="1026.0" cy="818.8" r="10.8"/>
<circle cx="1029.3" cy="840.8" r="10.8"/>
<circle cx="976.3" cy="845.3" r="10.8"/>
<circle cx="953.1" cy="854.1" r="10.8"/>
<circle cx="1029.3" cy="859.6" r="10.8"/>
<circle cx="973.0" cy="860.7" r="10.8"/>
<circle cx="1001.7" cy="864.0" r="10.8"/>
<circle cx="957.5" cy="870.7" r="10.8"/>
<circle cx="995.0" cy="875.0" r="10.8"/>
<circle cx="970.8" cy="880.6" r="10.8"/>
<circle cx="950.9" cy="890.5" r="10.8"/>
<circle cx="968.6" cy="887.2" r="10.8"/>
<circle cx="1008.3" cy="890.5" r="10.8"/>
<circle cx="983.0" cy="896.0" r="10.8"/>
<circle cx="1017.2" cy="902.7" r="10.8"/>
<circle cx="1017.2" cy="908.2" r="10.8"/>
<circle cx="967.5" cy="916.0" r="10.8"/>
<circle cx="956.4" cy="920.3" r="10.8"/>
<circle cx="988.4" cy="925.9" r="10.8"/>
<circle cx="984.0" cy="939.1" r="10.8"/>
<circle cx="1005.0" cy="939.1" r="10.8"/>
<circle cx="996.8" cy="997.6" r="10.8"/>
<circle cx="956.4" cy="1014.2" r="10.8"/>
<circle cx="1009.7" cy="1083.5" r="10.8"/>
<circle cx="960.9" cy="1160.5" r="10.8"/>
</g>
<g fill="#4eb250" fill-opacity="0.50">
<circle cx="1253.1" cy="590.1" r="10.8"/>
<circle cx="1310.2" cy="596.4" r="10.8"/>
<circle cx="1238.7" cy="601.7" r="10.8"/>
<circle cx="1274.2" cy="605.3" r="10.8"/>
<circle cx="1256.9" cy="609.8" r="10.8"/>
<circle cx="1257.8" cy="612.4" r="10.8"/>
<circle cx="1310.3" cy="616.4" r="10.8"/>
<circle cx="1263.2" cy="619.2" r="10.8"/>
<circle cx="1285.3" cy="622.7" r="10.8"/>
<circle cx="1266.9" cy="624.4" r="10.8"/>
<circle cx="1248.8" cy="626.8" r="10.8"/>
<circle cx="1267.9" cy="628.8" r="10.8"/>
<circle cx="1260.9" cy="630.7" r="10.8"/>
<circle cx="1231.4" cy="632.2" r="10.8"/>
<circle cx="1310.7" cy="633.7" r="10.8"/>
<circle cx="1286.4" cy="634.5" r="10.8"/>
<circle cx="1269.1" cy="635.2" r="10.8"/>
<circle cx="1243.7" cy="636.6" r="10.8"/>
<circle cx="1288.0" cy="637.3" r="10.8"/>
<circle cx="1283.8" cy="638.1" r="10.8"/>
<circle cx="1281.1" cy="639.2" r="10.8"/>
<circle cx="1272.3" cy="639.3" r="10.8"/>
<circle cx="1275.8" cy="640.1" r="10.8"/>
<circle cx="1270.1" cy="641.6" r="10.8"/>
<circle cx="1240.5" cy="641.3" r="10.8"/>
<circle cx="1286.7" cy="642.5" r="10.8"/>
<circle cx="1281.4" cy="642.8" r="10.8"/>
<circle cx="1277.6" cy="643.2" r="10.8"/>
<circle cx="1266.6" cy="643.8" r="10.8"/>
<circle cx="1277.2" cy="643.8" r="10.8"/>
<circle cx="1259.9" cy="644.4" r="10.8"/>
<circle cx="1311.4" cy="644.8" r="10.8"/>
<circle cx="1284.5" cy="644.1" r="10.8"/>
<circle cx="1281.0" cy="644.0" r="10.8"/>
<circle cx="1308.4" cy="646.0" r="10.8"/>
<circle cx="1290.9" cy="645.3" r="10.8"/>
<circle cx="1300.9" cy="645.2" r="10.8"/>
<circle cx="1299.4" cy="646.5" r="10.8"/>
<circle cx="1230.3" cy="646.9" r="10.8"/>
<circle cx="1266.4" cy="646.8" r="10.8"/>
<circle cx="1287.5" cy="646.5" r="10.8"/>
<circle cx="1302.3" cy="647.2" r="10.8"/>
<circle cx="1305.4" cy="647.3" r="10.8"/>
<circle cx="1231.2" cy="647.3" r="10.8"/>
<circle cx="1234.6" cy="647.1" r="10.8"/>
<circle cx="1282.1" cy="647.1" r="10.8"/>
<circle cx="1242.6" cy="648.3" r="10.8"/>
<circle cx="1252.7" cy="648.9" r="10.8"/>
<circle cx="1306.0" cy="648.9" r="10.8"/>
<circle cx="1313.1" cy="648.4" r="10.8"/>
<circle cx="1296.6" cy="648.3" r="10.8"/>
<circle cx="1307.8" cy="649.8" r="10.8"/>
<circle cx="1291.2" cy="649.2" r="10.8"/>
<circle cx="1236.8" cy="649.9" r="10.8"/>
<circle cx="1275.9" cy="649.6" r="10.8"/>
<circle cx="1302.3" cy="649.1" r="10.8"/>
<circle cx="1288.4" cy="649.5" r="10.8"/>
<circle cx="1295.8" cy="650.5" r="10.8"/>
<circle cx="1245.7" cy="651.0" r="10.8"/>
<circle cx="1252.9" cy="650.7" r="10.8"/>
<circle cx="1299.7" cy="650.2" r="10.8"/>
<circle cx="1288.1" cy="650.4" r="10.8"/>
<circle cx="1248.0" cy="650.2" r="10.8"/>
<circle cx="1310.1" cy="651.4" r="10.8"/>
<circle cx="1272.3" cy="651.5" r="10.8"/>
<circle cx="1231.3" cy="651.8" r="10.8"/>
<circle cx="1292.3" cy="651.9" r="10.8"/>
<circle cx="1259.3" cy="651.2" r="10.8"/>
<circle cx="1258.5" cy="651.7" r="10.8"/>
<circle cx="1284.9" cy="652.4" r="10.8"/>
<circle cx="1273.6" cy="652.2" r="10.8"/>
<circle cx="1307.1" cy="652.5" r="10.8"/>
<circle cx="1272.1" cy="652.8" r="10.8"/>
<circle cx="1245.8" cy="652.7" r="10.8"/>
<circle cx="1259.0" cy="652.8" r="10.8"/>
<circle cx="1237.0" cy="653.3" r="10.8"/>
<circle cx="1283.0" cy="653.5" r="10.8"/>
<circle cx="1261.0" cy="653.6" r="10.8"/>
<circle cx="1247.5" cy="653.4" r="10.8"/>
<circle cx="1229.2" cy="653.8" r="10.8"/>
<circle cx="1250.6" cy="653.8" r="10.8"/>
<circle cx="1275.9" cy="654.6" r="10.8"/>
<circle cx="1282.2" cy="654.1" r="10.8"/>
<circle cx="1295.1" cy="654.3" r="10.8"/>
<circle cx="1302.3" cy="654.8" r="10.8"/>
<circle cx="1286.6" cy="654.8" r="10.8"/>
<circle cx="1266.1" cy="654.7" r="10.8"/>
<circle cx="1310.0" cy="655.2" r="10.8"/>
<circle cx="1237.6" cy="655.4" r="10.8"/>
<circle cx="1272.3" cy="655.1" r="10.8"/>
<circle cx="1247.8" cy="655.9" r="10.8"/>
<circle cx="1262.0" cy="655.1" r="10.8"/>
<circle cx="1244.6" cy="655.6" r="10.8"/>
<circle cx="1245.1" cy="656.5" r="10.8"/>
<circle cx="1274.7" cy="656.4" r="10.8"/>
<circle cx="1271.8" cy="656.8" r="10.8"/>
<circle cx="1230.4" cy="656.9" r="10.8"/>
<circle cx="1245.9" cy="656.0" r="10.8"/>
<circle cx="1294.2" cy="656.6" r="10.8"/>
<circle cx="1274.7" cy="657.2" r="10.8"/>
<circle cx="1295.4" cy="657.3" r="10.8"/>
<circle cx="1290.8" cy="657.2" r="10.8"/>
<circle cx="1277.7" cy="657.6" r="10.8"/>
<circle cx="1260.6" cy="657.5" r="10.8"/>
<circle cx="1234.5" cy="657.6" r="10.8"/>
<circle cx="1287.8" cy="658.2" r="10.8"/>
<circle cx="1275.8" cy="658.7" r="10.8"/>
<circle cx="1237.6" cy="658.8" r="10.8"/>
<circle cx="1303.0" cy="658.1" r="10.8"/>
<circle cx="1250.1" cy="658.1" r="10.8"/>
<circle cx="1250.5" cy="658.1" r="10.8"/>
<circle cx="1270.6" cy="659.3" r="10.8"/>
<circle cx="1254.5" cy="659.5" r="10.8"/>
<circle cx="1260.6" cy="659.8" r="10.8"/>
<circle cx="1290.4" cy="659.1" r="10.8"/>
<circle cx="1248.0" cy="659.0" r="10.8"/>
<circle cx="1257.0" cy="659.1" r="10.8"/>
<circle cx="1288.3" cy="660.8" r="10.8"/>
<circle cx="1313.6" cy="660.2" r="10.8"/>
<circle cx="1232.1" cy="660.8" r="10.8"/>
<circle cx="1264.0" cy="660.9" r="10.8"/>
<circle cx="1262.4" cy="660.3" r="10.8"/>
<circle cx="1235.2" cy="660.9" r="10.8"/>
<circle cx="1272.5" cy="661.4" r="10.8"/>
<circle cx="1266.2" cy="661.8" r="10.8"/>
<circle cx="1299.6" cy="661.5" r="10.8"/>
<circle cx="1244.1" cy="661.4" r="10.8"/>
<circle cx="1304.8" cy="661.4" r="10.8"/>
<circle cx="1285.2" cy="661.6" r="10.8"/>
<circle cx="1268.2" cy="662.6" r="10.8"/>
<circle cx="1249.8" cy="662.6" r="10.8"/>
<circle cx="1302.5" cy="662.1" r="10.8"/>
<circle cx="1260.4" cy="662.9" r="10.8"/>
<circle cx="1312.2" cy="662.0" r="10.8"/>
<circle cx="1282.3" cy="662.6" r="10.8"/>
<circle cx="1300.7" cy="663.5" r="10.8"/>
<circle cx="1240.1" cy="663.3" r="10.8"/>
<circle cx="1289.6" cy="663.7" r="10.8"/>
<circle cx="1246.4" cy="663.6" r="10.8"/>
<circle cx="1284.8" cy="663.7" r="10.8"/>
<circle cx="1230.9" cy="663.4" r="10.8"/>
<circle cx="1256.6" cy="664.6" r="10.8"/>
<circle cx="1257.6" cy="664.1" r="10.8"/>
<circle cx="1286.0" cy="664.3" r="10.8"/>
<circle cx="1296.2" cy="664.3" r="10.8"/>
<circle cx="1275.4" cy="664.8" r="10.8"/>
<circle cx="1238.8" cy="664.7" r="10.8"/>
<circle cx="1234.8" cy="665.9" r="10.8"/>
<circle cx="1231.1" cy="665.7" r="10.8"/>
<circle cx="1260.3" cy="665.2" r="10.8"/>
<circle cx="1262.6" cy="665.5" r="10.8"/>
<circle cx="1264.3" cy="665.1" r="10.8"/>
<circle cx="1273.4" cy="665.3" r="10.8"/>
<circle cx="1311.2" cy="666.4" r="10.8"/>
<circle cx="1266.0" cy="666.2" r="10.8"/>
<circle cx="1311.3" cy="666.3" r="10.8"/>
<circle cx="1283.9" cy="666.8" r="10.8"/>
<circle cx="1262.4" cy="666.8" r="10.8"/>
<circle cx="1252.7" cy="666.1" r="10.8"/>
<circle cx="1232.6" cy="667.4" r="10.8"/>
<circle cx="1303.3" cy="667.2" r="10.8"/>
<circle cx="1266.4" cy="667.8" r="10.8"/>
<circle cx="1252.5" cy="667.2" r="10.8"/>
<circle cx="1273.1" cy="667.4" r="10.8"/>
<circle cx="1308.8" cy="667.9" r="10.8"/>
<circle cx="1249.2" cy="668.6" r="10.8"/>
<circle cx="1264.4" cy="668.0" r="10.8"/>
<circle cx="1266.8" cy="668.9" r="10.8"/>
<circle cx="1254.7" cy="668.6" r="10.8"/>
<circle cx="1289.4" cy="668.1" r="10.8"/>
<circle cx="1307.6" cy="668.1" r="10.8"/>
<circle cx="1254.6" cy="669.7" r="10.8"/>
<circle cx="1230.6" cy="669.4" r="10.8"/>
<circle cx="1239.8" cy="669.5" r="10.8"/>
<circle cx="1230.3" cy="669.2" r="10.8"/>
<circle cx="1247.9" cy="669.1" r="10.8"/>
<circle cx="1236.7" cy="669.2" r="10.8"/>
<circle cx="1273.0" cy="670.1" r="10.8"/>
<circle cx="1298.8" cy="670.4" r="10.8"/>
<circle cx="1250.4" cy="670.2" r="10.8"/>
<circle cx="1300.4" cy="670.0" r="10.8"/>
<circle cx="1292.1" cy="670.1" r="10.8"/>
<circle cx="1309.3" cy="670.4" r="10.8"/>
<circle cx="1279.8" cy="671.9" r="10.8"/>
<circle cx="1237.5" cy="671.1" r="10.8"/>
<circle cx="1288.0" cy="671.6" r="10.8"/>
<circle cx="1290.3" cy="671.3" r="10.8"/>
<circle cx="1271.2" cy="671.2" r="10.8"/>
<circle cx="1266.2" cy="671.3" r="10.8"/>
<circle cx="1278.8" cy="672.3" r="10.8"/>
<circle cx="1252.4" cy="672.6" r="10.8"/>
<circle cx="1236.3" cy="672.8" r="10.8"/>
<circle cx="1271.1" cy="672.2" r="10.8"/>
<circle cx="1238.8" cy="672.5" r="10.8"/>
<circle cx="1271.8" cy="672.7" r="10.8"/>
<circle cx="1260.8" cy="673.4" r="10.8"/>
<circle cx="1304.9" cy="673.3" r="10.8"/>
<circle cx="1312.4" cy="673.9" r="10.8"/>
<circle cx="1313.2" cy="673.9" r="10.8"/>
<circle cx="1250.9" cy="673.8" r="10.8"/>
<circle cx="1281.0" cy="673.2" r="10.8"/>
<circle cx="1313.8" cy="674.6" r="10.8"/>
<circle cx="1297.8" cy="674.6" r="10.8"/>
<circle cx="1235.8" cy="674.9" r="10.8"/>
<circle cx="1243.9" cy="674.3" r="10.8"/>
<circle cx="1281.4" cy="674.2" r="10.8"/>
<circle cx="1268.3" cy="674.7" r="10.8"/>
<circle cx="1237.2" cy="675.7" r="10.8"/>
<circle cx="1237.9" cy="675.5" r="10.8"/>
<circle cx="1284.2" cy="675.7" r="10.8"/>
<circle cx="1232.7" cy="675.2" r="10.8"/>
<circle cx="1310.6" cy="675.4" r="10.8"/>
<circle cx="1265.1" cy="675.4" r="10.8"/>
<circle cx="1288.2" cy="676.7" r="10.8"/>
<circle cx="1284.3" cy="676.4" r="10.8"/>
<circle cx="1277.4" cy="676.5" r="10.8"/>
<circle cx="1245.0" cy="676.9" r="10.8"/>
<circle cx="1311.0" cy="676.8" r="10.8"/>
<circle cx="1313.4" cy="676.5" r="10.8"/>
<circle cx="1300.3" cy="677.2" r="10.8"/>
<circle cx="1292.1" cy="677.7" r="10.8"/>
<circle cx="1308.8" cy="677.8" r="10.8"/>
<circle cx="1303.7" cy="677.3" r="10.8"/>
<circle cx="1295.9" cy="677.5" r="10.8"/>
<circle cx="1255.6" cy="677.4" r="10.8"/>
<circle cx="1296.9" cy="678.8" r="10.8"/>
<circle cx="1300.8" cy="678.7" r="10.8"/>
<circle cx="1243.5" cy="678.2" r="10.8"/>
<circle cx="1277.3" cy="678.2" r="10.8"/>
<circle cx="1257.6" cy="678.1" r="10.8"/>
<circle cx="1242.2" cy="678.7" r="10.8"/>
<circle cx="1248.0" cy="679.8" r="10.8"/>
<circle cx="1257.0" cy="679.8" r="10.8"/>
<circle cx="1254.7" cy="679.3" r="10.8"/>
<circle cx="1262.6" cy="679.0" r="10.8"/>
<circle cx="1266.0" cy="679.4" r="10.8"/>
<circle cx="1230.1" cy="679.9" r="10.8"/>
<circle cx="1260.9" cy="680.0" r="10.8"/>
<circle cx="1310.6" cy="680.2" r="10.8"/>
<circle cx="1250.5" cy="680.0" r="10.8"/>
<circle cx="1237.5" cy="680.7" r="10.8"/>
<circle cx="1278.5" cy="680.5" r="10.8"/>
<circle cx="1249.9" cy="680.3" r="10.8"/>
<circle cx="1311.5" cy="681.4" r="10.8"/>
<circle cx="1313.1" cy="681.9" r="10.8"/>
<circle cx="1239.6" cy="681.8" r="10.8"/>
<circle cx="1230.8" cy="681.7" r="10.8"/>
<circle cx="1297.8" cy="681.7" r="10.8"/>
<circle cx="1275.7" cy="681.8" r="10.8"/>
<circle cx="1242.1" cy="682.5" r="10.8"/>
<circle cx="1251.6" cy="682.4" r="10.8"/>
<circle cx="1245.3" cy="682.7" r="10.8"/>
<circle cx="1277.7" cy="682.8" r="10.8"/>
<circle cx="1282.4" cy="682.6" r="10.8"/>
<circle cx="1307.4" cy="682.8" r="10.8"/>
<circle cx="1277.2" cy="683.3" r="10.8"/>
<circle cx="1307.9" cy="683.4" r="10.8"/>
<circle cx="1237.7" cy="683.3" r="10.8"/>
<circle cx="1289.0" cy="683.9" r="10.8"/>
<circle cx="1283.9" cy="683.7" r="10.8"/>
<circle cx="1308.7" cy="683.8" r="10.8"/>
<circle cx="1266.9" cy="684.5" r="10.8"/>
<circle cx="1293.6" cy="684.3" r="10.8"/>
<circle cx="1238.3" cy="684.6" r="10.8"/>
<circle cx="1297.8" cy="684.2" r="10.8"/>
<circle cx="1287.1" cy="684.9" r="10.8"/>
<circle cx="1239.9" cy="684.1" r="10.8"/>
<circle cx="1270.9" cy="685.3" r="10.8"/>
<circle cx="1309.7" cy="686.0" r="10.8"/>
<circle cx="1266.9" cy="685.8" r="10.8"/>
<circle cx="1282.7" cy="685.2" r="10.8"/>
<circle cx="1311.6" cy="685.2" r="10.8"/>
<circle cx="1235.5" cy="685.5" r="10.8"/>
<circle cx="1230.5" cy="686.5" r="10.8"/>
<circle cx="1264.0" cy="687.0" r="10.8"/>
<circle cx="1264.2" cy="686.8" r="10.8"/>
<circle cx="1295.3" cy="686.6" r="10.8"/>
<circle cx="1249.2" cy="686.3" r="10.8"/>
<circle cx="1270.8" cy="686.4" r="10.8"/>
<circle cx="1283.9" cy="687.5" r="10.8"/>
<circle cx="1256.5" cy="687.6" r="10.8"/>
<circle cx="1313.7" cy="687.2" r="10.8"/>
<circle cx="1257.5" cy="687.0" r="10.8"/>
<circle cx="1237.0" cy="687.1" r="10.8"/>
<circle cx="1264.9" cy="687.8" r="10.8"/>
<circle cx="1288.3" cy="689.0" r="10.8"/>
<circle cx="1300.1" cy="688.6" r="10.8"/>
<circle cx="1278.3" cy="688.0" r="10.8"/>
<circle cx="1261.6" cy="688.3" r="10.8"/>
<circle cx="1281.8" cy="688.1" r="10.8"/>
<circle cx="1275.1" cy="688.4" r="10.8"/>
<circle cx="1270.8" cy="689.4" r="10.8"/>
<circle cx="1237.7" cy="689.7" r="10.8"/>
<circle cx="1297.0" cy="689.6" r="10.8"/>
<circle cx="1238.8" cy="689.6" r="10.8"/>
<circle cx="1303.0" cy="690.0" r="10.8"/>
<circle cx="1293.5" cy="689.0" r="10.8"/>
<circle cx="1303.7" cy="690.7" r="10.8"/>
<circle cx="1252.5" cy="690.9" r="10.8"/>
<circle cx="1299.2" cy="690.9" r="10.8"/>
<circle cx="1250.0" cy="690.6" r="10.8"/>
<circle cx="1261.2" cy="690.3" r="10.8"/>
<circle cx="1293.7" cy="690.6" r="10.8"/>
<circle cx="1257.2" cy="691.5" r="10.8"/>
<circle cx="1307.9" cy="691.6" r="10.8"/>
<circle cx="1306.6" cy="691.6" r="10.8"/>
<circle cx="1313.3" cy="691.0" r="10.8"/>
<circle cx="1268.1" cy="691.6" r="10.8"/>
<circle cx="1290.8" cy="692.0" r="10.8"/>
<circle cx="1282.0" cy="692.5" r="10.8"/>
<circle cx="1282.9" cy="692.5" r="10.8"/>
<circle cx="1288.9" cy="692.9" r="10.8"/>
<circle cx="1230.2" cy="692.3" r="10.8"/>
<circle cx="1303.5" cy="692.1" r="10.8"/>
<circle cx="1296.2" cy="692.0" r="10.8"/>
<circle cx="1284.1" cy="693.8" r="10.8"/>
<circle cx="1249.2" cy="693.4" r="10.8"/>
<circle cx="1248.2" cy="693.7" r="10.8"/>
<circle cx="1273.9" cy="693.6" r="10.8"/>
<circle cx="1256.7" cy="693.6" r="10.8"/>
<circle cx="1310.1" cy="693.8" r="10.8"/>
<circle cx="1309.9" cy="694.2" r="10.8"/>
<circle cx="1272.9" cy="694.4" r="10.8"/>
<circle cx="1258.4" cy="694.8" r="10.8"/>
<circle cx="1243.9" cy="694.6" r="10.8"/>
<circle cx="1294.8" cy="694.9" r="10.8"/>
<circle cx="1230.6" cy="694.3" r="10.8"/>
<circle cx="1270.9" cy="695.9" r="10.8"/>
<circle cx="1242.9" cy="695.8" r="10.8"/>
<circle cx="1262.8" cy="695.5" r="10.8"/>
<circle cx="1307.9" cy="695.1" r="10.8"/>
<circle cx="1257.0" cy="695.2" r="10.8"/>
<circle cx="1240.4" cy="695.3" r="10.8"/>
<circle cx="1288.6" cy="696.6" r="10.8"/>
<circle cx="1239.4" cy="696.8" r="10.8"/>
<circle cx="1272.1" cy="696.1" r="10.8"/>
<circle cx="1298.7" cy="696.8" r="10.8"/>
<circle cx="1247.4" cy="696.9" r="10.8"/>
<circle cx="1297.9" cy="696.2" r="10.8"/>
<circle cx="1229.1" cy="697.9" r="10.8"/>
<circle cx="1299.2" cy="697.1" r="10.8"/>
<circle cx="1294.1" cy="697.8" r="10.8"/>
<circle cx="1282.9" cy="697.8" r="10.8"/>
<circle cx="1312.7" cy="697.3" r="10.8"/>
<circle cx="1299.9" cy="697.9" r="10.8"/>
<circle cx="1255.7" cy="698.7" r="10.8"/>
<circle cx="1287.2" cy="698.8" r="10.8"/>
<circle cx="1277.2" cy="698.3" r="10.8"/>
<circle cx="1250.4" cy="698.5" r="10.8"/>
<circle cx="1240.5" cy="698.9" r="10.8"/>
<circle cx="1304.6" cy="698.2" r="10.8"/>
<circle cx="1288.3" cy="699.7" r="10.8"/>
<circle cx="1239.4" cy="699.8" r="10.8"/>
<circle cx="1294.1" cy="699.3" r="10.8"/>
<circle cx="1237.3" cy="699.3" r="10.8"/>
<circle cx="1294.6" cy="699.5" r="10.8"/>
<circle cx="1298.3" cy="699.2" r="10.8"/>
<circle cx="1238.1" cy="700.3" r="10.8"/>
<circle cx="1303.8" cy="700.2" r="10.8"/>
<circle cx="1235.2" cy="700.8" r="10.8"/>
<circle cx="1236.8" cy="700.7" r="10.8"/>
<circle cx="1236.1" cy="700.2" r="10.8"/>
<circle cx="1285.4" cy="700.9" r="10.8"/>
<circle cx="1263.8" cy="701.4" r="10.8"/>
<circle cx="1231.6" cy="701.3" r="10.8"/>
<circle cx="1249.6" cy="701.8" r="10.8"/>
<circle cx="1289.7" cy="701.8" r="10.8"/>
<circle cx="1274.2" cy="701.7" r="10.8"/>
<circle cx="1239.8" cy="701.4" r="10.8"/>
<circle cx="1253.9" cy="702.3" r="10.8"/>
<circle cx="1291.8" cy="702.2" r="10.8"/>
<circle cx="1256.7" cy="702.3" r="10.8"/>
<circle cx="1302.4" cy="702.6" r="10.8"/>
<circle cx="1269.9" cy="702.4" r="10.8"/>
<circle cx="1307.3" cy="702.9" r="10.8"/>
<circle cx="1267.2" cy="703.6" r="10.8"/>
<circle cx="1302.3" cy="703.3" r="10.8"/>
<circle cx="1251.0" cy="703.1" r="10.8"/>
<circle cx="1271.7" cy="703.8" r="10.8"/>
<circle cx="1242.3" cy="703.4" r="10.8"/>
<circle cx="1313.2" cy="703.5" r="10.8"/>
<circle cx="1261.5" cy="704.8" r="10.8"/>
<circle cx="1304.8" cy="704.4" r="10.8"/>
<circle cx="1239.5" cy="704.6" r="10.8"/>
<circle cx="1291.9" cy="704.9" r="10.8"/>
<circle cx="1285.1" cy="704.3" r="10.8"/>
<circle cx="1272.8" cy="704.3" r="10.8"/>
<circle cx="1266.9" cy="705.5" r="10.8"/>
<circle cx="1306.5" cy="705.9" r="10.8"/>
<circle cx="1307.7" cy="705.5" r="10.8"/>
<circle cx="1311.0" cy="705.1" r="10.8"/>
<circle cx="1307.3" cy="705.6" r="10.8"/>
<circle cx="1303.2" cy="705.4" r="10.8"/>
<circle cx="1313.2" cy="706.0" r="10.8"/>
<circle cx="1301.1" cy="706.8" r="10.8"/>
<circle cx="1260.8" cy="706.8" r="10.8"/>
<circle cx="1247.2" cy="706.8" r="10.8"/>
<circle cx="1268.8" cy="706.4" r="10.8"/>
<circle cx="1245.7" cy="706.8" r="10.8"/>
<circle cx="1291.1" cy="707.1" r="10.8"/>
<circle cx="1312.1" cy="707.2" r="10.8"/>
<circle cx="1260.9" cy="707.4" r="10.8"/>
<circle cx="1278.0" cy="707.9" r="10.8"/>
<circle cx="1309.3" cy="707.6" r="10.8"/>
<circle cx="1260.1" cy="707.1" r="10.8"/>
<circle cx="1234.8" cy="708.5" r="10.8"/>
<circle cx="1278.6" cy="708.4" r="10.8"/>
<circle cx="1312.5" cy="708.4" r="10.8"/>
<circle cx="1258.8" cy="708.4" r="10.8"/>
<circle cx="1243.6" cy="708.9" r="10.8"/>
<circle cx="1279.2" cy="708.5" r="10.8"/>
<circle cx="1265.2" cy="709.3" r="10.8"/>
<circle cx="1255.8" cy="709.5" r="10.8"/>
<circle cx="1266.9" cy="710.0" r="10.8"/>
<circle cx="1276.9" cy="709.2" r="10.8"/>
<circle cx="1233.6" cy="709.2" r="10.8"/>
<circle cx="1258.4" cy="709.8" r="10.8"/>
<circle cx="1304.6" cy="710.2" r="10.8"/>
<circle cx="1295.3" cy="710.4" r="10.8"/>
<circle cx="1274.7" cy="710.5" r="10.8"/>
<circle cx="1232.6" cy="710.1" r="10.8"/>
<circle cx="1285.7" cy="710.7" r="10.8"/>
<circle cx="1261.3" cy="710.9" r="10.8"/>
<circle cx="1298.7" cy="711.3" r="10.8"/>
<circle cx="1234.7" cy="711.6" r="10.8"/>
<circle cx="1284.6" cy="711.2" r="10.8"/>
<circle cx="1232.7" cy="711.5" r="10.8"/>
<circle cx="1231.9" cy="711.7" r="10.8"/>
<circle cx="1282.2" cy="711.3" r="10.8"/>
<circle cx="1266.9" cy="712.2" r="10.8"/>
<circle cx="1244.8" cy="712.2" r="10.8"/>
<circle cx="1298.3" cy="712.5" r="10.8"/>
<circle cx="1289.8" cy="712.3" r="10.8"/>
<circle cx="1297.6" cy="712.6" r="10.8"/>
<circle cx="1284.6" cy="712.4" r="10.8"/>
<circle cx="1276.8" cy="713.2" r="10.8"/>
<circle cx="1311.8" cy="713.7" r="10.8"/>
<circle cx="1274.3" cy="713.6" r="10.8"/>
<circle cx="1237.5" cy="713.3" r="10.8"/>
<circle cx="1248.6" cy="713.8" r="10.8"/>
<circle cx="1230.1" cy="713.4" r="10.8"/>
<circle cx="1302.8" cy="714.8" r="10.8"/>
<circle cx="1290.1" cy="714.3" r="10.8"/>
<circle cx="1248.7" cy="714.7" r="10.8"/>
<circle cx="1254.4" cy="714.7" r="10.8"/>
<circle cx="1258.7" cy="714.8" r="10.8"/>
<circle cx="1277.7" cy="714.8" r="10.8"/>
<circle cx="1312.8" cy="715.4" r="10.8"/>
<circle cx="1312.9" cy="715.0" r="10.8"/>
<circle cx="1303.6" cy="715.0" r="10.8"/>
<circle cx="1275.3" cy="715.4" r="10.8"/>
<circle cx="1294.4" cy="715.3" r="10.8"/>
<circle cx="1246.7" cy="715.8" r="10.8"/>
<circle cx="1275.8" cy="716.8" r="10.8"/>
<circle cx="1270.6" cy="716.0" r="10.8"/>
<circle cx="1294.6" cy="716.2" r="10.8"/>
<circle cx="1269.1" cy="716.0" r="10.8"/>
<circle cx="1251.0" cy="716.7" r="10.8"/>
<circle cx="1294.0" cy="716.6" r="10.8"/>
<circle cx="1266.7" cy="717.7" r="10.8"/>
<circle cx="1285.9" cy="717.2" r="10.8"/>
<circle cx="1274.5" cy="717.6" r="10.8"/>
<circle cx="1290.9" cy="717.2" r="10.8"/>
<circle cx="1255.4" cy="717.3" r="10.8"/>
<circle cx="1237.2" cy="717.3" r="10.8"/>
<circle cx="1291.0" cy="718.6" r="10.8"/>
<circle cx="1243.7" cy="718.7" r="10.8"/>
<circle cx="1238.9" cy="718.8" r="10.8"/>
<circle cx="1241.6" cy="718.1" r="10.8"/>
<circle cx="1250.4" cy="718.5" r="10.8"/>
<circle cx="1252.0" cy="718.9" r="10.8"/>
<circle cx="1308.8" cy="719.3" r="10.8"/>
<circle cx="1292.7" cy="719.7" r="10.8"/>
<circle cx="1276.7" cy="719.3" r="10.8"/>
<circle cx="1309.7" cy="720.0" r="10.8"/>
<circle cx="1230.1" cy="719.3" r="10.8"/>
<circle cx="1256.3" cy="719.2" r="10.8"/>
<circle cx="1265.6" cy="720.9" r="10.8"/>
<circle cx="1231.0" cy="720.8" r="10.8"/>
<circle cx="1255.3" cy="720.0" r="10.8"/>
<circle cx="1305.5" cy="720.3" r="10.8"/>
<circle cx="1247.0" cy="720.1" r="10.8"/>
<circle cx="1260.2" cy="720.1" r="10.8"/>
<circle cx="1244.3" cy="721.3" r="10.8"/>
<circle cx="1278.2" cy="721.4" r="10.8"/>
<circle cx="1254.9" cy="721.5" r="10.8"/>
<circle cx="1294.8" cy="721.7" r="10.8"/>
<circle cx="1258.2" cy="721.9" r="10.8"/>
<circle cx="1296.3" cy="721.6" r="10.8"/>
<circle cx="1269.4" cy="722.3" r="10.8"/>
<circle cx="1240.4" cy="722.9" r="10.8"/>
<circle cx="1280.7" cy="722.1" r="10.8"/>
<circle cx="1307.7" cy="722.9" r="10.8"/>
<circle cx="1231.9" cy="722.7" r="10.8"/>
<circle cx="1249.2" cy="722.5" r="10.8"/>
<circle cx="1299.9" cy="723.4" r="10.8"/>
<circle cx="1271.4" cy="723.7" r="10.8"/>
<circle cx="1245.3" cy="723.6" r="10.8"/>
<circle cx="1265.1" cy="724.0" r="10.8"/>
<circle cx="1245.0" cy="723.7" r="10.8"/>
<circle cx="1232.5" cy="723.3" r="10.8"/>
<circle cx="1239.0" cy="724.1" r="10.8"/>
<circle cx="1273.9" cy="724.2" r="10.8"/>
<circle cx="1296.6" cy="724.1" r="10.8"/>
<circle cx="1282.0" cy="724.9" r="10.8"/>
<circle cx="1239.8" cy="724.2" r="10.8"/>
<circle cx="1294.0" cy="724.5" r="10.8"/>
<circle cx="1308.2" cy="725.3" r="10.8"/>
<circle cx="1262.8" cy="726.0" r="10.8"/>
<circle cx="1258.2" cy="726.0" r="10.8"/>
<circle cx="1304.7" cy="725.2" r="10.8"/>
<circle cx="1275.4" cy="725.9" r="10.8"/>
<circle cx="1239.0" cy="725.8" r="10.8"/>
<circle cx="1294.8" cy="726.7" r="10.8"/>
<circle cx="1280.1" cy="726.1" r="10.8"/>
<circle cx="1310.5" cy="726.1" r="10.8"/>
<circle cx="1295.6" cy="726.7" r="10.8"/>
<circle cx="1256.0" cy="726.7" r="10.8"/>
<circle cx="1263.9" cy="726.8" r="10.8"/>
<circle cx="1232.7" cy="727.9" r="10.8"/>
<circle cx="1261.7" cy="727.8" r="10.8"/>
<circle cx="1269.1" cy="727.8" r="10.8"/>
<circle cx="1254.6" cy="727.5" r="10.8"/>
<circle cx="1231.1" cy="727.5" r="10.8"/>
<circle cx="1235.7" cy="727.9" r="10.8"/>
<circle cx="1286.6" cy="728.4" r="10.8"/>
<circle cx="1311.8" cy="728.9" r="10.8"/>
<circle cx="1310.3" cy="728.1" r="10.8"/>
<circle cx="1288.8" cy="728.7" r="10.8"/>
<circle cx="1280.5" cy="728.0" r="10.8"/>
<circle cx="1307.5" cy="728.4" r="10.8"/>
<circle cx="1279.6" cy="729.8" r="10.8"/>
<circle cx="1252.4" cy="729.0" r="10.8"/>
<circle cx="1307.5" cy="729.3" r="10.8"/>
<circle cx="1232.5" cy="729.1" r="10.8"/>
<circle cx="1313.6" cy="729.7" r="10.8"/>
<circle cx="1246.8" cy="729.1" r="10.8"/>
<circle cx="1305.3" cy="730.7" r="10.8"/>
<circle cx="1278.6" cy="730.1" r="10.8"/>
<circle cx="1264.1" cy="730.9" r="10.8"/>
<circle cx="1229.3" cy="730.4" r="10.8"/>
<circle cx="1233.8" cy="731.0" r="10.8"/>
<circle cx="1237.9" cy="731.0" r="10.8"/>
<circle cx="1300.5" cy="731.7" r="10.8"/>
<circle cx="1232.6" cy="731.7" r="10.8"/>
<circle cx="1270.9" cy="731.5" r="10.8"/>
<circle cx="1241.3" cy="731.5" r="10.8"/>
<circle cx="1297.2" cy="731.1" r="10.8"/>
<circle cx="1303.5" cy="731.4" r="10.8"/>
<circle cx="1251.6" cy="732.2" r="10.8"/>
<circle cx="1268.1" cy="732.6" r="10.8"/>
<circle cx="1277.4" cy="732.9" r="10.8"/>
<circle cx="1272.5" cy="732.5" r="10.8"/>
<circle cx="1313.1" cy="732.2" r="10.8"/>
<circle cx="1230.4" cy="732.3" r="10.8"/>
<circle cx="1255.6" cy="733.1" r="10.8"/>
<circle cx="1264.5" cy="733.0" r="10.8"/>
<circle cx="1307.3" cy="733.5" r="10.8"/>
<circle cx="1303.7" cy="733.7" r="10.8"/>
<circle cx="1291.0" cy="733.8" r="10.8"/>
<circle cx="1254.6" cy="733.7" r="10.8"/>
<circle cx="1246.5" cy="734.6" r="10.8"/>
<circle cx="1279.6" cy="734.8" r="10.8"/>
<circle cx="1243.3" cy="734.3" r="10.8"/>
<circle cx="1299.1" cy="734.8" r="10.8"/>
<circle cx="1312.1" cy="734.1" r="10.8"/>
<circle cx="1246.9" cy="734.1" r="10.8"/>
<circle cx="1290.5" cy="735.7" r="10.8"/>
<circle cx="1284.1" cy="735.8" r="10.8"/>
<circle cx="1272.9" cy="735.6" r="10.8"/>
<circle cx="1307.3" cy="735.6" r="10.8"/>
<circle cx="1284.8" cy="735.6" r="10.8"/>
<circle cx="1271.0" cy="735.8" r="10.8"/>
<circle cx="1277.7" cy="736.1" r="10.8"/>
<circle cx="1265.2" cy="736.4" r="10.8"/>
<circle cx="1265.7" cy="736.6" r="10.8"/>
<circle cx="1259.7" cy="736.4" r="10.8"/>
<circle cx="1265.3" cy="736.4" r="10.8"/>
<circle cx="1311.6" cy="736.1" r="10.8"/>
<circle cx="1230.4" cy="737.7" r="10.8"/>
<circle cx="1262.6" cy="737.4" r="10.8"/>
<circle cx="1279.3" cy="737.4" r="10.8"/>
<circle cx="1249.3" cy="737.0" r="10.8"/>
<circle cx="1303.3" cy="737.9" r="10.8"/>
<circle cx="1253.3" cy="737.5" r="10.8"/>
<circle cx="1256.5" cy="738.1" r="10.8"/>
<circle cx="1304.9" cy="738.8" r="10.8"/>
<circle cx="1249.5" cy="738.3" r="10.8"/>
<circle cx="1288.3" cy="738.8" r="10.8"/>
<circle cx="1268.9" cy="738.4" r="10.8"/>
<circle cx="1248.8" cy="738.8" r="10.8"/>
<circle cx="1302.4" cy="739.9" r="10.8"/>
<circle cx="1238.7" cy="739.6" r="10.8"/>
<circle cx="1312.7" cy="739.7" r="10.8"/>
<circle cx="1268.0" cy="739.1" r="10.8"/>
<circle cx="1234.1" cy="739.7" r="10.8"/>
<circle cx="1234.8" cy="739.8" r="10.8"/>
<circle cx="1285.6" cy="740.5" r="10.8"/>
<circle cx="1304.8" cy="740.9" r="10.8"/>
<circle cx="1281.4" cy="740.1" r="10.8"/>
<circle cx="1279.0" cy="740.4" r="10.8"/>
<circle cx="1250.2" cy="740.9" r="10.8"/>
<circle cx="1291.1" cy="740.1" r="10.8"/>
<circle cx="1248.5" cy="741.3" r="10.8"/>
<circle cx="1277.7" cy="741.3" r="10.8"/>
<circle cx="1266.4" cy="741.8" r="10.8"/>
<circle cx="1244.5" cy="741.7" r="10.8"/>
<circle cx="1257.1" cy="741.9" r="10.8"/>
<circle cx="1309.9" cy="741.3" r="10.8"/>
<circle cx="1280.5" cy="742.1" r="10.8"/>
<circle cx="1263.9" cy="742.6" r="10.8"/>
<circle cx="1283.2" cy="742.3" r="10.8"/>
<circle cx="1231.9" cy="742.1" r="10.8"/>
<circle cx="1276.6" cy="742.2" r="10.8"/>
<circle cx="1255.0" cy="742.6" r="10.8"/>
<circle cx="1305.6" cy="743.5" r="10.8"/>
<circle cx="1250.6" cy="743.6" r="10.8"/>
<circle cx="1252.4" cy="743.8" r="10.8"/>
<circle cx="1242.3" cy="743.3" r="10.8"/>
<circle cx="1266.3" cy="743.9" r="10.8"/>
<circle cx="1243.1" cy="743.2" r="10.8"/>
<circle cx="1240.2" cy="744.2" r="10.8"/>
<circle cx="1257.2" cy="744.4" r="10.8"/>
<circle cx="1293.6" cy="744.4" r="10.8"/>
<circle cx="1269.4" cy="744.4" r="10.8"/>
<circle cx="1294.8" cy="744.9" r="10.8"/>
<circle cx="1265.2" cy="744.9" r="10.8"/>
<circle cx="1250.3" cy="746.0" r="10.8"/>
<circle cx="1273.7" cy="745.7" r="10.8"/>
<circle cx="1261.4" cy="745.3" r="10.8"/>
<circle cx="1240.5" cy="745.9" r="10.8"/>
<circle cx="1259.6" cy="745.7" r="10.8"/>
<circle cx="1268.2" cy="745.5" r="10.8"/>
<circle cx="1246.6" cy="746.2" r="10.8"/>
<circle cx="1257.6" cy="746.7" r="10.8"/>
<circle cx="1275.2" cy="746.0" r="10.8"/>
<circle cx="1289.4" cy="746.4" r="10.8"/>
<circle cx="1234.9" cy="746.3" r="10.8"/>
<circle cx="1247.0" cy="746.8" r="10.8"/>
<circle cx="1275.8" cy="747.3" r="10.8"/>
<circle cx="1250.1" cy="747.3" r="10.8"/>
<circle cx="1252.8" cy="747.3" r="10.8"/>
<circle cx="1296.2" cy="747.8" r="10.8"/>
<circle cx="1288.3" cy="747.9" r="10.8"/>
<circle cx="1284.6" cy="747.1" r="10.8"/>
<circle cx="1232.8" cy="748.2" r="10.8"/>
<circle cx="1250.9" cy="748.5" r="10.8"/>
<circle cx="1298.9" cy="748.6" r="10.8"/>
<circle cx="1265.5" cy="748.2" r="10.8"/>
<circle cx="1312.4" cy="748.8" r="10.8"/>
<circle cx="1258.0" cy="748.0" r="10.8"/>
<circle cx="1312.5" cy="749.3" r="10.8"/>
<circle cx="1301.1" cy="749.1" r="10.8"/>
<circle cx="1284.5" cy="749.4" r="10.8"/>
<circle cx="1304.6" cy="749.3" r="10.8"/>
<circle cx="1237.6" cy="749.2" r="10.8"/>
<circle cx="1297.5" cy="750.0" r="10.8"/>
<circle cx="1283.7" cy="750.7" r="10.8"/>
<circle cx="1253.0" cy="750.3" r="10.8"/>
<circle cx="1236.4" cy="751.0" r="10.8"/>
<circle cx="1232.7" cy="750.6" r="10.8"/>
<circle cx="1258.7" cy="750.2" r="10.8"/>
<circle cx="1266.1" cy="750.9" r="10.8"/>
<circle cx="1250.1" cy="751.2" r="10.8"/>
<circle cx="1282.5" cy="751.7" r="10.8"/>
<circle cx="1272.4" cy="751.2" r="10.8"/>
<circle cx="1303.3" cy="751.1" r="10.8"/>
<circle cx="1243.8" cy="751.2" r="10.8"/>
<circle cx="1272.7" cy="751.5" r="10.8"/>
<circle cx="1276.1" cy="752.7" r="10.8"/>
<circle cx="1305.0" cy="752.5" r="10.8"/>
<circle cx="1232.6" cy="752.8" r="10.8"/>
<circle cx="1230.6" cy="752.3" r="10.8"/>
<circle cx="1241.2" cy="752.6" r="10.8"/>
<circle cx="1295.5" cy="752.1" r="10.8"/>
<circle cx="1254.0" cy="753.9" r="10.8"/>
<circle cx="1287.6" cy="753.1" r="10.8"/>
<circle cx="1287.3" cy="753.8" r="10.8"/>
<circle cx="1263.7" cy="753.2" r="10.8"/>
<circle cx="1285.0" cy="753.3" r="10.8"/>
<circle cx="1240.4" cy="753.2" r="10.8"/>
<circle cx="1263.2" cy="754.1" r="10.8"/>
<circle cx="1261.7" cy="754.6" r="10.8"/>
<circle cx="1275.9" cy="754.4" r="10.8"/>
<circle cx="1297.0" cy="754.1" r="10.8"/>
<circle cx="1257.0" cy="754.9" r="10.8"/>
<circle cx="1302.5" cy="754.9" r="10.8"/>
<circle cx="1294.0" cy="755.5" r="10.8"/>
<circle cx="1295.9" cy="755.6" r="10.8"/>
<circle cx="1239.0" cy="755.3" r="10.8"/>
<circle cx="1237.3" cy="755.9" r="10.8"/>
<circle cx="1256.4" cy="755.4" r="10.8"/>
<circle cx="1274.7" cy="755.1" r="10.8"/>
<circle cx="1289.0" cy="756.8" r="10.8"/>
<circle cx="1296.7" cy="756.9" r="10.8"/>
<circle cx="1256.0" cy="756.1" r="10.8"/>
<circle cx="1293.7" cy="756.7" r="10.8"/>
<circle cx="1260.6" cy="756.3" r="10.8"/>
<circle cx="1242.1" cy="757.8" r="10.8"/>
<circle cx="1268.2" cy="757.8" r="10.8"/>
<circle cx="1257.9" cy="757.3" r="10.8"/>
<circle cx="1272.6" cy="757.7" r="10.8"/>
<circle cx="1304.0" cy="757.4" r="10.8"/>
<circle cx="1287.9" cy="758.4" r="10.8"/>
<circle cx="1302.2" cy="758.8" r="10.8"/>
<circle cx="1276.2" cy="758.4" r="10.8"/>
<circle cx="1252.3" cy="758.9" r="10.8"/>
<circle cx="1297.1" cy="758.3" r="10.8"/>
<circle cx="1236.2" cy="759.2" r="10.8"/>
<circle cx="1311.0" cy="759.0" r="10.8"/>
<circle cx="1297.8" cy="759.5" r="10.8"/>
<circle cx="1276.1" cy="759.5" r="10.8"/>
<circle cx="1263.9" cy="760.6" r="10.8"/>
<circle cx="1236.6" cy="760.9" r="10.8"/>
<circle cx="1237.7" cy="760.1" r="10.8"/>
<circle cx="1286.2" cy="760.6" r="10.8"/>
<circle cx="1297.6" cy="761.7" r="10.8"/>
<circle cx="1308.1" cy="761.1" r="10.8"/>
<circle cx="1229.9" cy="761.2" r="10.8"/>
<circle cx="1295.2" cy="762.2" r="10.8"/>
<circle cx="1274.2" cy="762.8" r="10.8"/>
<circle cx="1242.3" cy="762.5" r="10.8"/>
<circle cx="1305.6" cy="763.7" r="10.8"/>
<circle cx="1262.8" cy="763.5" r="10.8"/>
<circle cx="1252.6" cy="764.0" r="10.8"/>
<circle cx="1295.5" cy="764.7" r="10.8"/>
<circle cx="1254.9" cy="764.7" r="10.8"/>
<circle cx="1270.4" cy="765.8" r="10.8"/>
<circle cx="1259.9" cy="766.9" r="10.8"/>
<circle cx="1287.2" cy="767.5" r="10.8"/>
<circle cx="1276.8" cy="767.8" r="10.8"/>
<circle cx="1274.0" cy="769.0" r="10.8"/>
<circle cx="1229.6" cy="769.9" r="10.8"/>
<circle cx="1289.7" cy="770.5" r="10.8"/>
<circle cx="1301.2" cy="771.1" r="10.8"/>
<circle cx="1257.7" cy="772.7" r="10.8"/>
<circle cx="1299.0" cy="773.4" r="10.8"/>
<circle cx="1313.5" cy="774.6" r="10.8"/>
<circle cx="1232.9" cy="775.1" r="10.8"/>
<circle cx="1235.5" cy="777.6" r="10.8"/>
<circle cx="1256.4" cy="778.3" r="10.8"/>
<circle cx="1267.0" cy="781.1" r="10.8"/>
<circle cx="1306.3" cy="783.8" r="10.8"/>
<circle cx="1276.5" cy="785.4" r="10.8"/>
<circle cx="1255.2" cy="788.6" r="10.8"/>
<circle cx="1258.5" cy="792.0" r="10.8"/>
<circle cx="1310.3" cy="794.7" r="10.8"/>
<circle cx="1299.2" cy="799.1" r="10.8"/>
<circle cx="1239.5" cy="804.3" r="10.8"/>
<circle cx="1239.7" cy="814.4" r="10.8"/>
<circle cx="1233.1" cy="54.7" r="10.8"/>
<circle cx="1267.3" cy="190.1" r="10.8"/>
<circle cx="1304.9" cy="314.7" r="10.8"/>
<circle cx="1272.9" cy="349.6" r="10.8"/>
<circle cx="1289.4" cy="348.5" r="10.8"/>
<circle cx="1309.3" cy="357.3" r="10.8"/>
<circle cx="1259.6" cy="387.2" r="10.8"/>
<circle cx="1275.7" cy="392.0" r="10.8"/>
<circle cx="1297.2" cy="392.7" r="10.8"/>
<circle cx="1235.3" cy="398.2" r="10.8"/>
<circle cx="1262.9" cy="421.4" r="10.8"/>
<circle cx="1308.9" cy="423.6" r="10.8"/>
<circle cx="1256.3" cy="440.1" r="10.8"/>
<circle cx="1274.0" cy="437.9" r="10.8"/>
<circle cx="1278.4" cy="451.2" r="10.8"/>
<circle cx="1297.2" cy="439.0" r="10.8"/>
<circle cx="1238.0" cy="453.0" r="10.8"/>
<circle cx="1269.6" cy="470.0" r="10.8"/>
<circle cx="1298.9" cy="464.9" r="10.8"/>
<circle cx="1268.4" cy="488.7" r="10.8"/>
<circle cx="1294.9" cy="490.9" r="10.8"/>
<circle cx="1268.9" cy="526.9" r="10.8"/>
<circle cx="1302.0" cy="534.4" r="10.8"/>
<circle cx="1309.3" cy="559.4" r="10.8"/>
<circle cx="1243.0" cy="569.3" r="10.8"/>
<circle cx="1270.7" cy="569.3" r="10.8"/>
<circle cx="1303.8" cy="568.2" r="10.8"/>
<circle cx="1243.0" cy="574.3" r="10.8"/>
<circle cx="1248.6" cy="581.0" r="10.8"/>
<circle cx="1269.6" cy="576.5" r="10.8"/>
<circle cx="1278.4" cy="579.8" r="10.8"/>
<circle cx="1289.4" cy="583.1" r="10.8"/>
<circle cx="1300.5" cy="581.0" r="10.8"/>
<circle cx="1307.1" cy="574.3" r="10.8"/>
<circle cx="1229.8" cy="605.2" r="10.8"/>
<circle cx="1262.9" cy="605.2" r="10.8"/>
<circle cx="1307.1" cy="605.2" r="10.8"/>
<circle cx="1313.8" cy="623.0" r="10.8"/>
<circle cx="1234.2" cy="777.6" r="10.8"/>
<circle cx="1304.9" cy="784.3" r="10.8"/>
<circle cx="1230.9" cy="806.6" r="10.8"/>
<circle cx="1233.1" cy="822.0" r="10.8"/>
<circle cx="1232.0" cy="838.6" r="10.8"/>
<circle cx="1250.8" cy="822.0" r="10.8"/>
<circle cx="1259.6" cy="813.2" r="10.8"/>
<circle cx="1282.8" cy="815.5" r="10.8"/>
<circle cx="1299.4" cy="826.5" r="10.8"/>
<circle cx="1309.3" cy="823.2" r="10.8"/>
<circle cx="1257.4" cy="838.6" r="10.8"/>
<circle cx="1271.8" cy="836.4" r="10.8"/>
<circle cx="1255.2" cy="855.2" r="10.8"/>
<circle cx="1310.0" cy="870.7" r="10.8"/>
<circle cx="1275.1" cy="901.6" r="10.8"/>
<circle cx="1287.2" cy="902.7" r="10.8"/>
<circle cx="1299.4" cy="897.2" r="10.8"/>
<circle cx="1265.1" cy="920.3" r="10.8"/>
<circle cx="1262.9" cy="939.1" r="10.8"/>
<circle cx="1238.0" cy="945.7" r="10.8"/>
<circle cx="1233.1" cy="965.6" r="10.8"/>
<circle cx="1240.8" cy="966.7" r="10.8"/>
<circle cx="1304.9" cy="959.4" r="10.8"/>
<circle cx="1311.5" cy="989.4" r="10.8"/>
<circle cx="1283.0" cy="1005.8" r="10.8"/>
<circle cx="1307.7" cy="1071.6" r="10.8"/>
<circle cx="1286.0" cy="1119.1" r="10.8"/>
</g>
<g fill="#9a56a8" fill-opacity="0.50">
<circle cx="1584.9" cy="594.0" r="10.8"/>
<circle cx="1532.8" cy="600.2" r="10.8"/>
<circle cx="1516.0" cy="604.3" r="10.8"/>
<circle cx="1518.8" cy="607.5" r="10.8"/>
<circle cx="1539.5" cy="609.7" r="10.8"/>
<circle cx="1561.7" cy="612.6" r="10.8"/>
<circle cx="1539.5" cy="614.7" r="10.8"/>
<circle cx="1572.6" cy="616.7" r="10.8"/>
<circle cx="1554.0" cy="617.5" r="10.8"/>
<circle cx="1538.3" cy="619.0" r="10.8"/>
<circle cx="1553.6" cy="620.6" r="10.8"/>
<circle cx="1529.8" cy="621.9" r="10.8"/>
<circle cx="1588.7" cy="622.9" r="10.8"/>
<circle cx="1583.4" cy="622.5" r="10.8"/>
<circle cx="1528.9" cy="623.3" r="10.8"/>
<circle cx="1576.7" cy="625.0" r="10.8"/>
<circle cx="1523.5" cy="625.0" r="10.8"/>
<circle cx="1544.0" cy="625.3" r="10.8"/>
<circle cx="1564.8" cy="626.1" r="10.8"/>
<circle cx="1585.7" cy="626.3" r="10.8"/>
<circle cx="1591.2" cy="627.3" r="10.8"/>
<circle cx="1540.0" cy="627.2" r="10.8"/>
<circle cx="1596.1" cy="628.6" r="10.8"/>
<circle cx="1584.2" cy="628.1" r="10.8"/>
<circle cx="1560.1" cy="628.7" r="10.8"/>
<circle cx="1597.6" cy="629.9" r="10.8"/>
<circle cx="1522.8" cy="629.4" r="10.8"/>
<circle cx="1598.9" cy="629.5" r="10.8"/>
<circle cx="1595.3" cy="630.3" r="10.8"/>
<circle cx="1516.2" cy="630.9" r="10.8"/>
<circle cx="1536.4" cy="630.6" r="10.8"/>
<circle cx="1544.7" cy="630.6" r="10.8"/>
<circle cx="1593.4" cy="631.9" r="10.8"/>
<circle cx="1588.5" cy="631.3" r="10.8"/>
<circle cx="1583.8" cy="631.0" r="10.8"/>
<circle cx="1549.4" cy="631.9" r="10.8"/>
<circle cx="1535.6" cy="632.4" r="10.8"/>
<circle cx="1563.5" cy="632.2" r="10.8"/>
<circle cx="1574.2" cy="632.7" r="10.8"/>
<circle cx="1522.1" cy="632.9" r="10.8"/>
<circle cx="1520.1" cy="632.7" r="10.8"/>
<circle cx="1543.6" cy="633.1" r="10.8"/>
<circle cx="1520.6" cy="634.0" r="10.8"/>
<circle cx="1582.0" cy="633.5" r="10.8"/>
<circle cx="1581.5" cy="634.0" r="10.8"/>
<circle cx="1592.7" cy="633.5" r="10.8"/>
<circle cx="1537.4" cy="634.5" r="10.8"/>
<circle cx="1597.4" cy="634.7" r="10.8"/>
<circle cx="1570.9" cy="634.8" r="10.8"/>
<circle cx="1548.8" cy="634.6" r="10.8"/>
<circle cx="1586.1" cy="634.2" r="10.8"/>
<circle cx="1587.0" cy="634.0" r="10.8"/>
<circle cx="1559.7" cy="635.6" r="10.8"/>
<circle cx="1526.4" cy="635.9" r="10.8"/>
<circle cx="1551.3" cy="635.2" r="10.8"/>
<circle cx="1549.0" cy="635.6" r="10.8"/>
<circle cx="1550.5" cy="635.0" r="10.8"/>
<circle cx="1521.9" cy="635.7" r="10.8"/>
<circle cx="1525.2" cy="636.3" r="10.8"/>
<circle cx="1582.6" cy="636.9" r="10.8"/>
<circle cx="1588.9" cy="636.2" r="10.8"/>
<circle cx="1514.4" cy="636.8" r="10.8"/>
<circle cx="1564.9" cy="636.4" r="10.8"/>
<circle cx="1515.6" cy="636.4" r="10.8"/>
<circle cx="1534.2" cy="637.6" r="10.8"/>
<circle cx="1597.4" cy="637.2" r="10.8"/>
<circle cx="1520.4" cy="637.7" r="10.8"/>
<circle cx="1523.2" cy="637.2" r="10.8"/>
<circle cx="1551.3" cy="638.0" r="10.8"/>
<circle cx="1541.6" cy="637.3" r="10.8"/>
<circle cx="1554.4" cy="638.2" r="10.8"/>
<circle cx="1548.2" cy="638.7" r="10.8"/>
<circle cx="1541.5" cy="638.8" r="10.8"/>
<circle cx="1529.7" cy="638.1" r="10.8"/>
<circle cx="1567.3" cy="638.5" r="10.8"/>
<circle cx="1592.0" cy="638.1" r="10.8"/>
<circle cx="1577.4" cy="639.7" r="10.8"/>
<circle cx="1545.5" cy="639.1" r="10.8"/>
<circle cx="1566.0" cy="639.8" r="10.8"/>
<circle cx="1554.2" cy="639.5" r="10.8"/>
<circle cx="1572.3" cy="639.6" r="10.8"/>
<circle cx="1550.0" cy="639.2" r="10.8"/>
<circle cx="1553.4" cy="640.5" r="10.8"/>
<circle cx="1590.2" cy="641.0" r="10.8"/>
<circle cx="1561.3" cy="640.3" r="10.8"/>
<circle cx="1532.9" cy="640.6" r="10.8"/>
<circle cx="1576.8" cy="640.2" r="10.8"/>
<circle cx="1572.7" cy="641.0" r="10.8"/>
<circle cx="1547.3" cy="641.9" r="10.8"/>
<circle cx="1551.1" cy="641.7" r="10.8"/>
<circle cx="1587.7" cy="641.2" r="10.8"/>
<circle cx="1543.4" cy="642.0" r="10.8"/>
<circle cx="1519.5" cy="641.3" r="10.8"/>
<circle cx="1554.5" cy="641.7" r="10.8"/>
<circle cx="1567.6" cy="642.9" r="10.8"/>
<circle cx="1570.9" cy="642.0" r="10.8"/>
<circle cx="1520.1" cy="642.0" r="10.8"/>
<circle cx="1550.7" cy="642.0" r="10.8"/>
<circle cx="1558.7" cy="642.6" r="10.8"/>
<circle cx="1531.2" cy="642.9" r="10.8"/>
<circle cx="1549.2" cy="644.0" r="10.8"/>
<circle cx="1544.4" cy="643.6" r="10.8"/>
<circle cx="1560.1" cy="643.3" r="10.8"/>
<circle cx="1580.3" cy="643.0" r="10.8"/>
<circle cx="1535.2" cy="643.3" r="10.8"/>
<circle cx="1589.0" cy="643.5" r="10.8"/>
<circle cx="1517.1" cy="644.3" r="10.8"/>
<circle cx="1565.8" cy="644.8" r="10.8"/>
<circle cx="1523.3" cy="644.8" r="10.8"/>
<circle cx="1547.2" cy="644.5" r="10.8"/>
<circle cx="1549.8" cy="644.4" r="10.8"/>
<circle cx="1598.2" cy="644.9" r="10.8"/>
<circle cx="1592.0" cy="645.7" r="10.8"/>
<circle cx="1573.5" cy="645.1" r="10.8"/>
<circle cx="1517.0" cy="645.8" r="10.8"/>
<circle cx="1571.2" cy="645.6" r="10.8"/>
<circle cx="1540.6" cy="645.3" r="10.8"/>
<circle cx="1592.3" cy="645.5" r="10.8"/>
<circle cx="1515.7" cy="646.3" r="10.8"/>
<circle cx="1543.7" cy="646.1" r="10.8"/>
<circle cx="1597.1" cy="646.9" r="10.8"/>
<circle cx="1583.3" cy="646.0" r="10.8"/>
<circle cx="1549.5" cy="646.1" r="10.8"/>
<circle cx="1575.7" cy="646.8" r="10.8"/>
<circle cx="1581.1" cy="647.8" r="10.8"/>
<circle cx="1524.3" cy="647.0" r="10.8"/>
<circle cx="1521.9" cy="647.8" r="10.8"/>
<circle cx="1584.5" cy="647.5" r="10.8"/>
<circle cx="1533.9" cy="647.9" r="10.8"/>
<circle cx="1524.2" cy="647.3" r="10.8"/>
<circle cx="1514.2" cy="649.0" r="10.8"/>
<circle cx="1549.3" cy="648.8" r="10.8"/>
<circle cx="1582.1" cy="648.6" r="10.8"/>
<circle cx="1597.9" cy="648.8" r="10.8"/>
<circle cx="1592.8" cy="649.0" r="10.8"/>
<circle cx="1521.0" cy="648.8" r="10.8"/>
<circle cx="1533.2" cy="649.3" r="10.8"/>
<circle cx="1543.0" cy="650.0" r="10.8"/>
<circle cx="1519.1" cy="649.4" r="10.8"/>
<circle cx="1524.9" cy="650.0" r="10.8"/>
<circle cx="1556.2" cy="649.7" r="10.8"/>
<circle cx="1558.2" cy="649.8" r="10.8"/>
<circle cx="1542.6" cy="650.4" r="10.8"/>
<circle cx="1577.3" cy="650.7" r="10.8"/>
<circle cx="1589.5" cy="650.3" r="10.8"/>
<circle cx="1586.1" cy="650.7" r="10.8"/>
<circle cx="1562.7" cy="650.4" r="10.8"/>
<circle cx="1562.2" cy="650.1" r="10.8"/>
<circle cx="1522.3" cy="651.3" r="10.8"/>
<circle cx="1524.5" cy="651.0" r="10.8"/>
<circle cx="1574.9" cy="651.7" r="10.8"/>
<circle cx="1566.3" cy="651.2" r="10.8"/>
<circle cx="1575.4" cy="651.8" r="10.8"/>
<circle cx="1566.6" cy="651.2" r="10.8"/>
<circle cx="1562.0" cy="652.4" r="10.8"/>
<circle cx="1536.9" cy="652.1" r="10.8"/>
<circle cx="1587.5" cy="652.6" r="10.8"/>
<circle cx="1593.3" cy="652.2" r="10.8"/>
<circle cx="1536.5" cy="652.5" r="10.8"/>
<circle cx="1519.0" cy="652.3" r="10.8"/>
<circle cx="1559.9" cy="653.5" r="10.8"/>
<circle cx="1591.3" cy="653.6" r="10.8"/>
<circle cx="1568.2" cy="653.6" r="10.8"/>
<circle cx="1580.8" cy="653.4" r="10.8"/>
<circle cx="1514.1" cy="654.0" r="10.8"/>
<circle cx="1581.4" cy="653.1" r="10.8"/>
<circle cx="1523.5" cy="654.2" r="10.8"/>
<circle cx="1569.9" cy="654.1" r="10.8"/>
<circle cx="1515.7" cy="654.5" r="10.8"/>
<circle cx="1514.5" cy="654.3" r="10.8"/>
<circle cx="1546.5" cy="654.2" r="10.8"/>
<circle cx="1514.2" cy="654.3" r="10.8"/>
<circle cx="1534.7" cy="655.3" r="10.8"/>
<circle cx="1549.2" cy="655.4" r="10.8"/>
<circle cx="1541.5" cy="655.0" r="10.8"/>
<circle cx="1585.2" cy="655.7" r="10.8"/>
<circle cx="1555.9" cy="655.0" r="10.8"/>
<circle cx="1533.8" cy="655.9" r="10.8"/>
<circle cx="1552.9" cy="656.2" r="10.8"/>
<circle cx="1583.7" cy="656.9" r="10.8"/>
<circle cx="1524.4" cy="656.5" r="10.8"/>
<circle cx="1561.7" cy="656.1" r="10.8"/>
<circle cx="1541.1" cy="656.6" r="10.8"/>
<circle cx="1571.2" cy="656.6" r="10.8"/>
<circle cx="1566.7" cy="657.4" r="10.8"/>
<circle cx="1519.9" cy="657.0" r="10.8"/>
<circle cx="1585.2" cy="657.9" r="10.8"/>
<circle cx="1590.9" cy="657.1" r="10.8"/>
<circle cx="1579.4" cy="657.2" r="10.8"/>
<circle cx="1543.4" cy="657.2" r="10.8"/>
<circle cx="1587.1" cy="658.8" r="10.8"/>
<circle cx="1584.8" cy="658.4" r="10.8"/>
<circle cx="1593.6" cy="658.3" r="10.8"/>
<circle cx="1562.8" cy="658.7" r="10.8"/>
<circle cx="1533.9" cy="658.4" r="10.8"/>
<circle cx="1522.5" cy="658.8" r="10.8"/>
<circle cx="1529.7" cy="659.1" r="10.8"/>
<circle cx="1537.6" cy="659.6" r="10.8"/>
<circle cx="1568.2" cy="659.5" r="10.8"/>
<circle cx="1586.6" cy="659.8" r="10.8"/>
<circle cx="1531.8" cy="659.5" r="10.8"/>
<circle cx="1528.4" cy="659.2" r="10.8"/>
<circle cx="1526.5" cy="660.1" r="10.8"/>
<circle cx="1543.8" cy="660.9" r="10.8"/>
<circle cx="1569.8" cy="660.1" r="10.8"/>
<circle cx="1532.6" cy="660.6" r="10.8"/>
<circle cx="1559.0" cy="660.0" r="10.8"/>
<circle cx="1522.0" cy="660.6" r="10.8"/>
<circle cx="1565.1" cy="661.1" r="10.8"/>
<circle cx="1579.7" cy="661.2" r="10.8"/>
<circle cx="1564.1" cy="661.5" r="10.8"/>
<circle cx="1542.9" cy="661.9" r="10.8"/>
<circle cx="1547.6" cy="661.4" r="10.8"/>
<circle cx="1559.9" cy="661.8" r="10.8"/>
<circle cx="1597.9" cy="662.8" r="10.8"/>
<circle cx="1559.8" cy="662.7" r="10.8"/>
<circle cx="1568.2" cy="663.0" r="10.8"/>
<circle cx="1596.5" cy="662.8" r="10.8"/>
<circle cx="1532.4" cy="662.6" r="10.8"/>
<circle cx="1551.4" cy="662.2" r="10.8"/>
<circle cx="1580.4" cy="663.2" r="10.8"/>
<circle cx="1574.3" cy="663.5" r="10.8"/>
<circle cx="1550.3" cy="663.7" r="10.8"/>
<circle cx="1575.6" cy="664.0" r="10.8"/>
<circle cx="1598.9" cy="663.8" r="10.8"/>
<circle cx="1536.4" cy="663.7" r="10.8"/>
<circle cx="1556.1" cy="664.9" r="10.8"/>
<circle cx="1552.0" cy="664.4" r="10.8"/>
<circle cx="1516.2" cy="664.5" r="10.8"/>
<circle cx="1559.3" cy="664.3" r="10.8"/>
<circle cx="1522.9" cy="664.5" r="10.8"/>
<circle cx="1520.0" cy="664.2" r="10.8"/>
<circle cx="1551.7" cy="665.3" r="10.8"/>
<circle cx="1556.5" cy="665.5" r="10.8"/>
<circle cx="1547.0" cy="665.1" r="10.8"/>
<circle cx="1515.6" cy="665.6" r="10.8"/>
<circle cx="1596.5" cy="665.3" r="10.8"/>
<circle cx="1543.9" cy="665.3" r="10.8"/>
<circle cx="1577.1" cy="666.5" r="10.8"/>
<circle cx="1581.7" cy="666.0" r="10.8"/>
<circle cx="1525.3" cy="666.2" r="10.8"/>
<circle cx="1545.4" cy="666.4" r="10.8"/>
<circle cx="1546.8" cy="667.0" r="10.8"/>
<circle cx="1551.3" cy="666.6" r="10.8"/>
<circle cx="1595.9" cy="667.6" r="10.8"/>
<circle cx="1564.5" cy="667.8" r="10.8"/>
<circle cx="1542.4" cy="667.0" r="10.8"/>
<circle cx="1595.4" cy="667.5" r="10.8"/>
<circle cx="1563.5" cy="667.1" r="10.8"/>
<circle cx="1577.3" cy="667.4" r="10.8"/>
<circle cx="1568.7" cy="668.3" r="10.8"/>
<circle cx="1592.0" cy="668.4" r="10.8"/>
<circle cx="1537.4" cy="668.9" r="10.8"/>
<circle cx="1532.9" cy="668.3" r="10.8"/>
<circle cx="1555.4" cy="669.0" r="10.8"/>
<circle cx="1523.8" cy="668.2" r="10.8"/>
<circle cx="1581.6" cy="669.1" r="10.8"/>
<circle cx="1549.2" cy="669.8" r="10.8"/>
<circle cx="1574.6" cy="669.8" r="10.8"/>
<circle cx="1524.0" cy="669.9" r="10.8"/>
<circle cx="1544.3" cy="669.8" r="10.8"/>
<circle cx="1554.1" cy="669.9" r="10.8"/>
<circle cx="1554.6" cy="670.3" r="10.8"/>
<circle cx="1526.8" cy="670.5" r="10.8"/>
<circle cx="1518.2" cy="670.2" r="10.8"/>
<circle cx="1588.3" cy="670.6" r="10.8"/>
<circle cx="1587.4" cy="670.2" r="10.8"/>
<circle cx="1554.8" cy="670.5" r="10.8"/>
<circle cx="1523.2" cy="671.3" r="10.8"/>
<circle cx="1592.4" cy="671.7" r="10.8"/>
<circle cx="1557.3" cy="671.6" r="10.8"/>
<circle cx="1587.2" cy="672.0" r="10.8"/>
<circle cx="1564.5" cy="671.1" r="10.8"/>
<circle cx="1588.1" cy="671.2" r="10.8"/>
<circle cx="1534.4" cy="672.1" r="10.8"/>
<circle cx="1557.5" cy="672.6" r="10.8"/>
<circle cx="1553.1" cy="672.5" r="10.8"/>
<circle cx="1526.0" cy="672.7" r="10.8"/>
<circle cx="1559.7" cy="672.3" r="10.8"/>
<circle cx="1584.9" cy="672.9" r="10.8"/>
<circle cx="1592.4" cy="674.0" r="10.8"/>
<circle cx="1519.9" cy="673.4" r="10.8"/>
<circle cx="1552.2" cy="673.3" r="10.8"/>
<circle cx="1577.2" cy="673.9" r="10.8"/>
<circle cx="1525.8" cy="673.5" r="10.8"/>
<circle cx="1596.2" cy="673.9" r="10.8"/>
<circle cx="1552.3" cy="674.1" r="10.8"/>
<circle cx="1552.8" cy="674.5" r="10.8"/>
<circle cx="1580.8" cy="674.2" r="10.8"/>
<circle cx="1537.8" cy="675.0" r="10.8"/>
<circle cx="1515.0" cy="674.6" r="10.8"/>
<circle cx="1522.1" cy="674.8" r="10.8"/>
<circle cx="1550.0" cy="675.9" r="10.8"/>
<circle cx="1533.0" cy="675.9" r="10.8"/>
<circle cx="1533.3" cy="675.0" r="10.8"/>
<circle cx="1521.3" cy="675.1" r="10.8"/>
<circle cx="1547.0" cy="676.0" r="10.8"/>
<circle cx="1544.2" cy="675.7" r="10.8"/>
<circle cx="1516.9" cy="676.5" r="10.8"/>
<circle cx="1559.8" cy="676.1" r="10.8"/>
<circle cx="1563.3" cy="676.4" r="10.8"/>
<circle cx="1541.8" cy="676.8" r="10.8"/>
<circle cx="1572.8" cy="676.1" r="10.8"/>
<circle cx="1523.0" cy="676.1" r="10.8"/>
<circle cx="1536.4" cy="677.6" r="10.8"/>
<circle cx="1596.3" cy="678.0" r="10.8"/>
<circle cx="1587.5" cy="677.1" r="10.8"/>
<circle cx="1581.3" cy="677.8" r="10.8"/>
<circle cx="1554.2" cy="678.0" r="10.8"/>
<circle cx="1564.9" cy="677.1" r="10.8"/>
<circle cx="1532.4" cy="678.1" r="10.8"/>
<circle cx="1565.9" cy="678.6" r="10.8"/>
<circle cx="1586.9" cy="678.0" r="10.8"/>
<circle cx="1514.8" cy="679.0" r="10.8"/>
<circle cx="1536.3" cy="678.3" r="10.8"/>
<circle cx="1587.7" cy="678.1" r="10.8"/>
<circle cx="1581.4" cy="679.9" r="10.8"/>
<circle cx="1561.8" cy="679.6" r="10.8"/>
<circle cx="1514.5" cy="679.6" r="10.8"/>
<circle cx="1566.2" cy="679.8" r="10.8"/>
<circle cx="1558.0" cy="679.1" r="10.8"/>
<circle cx="1532.9" cy="679.7" r="10.8"/>
<circle cx="1520.8" cy="680.1" r="10.8"/>
<circle cx="1535.3" cy="680.8" r="10.8"/>
<circle cx="1560.5" cy="680.4" r="10.8"/>
<circle cx="1595.9" cy="680.6" r="10.8"/>
<circle cx="1534.3" cy="680.6" r="10.8"/>
<circle cx="1586.7" cy="680.4" r="10.8"/>
<circle cx="1550.9" cy="681.6" r="10.8"/>
<circle cx="1597.9" cy="681.6" r="10.8"/>
<circle cx="1529.4" cy="681.6" r="10.8"/>
<circle cx="1541.3" cy="681.5" r="10.8"/>
<circle cx="1574.6" cy="681.0" r="10.8"/>
<circle cx="1557.1" cy="681.3" r="10.8"/>
<circle cx="1564.9" cy="682.8" r="10.8"/>
<circle cx="1553.7" cy="682.6" r="10.8"/>
<circle cx="1538.5" cy="682.3" r="10.8"/>
<circle cx="1557.4" cy="682.5" r="10.8"/>
<circle cx="1533.0" cy="682.8" r="10.8"/>
<circle cx="1556.5" cy="682.4" r="10.8"/>
<circle cx="1535.6" cy="683.8" r="10.8"/>
<circle cx="1590.7" cy="683.9" r="10.8"/>
<circle cx="1535.1" cy="683.1" r="10.8"/>
<circle cx="1567.7" cy="683.0" r="10.8"/>
<circle cx="1586.8" cy="683.7" r="10.8"/>
<circle cx="1542.6" cy="683.4" r="10.8"/>
<circle cx="1572.0" cy="684.2" r="10.8"/>
<circle cx="1545.0" cy="684.8" r="10.8"/>
<circle cx="1571.9" cy="684.6" r="10.8"/>
<circle cx="1522.8" cy="684.2" r="10.8"/>
<circle cx="1535.8" cy="684.0" r="10.8"/>
<circle cx="1568.4" cy="684.6" r="10.8"/>
<circle cx="1592.6" cy="685.6" r="10.8"/>
<circle cx="1592.1" cy="685.5" r="10.8"/>
<circle cx="1558.0" cy="685.3" r="10.8"/>
<circle cx="1553.5" cy="685.9" r="10.8"/>
<circle cx="1555.5" cy="685.0" r="10.8"/>
<circle cx="1544.1" cy="685.2" r="10.8"/>
<circle cx="1567.0" cy="686.5" r="10.8"/>
<circle cx="1554.4" cy="686.9" r="10.8"/>
<circle cx="1578.8" cy="686.1" r="10.8"/>
<circle cx="1516.6" cy="686.7" r="10.8"/>
<circle cx="1564.7" cy="686.7" r="10.8"/>
<circle cx="1556.5" cy="686.0" r="10.8"/>
<circle cx="1552.4" cy="687.8" r="10.8"/>
<circle cx="1565.2" cy="687.0" r="10.8"/>
<circle cx="1524.6" cy="687.9" r="10.8"/>
<circle cx="1560.3" cy="687.2" r="10.8"/>
<circle cx="1574.1" cy="687.9" r="10.8"/>
<circle cx="1587.5" cy="687.6" r="10.8"/>
<circle cx="1582.6" cy="688.1" r="10.8"/>
<circle cx="1553.4" cy="688.8" r="10.8"/>
<circle cx="1543.0" cy="688.1" r="10.8"/>
<circle cx="1587.6" cy="688.7" r="10.8"/>
<circle cx="1514.6" cy="688.1" r="10.8"/>
<circle cx="1561.4" cy="689.0" r="10.8"/>
<circle cx="1566.5" cy="689.9" r="10.8"/>
<circle cx="1522.9" cy="689.6" r="10.8"/>
<circle cx="1529.4" cy="689.3" r="10.8"/>
<circle cx="1526.7" cy="689.5" r="10.8"/>
<circle cx="1517.9" cy="689.7" r="10.8"/>
<circle cx="1568.9" cy="689.9" r="10.8"/>
<circle cx="1579.3" cy="690.1" r="10.8"/>
<circle cx="1587.9" cy="690.5" r="10.8"/>
<circle cx="1593.6" cy="690.5" r="10.8"/>
<circle cx="1520.9" cy="690.7" r="10.8"/>
<circle cx="1528.7" cy="691.0" r="10.8"/>
<circle cx="1559.8" cy="690.9" r="10.8"/>
<circle cx="1555.9" cy="691.3" r="10.8"/>
<circle cx="1570.3" cy="691.7" r="10.8"/>
<circle cx="1553.1" cy="691.3" r="10.8"/>
<circle cx="1549.7" cy="691.7" r="10.8"/>
<circle cx="1533.4" cy="691.2" r="10.8"/>
<circle cx="1555.1" cy="691.7" r="10.8"/>
<circle cx="1519.7" cy="692.3" r="10.8"/>
<circle cx="1596.6" cy="692.3" r="10.8"/>
<circle cx="1579.6" cy="692.3" r="10.8"/>
<circle cx="1521.3" cy="692.5" r="10.8"/>
<circle cx="1587.9" cy="692.8" r="10.8"/>
<circle cx="1518.1" cy="692.7" r="10.8"/>
<circle cx="1566.8" cy="693.5" r="10.8"/>
<circle cx="1570.5" cy="693.5" r="10.8"/>
<circle cx="1529.6" cy="693.7" r="10.8"/>
<circle cx="1525.0" cy="693.3" r="10.8"/>
<circle cx="1586.4" cy="693.6" r="10.8"/>
<circle cx="1557.4" cy="693.7" r="10.8"/>
<circle cx="1555.9" cy="694.4" r="10.8"/>
<circle cx="1560.9" cy="694.0" r="10.8"/>
<circle cx="1543.9" cy="694.0" r="10.8"/>
<circle cx="1598.6" cy="694.9" r="10.8"/>
<circle cx="1569.6" cy="694.2" r="10.8"/>
<circle cx="1586.7" cy="694.3" r="10.8"/>
<circle cx="1582.4" cy="695.7" r="10.8"/>
<circle cx="1565.4" cy="695.7" r="10.8"/>
<circle cx="1536.7" cy="695.8" r="10.8"/>
<circle cx="1560.1" cy="695.8" r="10.8"/>
<circle cx="1585.4" cy="695.3" r="10.8"/>
<circle cx="1548.9" cy="695.4" r="10.8"/>
<circle cx="1520.5" cy="696.9" r="10.8"/>
<circle cx="1572.3" cy="696.5" r="10.8"/>
<circle cx="1560.4" cy="696.9" r="10.8"/>
<circle cx="1519.9" cy="696.4" r="10.8"/>
<circle cx="1572.3" cy="696.5" r="10.8"/>
<circle cx="1556.3" cy="696.3" r="10.8"/>
<circle cx="1533.0" cy="697.7" r="10.8"/>
<circle cx="1543.0" cy="697.9" r="10.8"/>
<circle cx="1590.7" cy="698.0" r="10.8"/>
<circle cx="1537.5" cy="697.5" r="10.8"/>
<circle cx="1522.9" cy="697.4" r="10.8"/>
<circle cx="1520.3" cy="697.5" r="10.8"/>
<circle cx="1595.3" cy="698.8" r="10.8"/>
<circle cx="1544.9" cy="698.3" r="10.8"/>
<circle cx="1593.2" cy="698.1" r="10.8"/>
<circle cx="1585.8" cy="698.9" r="10.8"/>
<circle cx="1519.9" cy="699.0" r="10.8"/>
<circle cx="1568.9" cy="698.4" r="10.8"/>
<circle cx="1550.1" cy="699.6" r="10.8"/>
<circle cx="1558.8" cy="699.9" r="10.8"/>
<circle cx="1590.1" cy="699.3" r="10.8"/>
<circle cx="1514.7" cy="699.8" r="10.8"/>
<circle cx="1569.1" cy="699.7" r="10.8"/>
<circle cx="1520.3" cy="699.1" r="10.8"/>
<circle cx="1590.4" cy="700.4" r="10.8"/>
<circle cx="1554.2" cy="701.0" r="10.8"/>
<circle cx="1530.6" cy="700.6" r="10.8"/>
<circle cx="1519.2" cy="700.6" r="10.8"/>
<circle cx="1576.8" cy="700.2" r="10.8"/>
<circle cx="1578.6" cy="701.0" r="10.8"/>
<circle cx="1584.2" cy="701.8" r="10.8"/>
<circle cx="1594.5" cy="701.7" r="10.8"/>
<circle cx="1560.5" cy="701.8" r="10.8"/>
<circle cx="1582.5" cy="701.6" r="10.8"/>
<circle cx="1570.9" cy="701.2" r="10.8"/>
<circle cx="1542.8" cy="701.3" r="10.8"/>
<circle cx="1587.0" cy="702.8" r="10.8"/>
<circle cx="1538.7" cy="703.0" r="10.8"/>
<circle cx="1519.0" cy="702.1" r="10.8"/>
<circle cx="1541.9" cy="702.1" r="10.8"/>
<circle cx="1594.7" cy="702.4" r="10.8"/>
<circle cx="1547.0" cy="702.9" r="10.8"/>
<circle cx="1559.3" cy="703.6" r="10.8"/>
<circle cx="1551.4" cy="703.5" r="10.8"/>
<circle cx="1595.4" cy="703.3" r="10.8"/>
<circle cx="1558.7" cy="703.5" r="10.8"/>
<circle cx="1526.0" cy="703.1" r="10.8"/>
<circle cx="1557.1" cy="703.8" r="10.8"/>
<circle cx="1550.7" cy="704.1" r="10.8"/>
<circle cx="1593.5" cy="704.1" r="10.8"/>
<circle cx="1589.2" cy="704.0" r="10.8"/>
<circle cx="1569.2" cy="704.1" r="10.8"/>
<circle cx="1536.1" cy="704.4" r="10.8"/>
<circle cx="1578.2" cy="704.4" r="10.8"/>
<circle cx="1549.6" cy="705.4" r="10.8"/>
<circle cx="1558.3" cy="705.3" r="10.8"/>
<circle cx="1595.0" cy="705.2" r="10.8"/>
<circle cx="1525.3" cy="705.5" r="10.8"/>
<circle cx="1543.9" cy="705.7" r="10.8"/>
<circle cx="1517.4" cy="705.7" r="10.8"/>
<circle cx="1545.0" cy="706.9" r="10.8"/>
<circle cx="1539.5" cy="706.4" r="10.8"/>
<circle cx="1541.0" cy="706.5" r="10.8"/>
<circle cx="1537.9" cy="706.7" r="10.8"/>
<circle cx="1549.0" cy="706.7" r="10.8"/>
<circle cx="1538.8" cy="706.5" r="10.8"/>
<circle cx="1561.4" cy="707.7" r="10.8"/>
<circle cx="1569.5" cy="707.4" r="10.8"/>
<circle cx="1521.3" cy="707.1" r="10.8"/>
<circle cx="1526.5" cy="707.2" r="10.8"/>
<circle cx="1529.6" cy="707.7" r="10.8"/>
<circle cx="1543.0" cy="707.9" r="10.8"/>
<circle cx="1533.9" cy="708.2" r="10.8"/>
<circle cx="1529.5" cy="708.1" r="10.8"/>
<circle cx="1572.0" cy="708.6" r="10.8"/>
<circle cx="1535.4" cy="708.8" r="10.8"/>
<circle cx="1571.4" cy="708.4" r="10.8"/>
<circle cx="1565.7" cy="708.7" r="10.8"/>
<circle cx="1551.5" cy="709.1" r="10.8"/>
<circle cx="1545.0" cy="709.9" r="10.8"/>
<circle cx="1545.7" cy="709.6" r="10.8"/>
<circle cx="1521.5" cy="709.8" r="10.8"/>
<circle cx="1587.5" cy="709.4" r="10.8"/>
<circle cx="1545.6" cy="709.5" r="10.8"/>
<circle cx="1535.4" cy="710.2" r="10.8"/>
<circle cx="1524.9" cy="710.7" r="10.8"/>
<circle cx="1557.3" cy="711.0" r="10.8"/>
<circle cx="1595.8" cy="710.9" r="10.8"/>
<circle cx="1594.3" cy="710.8" r="10.8"/>
<circle cx="1516.1" cy="710.1" r="10.8"/>
<circle cx="1597.0" cy="711.9" r="10.8"/>
<circle cx="1566.3" cy="711.6" r="10.8"/>
<circle cx="1551.1" cy="711.4" r="10.8"/>
<circle cx="1526.4" cy="711.5" r="10.8"/>
<circle cx="1537.4" cy="711.1" r="10.8"/>
<circle cx="1588.0" cy="711.6" r="10.8"/>
<circle cx="1588.5" cy="712.3" r="10.8"/>
<circle cx="1563.0" cy="712.3" r="10.8"/>
<circle cx="1584.6" cy="712.2" r="10.8"/>
<circle cx="1569.1" cy="712.6" r="10.8"/>
<circle cx="1541.7" cy="712.1" r="10.8"/>
<circle cx="1555.4" cy="712.5" r="10.8"/>
<circle cx="1583.5" cy="713.2" r="10.8"/>
<circle cx="1529.8" cy="713.3" r="10.8"/>
<circle cx="1582.2" cy="713.2" r="10.8"/>
<circle cx="1567.9" cy="713.0" r="10.8"/>
<circle cx="1521.0" cy="713.7" r="10.8"/>
<circle cx="1556.2" cy="713.1" r="10.8"/>
<circle cx="1554.2" cy="714.9" r="10.8"/>
<circle cx="1547.2" cy="714.6" r="10.8"/>
<circle cx="1549.7" cy="714.5" r="10.8"/>
<circle cx="1517.7" cy="714.9" r="10.8"/>
<circle cx="1563.3" cy="714.3" r="10.8"/>
<circle cx="1538.2" cy="714.2" r="10.8"/>
<circle cx="1593.4" cy="715.8" r="10.8"/>
<circle cx="1546.2" cy="715.6" r="10.8"/>
<circle cx="1561.0" cy="715.2" r="10.8"/>
<circle cx="1516.8" cy="715.7" r="10.8"/>
<circle cx="1527.8" cy="715.6" r="10.8"/>
<circle cx="1515.5" cy="715.0" r="10.8"/>
<circle cx="1528.0" cy="716.7" r="10.8"/>
<circle cx="1566.1" cy="717.0" r="10.8"/>
<circle cx="1570.1" cy="716.5" r="10.8"/>
<circle cx="1515.1" cy="717.0" r="10.8"/>
<circle cx="1555.5" cy="716.9" r="10.8"/>
<circle cx="1517.6" cy="716.8" r="10.8"/>
<circle cx="1554.5" cy="717.2" r="10.8"/>
<circle cx="1548.5" cy="717.1" r="10.8"/>
<circle cx="1563.4" cy="717.2" r="10.8"/>
<circle cx="1573.6" cy="717.2" r="10.8"/>
<circle cx="1572.6" cy="717.6" r="10.8"/>
<circle cx="1574.5" cy="718.0" r="10.8"/>
<circle cx="1539.1" cy="718.7" r="10.8"/>
<circle cx="1547.8" cy="718.9" r="10.8"/>
<circle cx="1584.1" cy="718.8" r="10.8"/>
<circle cx="1565.0" cy="718.3" r="10.8"/>
<circle cx="1591.2" cy="719.0" r="10.8"/>
<circle cx="1594.7" cy="718.3" r="10.8"/>
<circle cx="1583.9" cy="719.7" r="10.8"/>
<circle cx="1585.4" cy="719.8" r="10.8"/>
<circle cx="1552.6" cy="719.4" r="10.8"/>
<circle cx="1581.6" cy="719.7" r="10.8"/>
<circle cx="1559.9" cy="719.9" r="10.8"/>
<circle cx="1516.7" cy="719.0" r="10.8"/>
<circle cx="1553.5" cy="720.1" r="10.8"/>
<circle cx="1585.6" cy="720.1" r="10.8"/>
<circle cx="1589.0" cy="720.2" r="10.8"/>
<circle cx="1525.4" cy="720.8" r="10.8"/>
<circle cx="1571.6" cy="720.4" r="10.8"/>
<circle cx="1564.7" cy="720.6" r="10.8"/>
<circle cx="1594.6" cy="721.5" r="10.8"/>
<circle cx="1559.9" cy="721.5" r="10.8"/>
<circle cx="1549.0" cy="721.7" r="10.8"/>
<circle cx="1523.5" cy="721.7" r="10.8"/>
<circle cx="1592.9" cy="721.8" r="10.8"/>
<circle cx="1560.2" cy="721.4" r="10.8"/>
<circle cx="1522.3" cy="722.1" r="10.8"/>
<circle cx="1559.8" cy="722.9" r="10.8"/>
<circle cx="1587.6" cy="722.2" r="10.8"/>
<circle cx="1577.7" cy="722.8" r="10.8"/>
<circle cx="1554.8" cy="722.9" r="10.8"/>
<circle cx="1529.9" cy="722.3" r="10.8"/>
<circle cx="1557.7" cy="723.7" r="10.8"/>
<circle cx="1552.1" cy="723.3" r="10.8"/>
<circle cx="1587.7" cy="723.4" r="10.8"/>
<circle cx="1549.7" cy="723.2" r="10.8"/>
<circle cx="1555.1" cy="723.7" r="10.8"/>
<circle cx="1544.7" cy="723.7" r="10.8"/>
<circle cx="1555.9" cy="724.0" r="10.8"/>
<circle cx="1595.8" cy="724.3" r="10.8"/>
<circle cx="1560.4" cy="725.0" r="10.8"/>
<circle cx="1531.6" cy="724.1" r="10.8"/>
<circle cx="1531.5" cy="724.2" r="10.8"/>
<circle cx="1586.4" cy="724.5" r="10.8"/>
<circle cx="1517.6" cy="725.3" r="10.8"/>
<circle cx="1557.4" cy="725.2" r="10.8"/>
<circle cx="1540.0" cy="725.9" r="10.8"/>
<circle cx="1551.8" cy="725.2" r="10.8"/>
<circle cx="1564.8" cy="725.1" r="10.8"/>
<circle cx="1558.2" cy="725.6" r="10.8"/>
<circle cx="1521.5" cy="726.5" r="10.8"/>
<circle cx="1540.3" cy="726.7" r="10.8"/>
<circle cx="1566.3" cy="726.9" r="10.8"/>
<circle cx="1565.6" cy="726.2" r="10.8"/>
<circle cx="1529.8" cy="726.7" r="10.8"/>
<circle cx="1582.9" cy="726.1" r="10.8"/>
<circle cx="1549.4" cy="727.3" r="10.8"/>
<circle cx="1553.7" cy="727.9" r="10.8"/>
<circle cx="1561.6" cy="727.7" r="10.8"/>
<circle cx="1579.0" cy="727.3" r="10.8"/>
<circle cx="1566.6" cy="727.4" r="10.8"/>
<circle cx="1554.3" cy="727.5" r="10.8"/>
<circle cx="1570.7" cy="728.2" r="10.8"/>
<circle cx="1585.3" cy="728.2" r="10.8"/>
<circle cx="1540.6" cy="728.8" r="10.8"/>
<circle cx="1597.7" cy="728.4" r="10.8"/>
<circle cx="1594.9" cy="728.0" r="10.8"/>
<circle cx="1595.2" cy="728.2" r="10.8"/>
<circle cx="1517.0" cy="729.8" r="10.8"/>
<circle cx="1527.7" cy="729.8" r="10.8"/>
<circle cx="1514.6" cy="729.1" r="10.8"/>
<circle cx="1544.4" cy="729.1" r="10.8"/>
<circle cx="1554.0" cy="729.3" r="10.8"/>
<circle cx="1576.8" cy="729.5" r="10.8"/>
<circle cx="1596.0" cy="730.8" r="10.8"/>
<circle cx="1528.5" cy="730.9" r="10.8"/>
<circle cx="1590.1" cy="730.6" r="10.8"/>
<circle cx="1558.8" cy="730.2" r="10.8"/>
<circle cx="1541.3" cy="730.2" r="10.8"/>
<circle cx="1530.7" cy="730.6" r="10.8"/>
<circle cx="1541.6" cy="731.8" r="10.8"/>
<circle cx="1562.7" cy="731.8" r="10.8"/>
<circle cx="1521.4" cy="731.8" r="10.8"/>
<circle cx="1557.2" cy="731.6" r="10.8"/>
<circle cx="1534.3" cy="731.7" r="10.8"/>
<circle cx="1548.5" cy="731.7" r="10.8"/>
<circle cx="1563.7" cy="732.1" r="10.8"/>
<circle cx="1539.6" cy="732.8" r="10.8"/>
<circle cx="1515.4" cy="732.6" r="10.8"/>
<circle cx="1560.4" cy="732.7" r="10.8"/>
<circle cx="1542.0" cy="732.5" r="10.8"/>
<circle cx="1554.5" cy="732.7" r="10.8"/>
<circle cx="1520.2" cy="733.5" r="10.8"/>
<circle cx="1536.1" cy="733.6" r="10.8"/>
<circle cx="1536.1" cy="733.2" r="10.8"/>
<circle cx="1533.7" cy="733.9" r="10.8"/>
<circle cx="1544.9" cy="733.9" r="10.8"/>
<circle cx="1576.5" cy="733.3" r="10.8"/>
<circle cx="1561.1" cy="734.0" r="10.8"/>
<circle cx="1593.3" cy="734.6" r="10.8"/>
<circle cx="1523.6" cy="734.5" r="10.8"/>
<circle cx="1556.1" cy="734.7" r="10.8"/>
<circle cx="1538.6" cy="734.9" r="10.8"/>
<circle cx="1566.9" cy="734.1" r="10.8"/>
<circle cx="1583.6" cy="735.9" r="10.8"/>
<circle cx="1539.9" cy="735.7" r="10.8"/>
<circle cx="1587.1" cy="735.9" r="10.8"/>
<circle cx="1520.0" cy="735.8" r="10.8"/>
<circle cx="1535.1" cy="735.8" r="10.8"/>
<circle cx="1572.4" cy="735.5" r="10.8"/>
<circle cx="1590.7" cy="736.8" r="10.8"/>
<circle cx="1598.5" cy="737.0" r="10.8"/>
<circle cx="1562.7" cy="736.7" r="10.8"/>
<circle cx="1571.0" cy="736.4" r="10.8"/>
<circle cx="1556.4" cy="736.5" r="10.8"/>
<circle cx="1532.3" cy="736.3" r="10.8"/>
<circle cx="1585.8" cy="737.8" r="10.8"/>
<circle cx="1573.3" cy="737.7" r="10.8"/>
<circle cx="1557.4" cy="737.6" r="10.8"/>
<circle cx="1570.6" cy="737.0" r="10.8"/>
<circle cx="1551.7" cy="738.0" r="10.8"/>
<circle cx="1531.5" cy="737.5" r="10.8"/>
<circle cx="1520.6" cy="738.3" r="10.8"/>
<circle cx="1584.0" cy="738.0" r="10.8"/>
<circle cx="1581.9" cy="738.8" r="10.8"/>
<circle cx="1587.8" cy="738.3" r="10.8"/>
<circle cx="1593.2" cy="738.4" r="10.8"/>
<circle cx="1552.3" cy="739.0" r="10.8"/>
<circle cx="1560.3" cy="739.7" r="10.8"/>
<circle cx="1523.4" cy="739.0" r="10.8"/>
<circle cx="1536.5" cy="739.1" r="10.8"/>
<circle cx="1584.0" cy="739.2" r="10.8"/>
<circle cx="1595.4" cy="739.7" r="10.8"/>
<circle cx="1530.3" cy="739.7" r="10.8"/>
<circle cx="1541.0" cy="740.5" r="10.8"/>
<circle cx="1520.5" cy="740.8" r="10.8"/>
<circle cx="1580.9" cy="740.6" r="10.8"/>
<circle cx="1572.7" cy="740.3" r="10.8"/>
<circle cx="1524.9" cy="740.3" r="10.8"/>
<circle cx="1576.9" cy="740.6" r="10.8"/>
<circle cx="1525.4" cy="741.2" r="10.8"/>
<circle cx="1554.4" cy="741.0" r="10.8"/>
<circle cx="1517.8" cy="741.4" r="10.8"/>
<circle cx="1525.4" cy="741.9" r="10.8"/>
<circle cx="1524.9" cy="741.7" r="10.8"/>
<circle cx="1581.5" cy="741.3" r="10.8"/>
<circle cx="1560.1" cy="743.0" r="10.8"/>
<circle cx="1566.5" cy="742.4" r="10.8"/>
<circle cx="1597.0" cy="742.3" r="10.8"/>
<circle cx="1595.2" cy="742.3" r="10.8"/>
<circle cx="1549.8" cy="742.3" r="10.8"/>
<circle cx="1569.4" cy="742.9" r="10.8"/>
<circle cx="1572.6" cy="743.2" r="10.8"/>
<circle cx="1598.2" cy="743.7" r="10.8"/>
<circle cx="1557.0" cy="743.8" r="10.8"/>
<circle cx="1523.1" cy="743.6" r="10.8"/>
<circle cx="1580.8" cy="743.8" r="10.8"/>
<circle cx="1571.2" cy="743.1" r="10.8"/>
<circle cx="1554.7" cy="744.3" r="10.8"/>
<circle cx="1565.7" cy="744.4" r="10.8"/>
<circle cx="1552.7" cy="744.5" r="10.8"/>
<circle cx="1564.0" cy="744.9" r="10.8"/>
<circle cx="1538.0" cy="744.3" r="10.8"/>
<circle cx="1529.7" cy="744.1" r="10.8"/>
<circle cx="1586.2" cy="745.9" r="10.8"/>
<circle cx="1524.7" cy="745.4" r="10.8"/>
<circle cx="1590.9" cy="745.9" r="10.8"/>
<circle cx="1597.2" cy="746.0" r="10.8"/>
<circle cx="1539.8" cy="745.1" r="10.8"/>
<circle cx="1535.2" cy="745.5" r="10.8"/>
<circle cx="1515.3" cy="746.3" r="10.8"/>
<circle cx="1554.2" cy="746.7" r="10.8"/>
<circle cx="1527.1" cy="746.1" r="10.8"/>
<circle cx="1542.1" cy="746.1" r="10.8"/>
<circle cx="1524.4" cy="746.1" r="10.8"/>
<circle cx="1582.0" cy="746.9" r="10.8"/>
<circle cx="1517.6" cy="747.8" r="10.8"/>
<circle cx="1585.7" cy="747.7" r="10.8"/>
<circle cx="1539.5" cy="747.8" r="10.8"/>
<circle cx="1520.9" cy="747.0" r="10.8"/>
<circle cx="1595.1" cy="747.2" r="10.8"/>
<circle cx="1591.8" cy="747.8" r="10.8"/>
<circle cx="1518.0" cy="748.1" r="10.8"/>
<circle cx="1568.9" cy="748.1" r="10.8"/>
<circle cx="1570.6" cy="748.7" r="10.8"/>
<circle cx="1533.7" cy="748.5" r="10.8"/>
<circle cx="1532.0" cy="748.9" r="10.8"/>
<circle cx="1567.6" cy="748.7" r="10.8"/>
<circle cx="1566.8" cy="749.1" r="10.8"/>
<circle cx="1589.3" cy="749.8" r="10.8"/>
<circle cx="1557.8" cy="749.6" r="10.8"/>
<circle cx="1555.8" cy="749.8" r="10.8"/>
<circle cx="1559.3" cy="749.3" r="10.8"/>
<circle cx="1557.9" cy="749.2" r="10.8"/>
<circle cx="1514.4" cy="750.5" r="10.8"/>
<circle cx="1588.0" cy="750.7" r="10.8"/>
<circle cx="1531.8" cy="750.5" r="10.8"/>
<circle cx="1563.6" cy="750.6" r="10.8"/>
<circle cx="1553.1" cy="750.5" r="10.8"/>
<circle cx="1572.5" cy="750.9" r="10.8"/>
<circle cx="1557.8" cy="751.8" r="10.8"/>
<circle cx="1571.8" cy="751.1" r="10.8"/>
<circle cx="1536.0" cy="751.3" r="10.8"/>
<circle cx="1544.1" cy="751.5" r="10.8"/>
<circle cx="1539.0" cy="752.0" r="10.8"/>
<circle cx="1576.4" cy="751.4" r="10.8"/>
<circle cx="1573.5" cy="752.9" r="10.8"/>
<circle cx="1527.6" cy="752.6" r="10.8"/>
<circle cx="1595.5" cy="752.4" r="10.8"/>
<circle cx="1588.6" cy="752.8" r="10.8"/>
<circle cx="1541.2" cy="752.1" r="10.8"/>
<circle cx="1582.5" cy="752.4" r="10.8"/>
<circle cx="1543.8" cy="753.5" r="10.8"/>
<circle cx="1575.9" cy="753.9" r="10.8"/>
<circle cx="1591.9" cy="753.8" r="10.8"/>
<circle cx="1528.9" cy="753.4" r="10.8"/>
<circle cx="1514.6" cy="753.2" r="10.8"/>
<circle cx="1542.9" cy="753.2" r="10.8"/>
<circle cx="1554.5" cy="754.1" r="10.8"/>
<circle cx="1569.5" cy="754.4" r="10.8"/>
<circle cx="1535.0" cy="754.7" r="10.8"/>
<circle cx="1541.9" cy="754.0" r="10.8"/>
<circle cx="1585.3" cy="754.8" r="10.8"/>
<circle cx="1588.7" cy="754.3" r="10.8"/>
<circle cx="1536.4" cy="755.7" r="10.8"/>
<circle cx="1526.4" cy="756.0" r="10.8"/>
<circle cx="1569.5" cy="755.5" r="10.8"/>
<circle cx="1518.4" cy="755.3" r="10.8"/>
<circle cx="1550.0" cy="756.0" r="10.8"/>
<circle cx="1526.3" cy="755.6" r="10.8"/>
<circle cx="1520.6" cy="757.0" r="10.8"/>
<circle cx="1577.5" cy="756.8" r="10.8"/>
<circle cx="1577.7" cy="756.2" r="10.8"/>
<circle cx="1534.5" cy="756.0" r="10.8"/>
<circle cx="1560.9" cy="756.1" r="10.8"/>
<circle cx="1530.0" cy="756.2" r="10.8"/>
<circle cx="1592.2" cy="757.8" r="10.8"/>
<circle cx="1538.3" cy="758.0" r="10.8"/>
<circle cx="1527.6" cy="757.1" r="10.8"/>
<circle cx="1546.4" cy="757.8" r="10.8"/>
<circle cx="1522.4" cy="757.8" r="10.8"/>
<circle cx="1560.2" cy="757.8" r="10.8"/>
<circle cx="1542.6" cy="758.0" r="10.8"/>
<circle cx="1522.4" cy="758.7" r="10.8"/>
<circle cx="1557.1" cy="758.8" r="10.8"/>
<circle cx="1530.9" cy="758.3" r="10.8"/>
<circle cx="1532.0" cy="758.9" r="10.8"/>
<circle cx="1573.8" cy="758.2" r="10.8"/>
<circle cx="1575.7" cy="759.0" r="10.8"/>
<circle cx="1553.6" cy="759.3" r="10.8"/>
<circle cx="1579.0" cy="759.7" r="10.8"/>
<circle cx="1572.1" cy="759.2" r="10.8"/>
<circle cx="1517.6" cy="759.6" r="10.8"/>
<circle cx="1573.0" cy="759.0" r="10.8"/>
<circle cx="1585.3" cy="760.9" r="10.8"/>
<circle cx="1544.7" cy="760.5" r="10.8"/>
<circle cx="1569.3" cy="760.9" r="10.8"/>
<circle cx="1569.2" cy="760.5" r="10.8"/>
<circle cx="1579.4" cy="760.5" r="10.8"/>
<circle cx="1516.8" cy="760.5" r="10.8"/>
<circle cx="1549.2" cy="761.3" r="10.8"/>
<circle cx="1547.5" cy="761.2" r="10.8"/>
<circle cx="1540.5" cy="761.7" r="10.8"/>
<circle cx="1589.3" cy="761.5" r="10.8"/>
<circle cx="1585.9" cy="761.1" r="10.8"/>
<circle cx="1557.8" cy="762.7" r="10.8"/>
<circle cx="1580.4" cy="762.4" r="10.8"/>
<circle cx="1528.3" cy="763.0" r="10.8"/>
<circle cx="1565.8" cy="762.7" r="10.8"/>
<circle cx="1543.4" cy="762.1" r="10.8"/>
<circle cx="1562.5" cy="763.4" r="10.8"/>
<circle cx="1589.7" cy="763.7" r="10.8"/>
<circle cx="1578.2" cy="763.6" r="10.8"/>
<circle cx="1578.0" cy="763.1" r="10.8"/>
<circle cx="1598.7" cy="764.6" r="10.8"/>
<circle cx="1564.8" cy="764.2" r="10.8"/>
<circle cx="1521.7" cy="764.7" r="10.8"/>
<circle cx="1575.7" cy="764.7" r="10.8"/>
<circle cx="1535.7" cy="765.5" r="10.8"/>
<circle cx="1579.3" cy="765.6" r="10.8"/>
<circle cx="1591.3" cy="765.1" r="10.8"/>
<circle cx="1579.9" cy="766.0" r="10.8"/>
<circle cx="1567.1" cy="766.5" r="10.8"/>
<circle cx="1520.3" cy="766.4" r="10.8"/>
<circle cx="1570.8" cy="767.9" r="10.8"/>
<circle cx="1520.6" cy="767.5" r="10.8"/>
<circle cx="1581.6" cy="768.1" r="10.8"/>
<circle cx="1589.9" cy="769.9" r="10.8"/>
<circle cx="1543.1" cy="769.2" r="10.8"/>
<circle cx="1526.4" cy="770.2" r="10.8"/>
<circle cx="1549.6" cy="771.7" r="10.8"/>
<circle cx="1593.6" cy="772.6" r="10.8"/>
<circle cx="1595.0" cy="772.4" r="10.8"/>
<circle cx="1569.9" cy="773.0" r="10.8"/>
<circle cx="1549.6" cy="774.0" r="10.8"/>
<circle cx="1525.2" cy="775.8" r="10.8"/>
<circle cx="1523.7" cy="777.3" r="10.8"/>
<circle cx="1558.7" cy="778.5" r="10.8"/>
<circle cx="1516.6" cy="780.1" r="10.8"/>
<circle cx="1571.5" cy="782.4" r="10.8"/>
<circle cx="1521.8" cy="784.5" r="10.8"/>
<circle cx="1545.7" cy="788.0" r="10.8"/>
<circle cx="1518.1" cy="792.2" r="10.8"/>
<circle cx="1563.6" cy="442.1" r="10.8"/>
<circle cx="1563.6" cy="442.1" r="10.8"/>
<circle cx="1553.4" cy="467.3" r="10.8"/>
<circle cx="1550.2" cy="511.5" r="10.8"/>
<circle cx="1557.3" cy="512.3" r="10.8"/>
<circle cx="1528.9" cy="577.0" r="10.8"/>
<circle cx="1551.0" cy="575.4" r="10.8"/>
<circle cx="1566.8" cy="579.4" r="10.8"/>
<circle cx="1574.7" cy="590.4" r="10.8"/>
<circle cx="1595.2" cy="598.3" r="10.8"/>
<circle cx="1523.4" cy="604.6" r="10.8"/>
<circle cx="1539.2" cy="603.8" r="10.8"/>
<circle cx="1554.2" cy="606.2" r="10.8"/>
<circle cx="1535.4" cy="814.8" r="10.8"/>
<circle cx="1525.5" cy="823.3" r="10.8"/>
<circle cx="1534.0" cy="841.1" r="10.8"/>
<circle cx="1516.2" cy="914.3" r="10.8"/>
<circle cx="1548.2" cy="932.8" r="10.8"/>
<circle cx="1546.8" cy="785.7" r="10.8"/>
<circle cx="1579.5" cy="788.5" r="10.8"/>
<circle cx="1599.4" cy="781.4" r="10.8"/>
</g>
<g fill="#8c9094" fill-opacity="0.50">
<circle cx="1845.4" cy="663.0" r="10.8"/>
<circle cx="1864.6" cy="663.1" r="10.8"/>
<circle cx="1844.4" cy="664.4" r="10.8"/>
<circle cx="1881.6" cy="665.7" r="10.8"/>
<circle cx="1849.9" cy="666.3" r="10.8"/>
<circle cx="1835.6" cy="667.5" r="10.8"/>
<circle cx="1830.7" cy="667.6" r="10.8"/>
<circle cx="1806.2" cy="667.4" r="10.8"/>
<circle cx="1882.4" cy="668.4" r="10.8"/>
<circle cx="1841.5" cy="668.8" r="10.8"/>
<circle cx="1867.5" cy="668.7" r="10.8"/>
<circle cx="1830.9" cy="669.7" r="10.8"/>
<circle cx="1815.5" cy="669.6" r="10.8"/>
<circle cx="1799.9" cy="669.2" r="10.8"/>
<circle cx="1813.4" cy="669.4" r="10.8"/>
<circle cx="1861.2" cy="670.0" r="10.8"/>
<circle cx="1873.0" cy="670.1" r="10.8"/>
<circle cx="1879.3" cy="670.9" r="10.8"/>
<circle cx="1850.7" cy="670.8" r="10.8"/>
<circle cx="1878.5" cy="670.4" r="10.8"/>
<circle cx="1871.2" cy="671.0" r="10.8"/>
<circle cx="1864.9" cy="671.6" r="10.8"/>
<circle cx="1864.5" cy="671.1" r="10.8"/>
<circle cx="1805.6" cy="671.5" r="10.8"/>
<circle cx="1850.0" cy="671.7" r="10.8"/>
<circle cx="1813.7" cy="671.6" r="10.8"/>
<circle cx="1880.8" cy="672.3" r="10.8"/>
<circle cx="1868.2" cy="673.0" r="10.8"/>
<circle cx="1855.7" cy="672.4" r="10.8"/>
<circle cx="1834.1" cy="672.5" r="10.8"/>
<circle cx="1809.1" cy="672.1" r="10.8"/>
<circle cx="1822.3" cy="672.2" r="10.8"/>
<circle cx="1875.0" cy="673.4" r="10.8"/>
<circle cx="1872.9" cy="673.6" r="10.8"/>
<circle cx="1874.8" cy="673.9" r="10.8"/>
<circle cx="1859.0" cy="673.4" r="10.8"/>
<circle cx="1819.2" cy="673.6" r="10.8"/>
<circle cx="1825.0" cy="673.8" r="10.8"/>
<circle cx="1802.1" cy="674.6" r="10.8"/>
<circle cx="1827.3" cy="674.4" r="10.8"/>
<circle cx="1844.6" cy="675.0" r="10.8"/>
<circle cx="1882.9" cy="674.4" r="10.8"/>
<circle cx="1879.9" cy="675.0" r="10.8"/>
<circle cx="1843.2" cy="674.6" r="10.8"/>
<circle cx="1815.3" cy="675.8" r="10.8"/>
<circle cx="1839.8" cy="675.8" r="10.8"/>
<circle cx="1876.9" cy="675.6" r="10.8"/>
<circle cx="1857.6" cy="675.5" r="10.8"/>
<circle cx="1809.6" cy="675.5" r="10.8"/>
<circle cx="1803.8" cy="675.2" r="10.8"/>
<circle cx="1881.8" cy="676.4" r="10.8"/>
<circle cx="1810.0" cy="676.4" r="10.8"/>
<circle cx="1803.6" cy="676.6" r="10.8"/>
<circle cx="1817.9" cy="676.2" r="10.8"/>
<circle cx="1852.6" cy="676.9" r="10.8"/>
<circle cx="1799.7" cy="676.7" r="10.8"/>
<circle cx="1848.0" cy="677.5" r="10.8"/>
<circle cx="1834.3" cy="677.0" r="10.8"/>
<circle cx="1828.4" cy="677.5" r="10.8"/>
<circle cx="1827.0" cy="678.0" r="10.8"/>
<circle cx="1827.4" cy="677.8" r="10.8"/>
<circle cx="1867.4" cy="677.8" r="10.8"/>
<circle cx="1840.3" cy="678.5" r="10.8"/>
<circle cx="1870.2" cy="678.1" r="10.8"/>
<circle cx="1817.6" cy="678.0" r="10.8"/>
<circle cx="1840.3" cy="678.5" r="10.8"/>
<circle cx="1879.7" cy="678.9" r="10.8"/>
<circle cx="1833.0" cy="678.5" r="10.8"/>
<circle cx="1807.4" cy="679.8" r="10.8"/>
<circle cx="1842.6" cy="679.2" r="10.8"/>
<circle cx="1873.0" cy="679.0" r="10.8"/>
<circle cx="1814.9" cy="679.5" r="10.8"/>
<circle cx="1883.2" cy="679.1" r="10.8"/>
<circle cx="1821.2" cy="679.8" r="10.8"/>
<circle cx="1827.1" cy="680.9" r="10.8"/>
<circle cx="1800.1" cy="680.2" r="10.8"/>
<circle cx="1824.8" cy="680.8" r="10.8"/>
<circle cx="1807.2" cy="680.7" r="10.8"/>
<circle cx="1873.9" cy="681.0" r="10.8"/>
<circle cx="1867.0" cy="680.1" r="10.8"/>
<circle cx="1839.6" cy="681.2" r="10.8"/>
<circle cx="1808.9" cy="681.2" r="10.8"/>
<circle cx="1861.0" cy="681.6" r="10.8"/>
<circle cx="1809.6" cy="681.3" r="10.8"/>
<circle cx="1804.1" cy="681.9" r="10.8"/>
<circle cx="1862.6" cy="681.5" r="10.8"/>
<circle cx="1880.2" cy="683.0" r="10.8"/>
<circle cx="1816.1" cy="682.3" r="10.8"/>
<circle cx="1814.8" cy="682.6" r="10.8"/>
<circle cx="1849.1" cy="682.5" r="10.8"/>
<circle cx="1864.3" cy="682.5" r="10.8"/>
<circle cx="1825.2" cy="682.7" r="10.8"/>
<circle cx="1879.2" cy="683.0" r="10.8"/>
<circle cx="1839.8" cy="683.1" r="10.8"/>
<circle cx="1862.0" cy="683.4" r="10.8"/>
<circle cx="1869.8" cy="683.7" r="10.8"/>
<circle cx="1880.0" cy="683.6" r="10.8"/>
<circle cx="1849.1" cy="684.0" r="10.8"/>
<circle cx="1866.8" cy="684.3" r="10.8"/>
<circle cx="1807.3" cy="684.9" r="10.8"/>
<circle cx="1803.9" cy="684.9" r="10.8"/>
<circle cx="1877.8" cy="684.7" r="10.8"/>
<circle cx="1879.2" cy="684.6" r="10.8"/>
<circle cx="1861.9" cy="684.6" r="10.8"/>
<circle cx="1817.4" cy="685.1" r="10.8"/>
<circle cx="1861.7" cy="685.5" r="10.8"/>
<circle cx="1809.1" cy="685.6" r="10.8"/>
<circle cx="1821.0" cy="685.3" r="10.8"/>
<circle cx="1873.0" cy="685.6" r="10.8"/>
<circle cx="1862.1" cy="685.8" r="10.8"/>
<circle cx="1835.6" cy="686.5" r="10.8"/>
<circle cx="1835.2" cy="686.4" r="10.8"/>
<circle cx="1864.7" cy="686.9" r="10.8"/>
<circle cx="1823.8" cy="686.7" r="10.8"/>
<circle cx="1816.8" cy="686.0" r="10.8"/>
<circle cx="1856.7" cy="686.8" r="10.8"/>
<circle cx="1826.5" cy="688.0" r="10.8"/>
<circle cx="1859.6" cy="687.3" r="10.8"/>
<circle cx="1863.1" cy="687.8" r="10.8"/>
<circle cx="1810.4" cy="687.9" r="10.8"/>
<circle cx="1835.4" cy="687.3" r="10.8"/>
<circle cx="1830.6" cy="687.5" r="10.8"/>
<circle cx="1843.3" cy="688.3" r="10.8"/>
<circle cx="1803.6" cy="688.6" r="10.8"/>
<circle cx="1859.5" cy="688.7" r="10.8"/>
<circle cx="1832.2" cy="688.9" r="10.8"/>
<circle cx="1800.0" cy="688.1" r="10.8"/>
<circle cx="1800.1" cy="688.6" r="10.8"/>
<circle cx="1843.0" cy="689.2" r="10.8"/>
<circle cx="1843.2" cy="689.0" r="10.8"/>
<circle cx="1801.6" cy="690.0" r="10.8"/>
<circle cx="1873.8" cy="689.1" r="10.8"/>
<circle cx="1854.2" cy="689.5" r="10.8"/>
<circle cx="1844.3" cy="689.8" r="10.8"/>
<circle cx="1853.0" cy="690.9" r="10.8"/>
<circle cx="1856.4" cy="690.9" r="10.8"/>
<circle cx="1808.4" cy="690.8" r="10.8"/>
<circle cx="1825.7" cy="690.9" r="10.8"/>
<circle cx="1865.8" cy="691.0" r="10.8"/>
<circle cx="1862.7" cy="690.4" r="10.8"/>
<circle cx="1843.0" cy="691.8" r="10.8"/>
<circle cx="1803.4" cy="691.5" r="10.8"/>
<circle cx="1846.8" cy="691.7" r="10.8"/>
<circle cx="1827.6" cy="691.6" r="10.8"/>
<circle cx="1861.1" cy="691.4" r="10.8"/>
<circle cx="1856.4" cy="691.9" r="10.8"/>
<circle cx="1829.9" cy="692.5" r="10.8"/>
<circle cx="1839.6" cy="692.8" r="10.8"/>
<circle cx="1821.4" cy="692.3" r="10.8"/>
<circle cx="1831.9" cy="692.7" r="10.8"/>
<circle cx="1811.6" cy="693.0" r="10.8"/>
<circle cx="1841.3" cy="692.7" r="10.8"/>
<circle cx="1833.6" cy="693.0" r="10.8"/>
<circle cx="1831.3" cy="693.6" r="10.8"/>
<circle cx="1806.2" cy="694.0" r="10.8"/>
<circle cx="1848.4" cy="693.5" r="10.8"/>
<circle cx="1800.9" cy="693.2" r="10.8"/>
<circle cx="1827.2" cy="693.6" r="10.8"/>
<circle cx="1813.3" cy="694.5" r="10.8"/>
<circle cx="1821.5" cy="694.6" r="10.8"/>
<circle cx="1857.0" cy="694.5" r="10.8"/>
<circle cx="1862.3" cy="694.6" r="10.8"/>
<circle cx="1805.6" cy="694.7" r="10.8"/>
<circle cx="1839.6" cy="694.8" r="10.8"/>
<circle cx="1878.2" cy="695.4" r="10.8"/>
<circle cx="1870.8" cy="695.2" r="10.8"/>
<circle cx="1853.8" cy="695.0" r="10.8"/>
<circle cx="1868.6" cy="695.4" r="10.8"/>
<circle cx="1837.1" cy="695.5" r="10.8"/>
<circle cx="1830.2" cy="695.2" r="10.8"/>
<circle cx="1857.3" cy="696.6" r="10.8"/>
<circle cx="1803.1" cy="696.3" r="10.8"/>
<circle cx="1877.7" cy="696.3" r="10.8"/>
<circle cx="1823.4" cy="696.6" r="10.8"/>
<circle cx="1830.2" cy="696.9" r="10.8"/>
<circle cx="1882.0" cy="696.1" r="10.8"/>
<circle cx="1817.6" cy="697.2" r="10.8"/>
<circle cx="1836.3" cy="697.3" r="10.8"/>
<circle cx="1855.8" cy="697.9" r="10.8"/>
<circle cx="1804.6" cy="697.0" r="10.8"/>
<circle cx="1808.0" cy="697.3" r="10.8"/>
<circle cx="1809.9" cy="697.4" r="10.8"/>
<circle cx="1829.4" cy="698.7" r="10.8"/>
<circle cx="1880.7" cy="699.0" r="10.8"/>
<circle cx="1834.2" cy="698.6" r="10.8"/>
<circle cx="1809.7" cy="698.6" r="10.8"/>
<circle cx="1873.6" cy="698.9" r="10.8"/>
<circle cx="1810.4" cy="698.2" r="10.8"/>
<circle cx="1875.2" cy="699.7" r="10.8"/>
<circle cx="1863.3" cy="699.1" r="10.8"/>
<circle cx="1851.1" cy="699.0" r="10.8"/>
<circle cx="1861.1" cy="699.8" r="10.8"/>
<circle cx="1825.9" cy="699.0" r="10.8"/>
<circle cx="1860.8" cy="700.0" r="10.8"/>
<circle cx="1851.2" cy="700.4" r="10.8"/>
<circle cx="1826.5" cy="700.8" r="10.8"/>
<circle cx="1880.8" cy="700.4" r="10.8"/>
<circle cx="1817.3" cy="701.0" r="10.8"/>
<circle cx="1834.8" cy="700.4" r="10.8"/>
<circle cx="1824.9" cy="700.7" r="10.8"/>
<circle cx="1882.0" cy="701.5" r="10.8"/>
<circle cx="1871.2" cy="701.4" r="10.8"/>
<circle cx="1834.4" cy="701.8" r="10.8"/>
<circle cx="1881.0" cy="701.8" r="10.8"/>
<circle cx="1858.4" cy="701.8" r="10.8"/>
<circle cx="1876.6" cy="702.0" r="10.8"/>
<circle cx="1843.7" cy="702.4" r="10.8"/>
<circle cx="1799.1" cy="702.5" r="10.8"/>
<circle cx="1828.7" cy="702.0" r="10.8"/>
<circle cx="1882.9" cy="702.3" r="10.8"/>
<circle cx="1877.7" cy="702.0" r="10.8"/>
<circle cx="1829.1" cy="702.8" r="10.8"/>
<circle cx="1855.7" cy="703.7" r="10.8"/>
<circle cx="1840.0" cy="703.1" r="10.8"/>
<circle cx="1869.2" cy="703.8" r="10.8"/>
<circle cx="1839.1" cy="703.6" r="10.8"/>
<circle cx="1866.8" cy="703.5" r="10.8"/>
<circle cx="1838.9" cy="703.5" r="10.8"/>
<circle cx="1861.1" cy="704.7" r="10.8"/>
<circle cx="1827.0" cy="704.8" r="10.8"/>
<circle cx="1830.4" cy="704.7" r="10.8"/>
<circle cx="1830.6" cy="704.9" r="10.8"/>
<circle cx="1878.4" cy="704.8" r="10.8"/>
<circle cx="1830.9" cy="704.4" r="10.8"/>
<circle cx="1835.3" cy="705.6" r="10.8"/>
<circle cx="1801.4" cy="705.5" r="10.8"/>
<circle cx="1877.4" cy="705.1" r="10.8"/>
<circle cx="1874.3" cy="705.6" r="10.8"/>
<circle cx="1883.3" cy="705.7" r="10.8"/>
<circle cx="1859.6" cy="705.8" r="10.8"/>
<circle cx="1834.3" cy="706.1" r="10.8"/>
<circle cx="1871.2" cy="706.9" r="10.8"/>
<circle cx="1859.8" cy="706.2" r="10.8"/>
<circle cx="1840.9" cy="706.5" r="10.8"/>
<circle cx="1829.4" cy="706.5" r="10.8"/>
<circle cx="1837.4" cy="707.0" r="10.8"/>
<circle cx="1851.8" cy="708.0" r="10.8"/>
<circle cx="1875.7" cy="707.2" r="10.8"/>
<circle cx="1864.1" cy="707.4" r="10.8"/>
<circle cx="1849.3" cy="707.6" r="10.8"/>
<circle cx="1861.4" cy="707.3" r="10.8"/>
<circle cx="1856.1" cy="707.4" r="10.8"/>
<circle cx="1865.0" cy="708.5" r="10.8"/>
<circle cx="1853.2" cy="709.0" r="10.8"/>
<circle cx="1822.3" cy="708.0" r="10.8"/>
<circle cx="1874.6" cy="708.5" r="10.8"/>
<circle cx="1853.4" cy="708.8" r="10.8"/>
<circle cx="1874.2" cy="708.4" r="10.8"/>
<circle cx="1882.4" cy="709.4" r="10.8"/>
<circle cx="1860.3" cy="709.8" r="10.8"/>
<circle cx="1829.3" cy="709.4" r="10.8"/>
<circle cx="1829.7" cy="709.3" r="10.8"/>
<circle cx="1833.5" cy="709.8" r="10.8"/>
<circle cx="1803.7" cy="710.0" r="10.8"/>
<circle cx="1865.7" cy="710.6" r="10.8"/>
<circle cx="1853.1" cy="710.3" r="10.8"/>
<circle cx="1863.5" cy="710.9" r="10.8"/>
<circle cx="1831.0" cy="710.5" r="10.8"/>
<circle cx="1817.1" cy="710.3" r="10.8"/>
<circle cx="1870.9" cy="710.6" r="10.8"/>
<circle cx="1836.5" cy="711.6" r="10.8"/>
<circle cx="1814.2" cy="711.0" r="10.8"/>
<circle cx="1828.9" cy="711.6" r="10.8"/>
<circle cx="1814.2" cy="711.5" r="10.8"/>
<circle cx="1826.1" cy="711.3" r="10.8"/>
<circle cx="1861.4" cy="711.4" r="10.8"/>
<circle cx="1861.6" cy="712.7" r="10.8"/>
<circle cx="1830.4" cy="712.0" r="10.8"/>
<circle cx="1870.1" cy="712.6" r="10.8"/>
<circle cx="1847.8" cy="712.7" r="10.8"/>
<circle cx="1845.1" cy="712.9" r="10.8"/>
<circle cx="1799.2" cy="713.0" r="10.8"/>
<circle cx="1850.9" cy="713.4" r="10.8"/>
<circle cx="1875.6" cy="713.9" r="10.8"/>
<circle cx="1849.2" cy="713.0" r="10.8"/>
<circle cx="1851.5" cy="713.4" r="10.8"/>
<circle cx="1847.3" cy="713.8" r="10.8"/>
<circle cx="1809.7" cy="713.8" r="10.8"/>
<circle cx="1824.9" cy="714.3" r="10.8"/>
<circle cx="1801.7" cy="714.1" r="10.8"/>
<circle cx="1821.3" cy="714.5" r="10.8"/>
<circle cx="1878.4" cy="714.2" r="10.8"/>
<circle cx="1823.1" cy="714.4" r="10.8"/>
<circle cx="1852.9" cy="714.4" r="10.8"/>
<circle cx="1855.4" cy="715.2" r="10.8"/>
<circle cx="1802.2" cy="715.6" r="10.8"/>
<circle cx="1860.0" cy="715.1" r="10.8"/>
<circle cx="1802.6" cy="715.7" r="10.8"/>
<circle cx="1804.1" cy="715.9" r="10.8"/>
<circle cx="1857.2" cy="715.2" r="10.8"/>
<circle cx="1833.3" cy="716.1" r="10.8"/>
<circle cx="1806.0" cy="716.4" r="10.8"/>
<circle cx="1873.1" cy="716.9" r="10.8"/>
<circle cx="1862.5" cy="716.6" r="10.8"/>
<circle cx="1848.2" cy="716.5" r="10.8"/>
<circle cx="1854.3" cy="716.5" r="10.8"/>
<circle cx="1832.3" cy="717.8" r="10.8"/>
<circle cx="1824.1" cy="717.4" r="10.8"/>
<circle cx="1856.2" cy="718.0" r="10.8"/>
<circle cx="1827.8" cy="717.4" r="10.8"/>
<circle cx="1832.7" cy="717.2" r="10.8"/>
<circle cx="1828.7" cy="717.8" r="10.8"/>
<circle cx="1814.5" cy="718.5" r="10.8"/>
<circle cx="1822.6" cy="718.6" r="10.8"/>
<circle cx="1864.2" cy="718.1" r="10.8"/>
<circle cx="1839.8" cy="718.2" r="10.8"/>
<circle cx="1853.4" cy="718.7" r="10.8"/>
<circle cx="1817.3" cy="718.2" r="10.8"/>
<circle cx="1824.3" cy="719.3" r="10.8"/>
<circle cx="1874.4" cy="719.9" r="10.8"/>
<circle cx="1865.8" cy="719.4" r="10.8"/>
<circle cx="1837.4" cy="719.2" r="10.8"/>
<circle cx="1837.6" cy="720.0" r="10.8"/>
<circle cx="1806.3" cy="719.4" r="10.8"/>
<circle cx="1815.1" cy="720.8" r="10.8"/>
<circle cx="1824.1" cy="720.5" r="10.8"/>
<circle cx="1802.9" cy="720.7" r="10.8"/>
<circle cx="1842.2" cy="720.8" r="10.8"/>
<circle cx="1859.8" cy="720.7" r="10.8"/>
<circle cx="1820.8" cy="720.3" r="10.8"/>
<circle cx="1849.3" cy="721.0" r="10.8"/>
<circle cx="1878.1" cy="721.7" r="10.8"/>
<circle cx="1840.4" cy="721.4" r="10.8"/>
<circle cx="1805.1" cy="721.6" r="10.8"/>
<circle cx="1864.2" cy="721.1" r="10.8"/>
<circle cx="1806.9" cy="721.7" r="10.8"/>
<circle cx="1838.4" cy="722.8" r="10.8"/>
<circle cx="1833.5" cy="723.0" r="10.8"/>
<circle cx="1872.7" cy="722.3" r="10.8"/>
<circle cx="1844.1" cy="722.6" r="10.8"/>
<circle cx="1836.8" cy="723.8" r="10.8"/>
<circle cx="1858.4" cy="723.8" r="10.8"/>
<circle cx="1820.0" cy="723.5" r="10.8"/>
<circle cx="1844.7" cy="723.6" r="10.8"/>
<circle cx="1799.9" cy="723.8" r="10.8"/>
<circle cx="1836.6" cy="724.2" r="10.8"/>
<circle cx="1871.2" cy="724.6" r="10.8"/>
<circle cx="1861.4" cy="724.7" r="10.8"/>
<circle cx="1851.4" cy="725.9" r="10.8"/>
<circle cx="1803.3" cy="725.3" r="10.8"/>
<circle cx="1812.4" cy="725.6" r="10.8"/>
<circle cx="1817.2" cy="726.0" r="10.8"/>
<circle cx="1810.1" cy="726.2" r="10.8"/>
<circle cx="1844.4" cy="727.5" r="10.8"/>
<circle cx="1838.0" cy="728.0" r="10.8"/>
<circle cx="1843.4" cy="728.3" r="10.8"/>
<circle cx="1806.3" cy="729.1" r="10.8"/>
<circle cx="1811.3" cy="730.4" r="10.8"/>
<circle cx="1812.7" cy="731.5" r="10.8"/>
<circle cx="1812.4" cy="732.7" r="10.8"/>
<circle cx="1873.0" cy="733.3" r="10.8"/>
<circle cx="1804.6" cy="736.0" r="10.8"/>
<circle cx="1805.6" cy="737.6" r="10.8"/>
<circle cx="1862.8" cy="740.5" r="10.8"/>
<circle cx="1875.4" cy="632.2" r="10.8"/>
</g>
<g stroke="#000" stroke-width="4.3" fill="none">
<line x1="417.2" y1="606.8" x2="417.2" y2="803.8"/>
<line x1="381.2" y1="606.8" x2="453.2" y2="606.8"/>
<line x1="381.2" y1="803.8" x2="453.2" y2="803.8"/>
</g>
<g stroke="#222" stroke-width="3.8" fill="none" stroke-linejoin="round">
<rect x="402.7" y="681.7" width="29" height="48.8"/>
<line x1="402.7" y1="708.1" x2="431.7" y2="708.1"/>
</g>
<g stroke="#000" stroke-width="4.3" fill="none">
<line x1="702.0" y1="631.2" x2="702.0" y2="784.7"/>
<line x1="666.0" y1="631.2" x2="738.0" y2="631.2"/>
<line x1="666.0" y1="784.7" x2="738.0" y2="784.7"/>
</g>
<g stroke="#222" stroke-width="3.8" fill="none" stroke-linejoin="round">
<rect x="687.5" y="689.2" width="29" height="39.3"/>
<line x1="687.5" y1="710.3" x2="716.5" y2="710.3"/>
</g>
<g stroke="#000" stroke-width="4.3" fill="none">
<line x1="986.9" y1="599.8" x2="986.9" y2="820.3"/>
<line x1="950.9" y1="599.8" x2="1022.9" y2="599.8"/>
<line x1="950.9" y1="820.3" x2="1022.9" y2="820.3"/>
</g>
<g stroke="#222" stroke-width="3.8" fill="none" stroke-linejoin="round">
<rect x="972.4" y="681.4" width="29" height="55.3"/>
<line x1="972.4" y1="711.0" x2="1001.4" y2="711.0"/>
</g>
<g stroke="#000" stroke-width="4.3" fill="none">
<line x1="1271.8" y1="608.6" x2="1271.8" y2="807.0"/>
<line x1="1235.8" y1="608.6" x2="1307.8" y2="608.6"/>
<line x1="1235.8" y1="807.0" x2="1307.8" y2="807.0"/>
</g>
<g stroke="#222" stroke-width="3.8" fill="none" stroke-linejoin="round">
<rect x="1257.3" y="679.2" width="29" height="51.5"/>
<line x1="1257.3" y1="705.8" x2="1286.3" y2="705.8"/>
</g>
<g stroke="#000" stroke-width="4.3" fill="none">
<line x1="1556.8" y1="614.1" x2="1556.8" y2="781.0"/>
<line x1="1520.8" y1="614.1" x2="1592.8" y2="614.1"/>
<line x1="1520.8" y1="781.0" x2="1592.8" y2="781.0"/>
</g>
<g stroke="#222" stroke-width="3.8" fill="none" stroke-linejoin="round">
<rect x="1542.3" y="679.9" width="29" height="43.1"/>
<line x1="1542.3" y1="702.5" x2="1571.3" y2="702.5"/>
</g>
<g stroke="#000" stroke-width="4.3" fill="none">
<line x1="1841.3" y1="664.2" x2="1841.3" y2="737.8"/>
<line x1="1805.3" y1="664.2" x2="1877.3" y2="664.2"/>
<line x1="1805.3" y1="737.8" x2="1877.3" y2="737.8"/>
</g>
<g stroke="#222" stroke-width="3.8" fill="none" stroke-linejoin="round">
<rect x="1826.8" y="691.3" width="29" height="20.1"/>
<line x1="1826.8" y1="700.3" x2="1855.8" y2="700.3"/>
</g>
<rect x="133.1" y="0.7" width="1991.9" height="1214.9" fill="none" stroke="#2b2b2b" stroke-width="2"/>
<line x1="122.7" y1="138.9" x2="133" y2="138.9" stroke="#2b2b2b" stroke-width="3.5"/>
<text x="115.5" y="151.3" font-size="34.5" fill="#393939" text-anchor="end">8.00</text>
<line x1="122.7" y1="325.5" x2="133" y2="325.5" stroke="#2b2b2b" stroke-width="3.5"/>
<text x="115.5" y="337.9" font-size="34.5" fill="#393939" text-anchor="end">4.00</text>
<line x1="122.7" y1="512.2" x2="133" y2="512.2" stroke="#2b2b2b" stroke-width="3.5"/>
<text x="115.5" y="524.6" font-size="34.5" fill="#393939" text-anchor="end">2.00</text>
<line x1="122.7" y1="608.5" x2="133" y2="608.5" stroke="#2b2b2b" stroke-width="3.5"/>
<text x="115.5" y="620.9" font-size="34.5" fill="#393939" text-anchor="end">1.40</text>
<line x1="122.7" y1="699.1" x2="133" y2="699.1" stroke="#2b2b2b" stroke-width="3.5"/>
<text x="115.5" y="711.5" font-size="34.5" fill="#393939" text-anchor="end">1.00</text>
<line x1="122.7" y1="885.8" x2="133" y2="885.8" stroke="#2b2b2b" stroke-width="3.5"/>
<text x="115.5" y="898.2" font-size="34.5" fill="#393939" text-anchor="end">0.50</text>
<line x1="122.7" y1="1072.4" x2="133" y2="1072.4" stroke="#2b2b2b" stroke-width="3.5"/>
<text x="115.5" y="1084.8" font-size="34.5" fill="#393939" text-anchor="end">0.25</text>
<line x1="416.9" y1="1215" x2="416.9" y2="1226.5" stroke="#2b2b2b" stroke-width="3.5"/>
<text x="416.9" y="1266.3" font-size="34.2" fill="#393939" text-anchor="middle">HCoV Total</text>
<line x1="702.1" y1="1215" x2="702.1" y2="1226.5" stroke="#2b2b2b" stroke-width="3.5"/>
<text x="702.1" y="1266.3" font-size="34.2" fill="#393939" text-anchor="middle">HCoV-NL63</text>
<line x1="987.3" y1="1215" x2="987.3" y2="1226.5" stroke="#2b2b2b" stroke-width="3.5"/>
<text x="987.3" y="1266.3" font-size="34.2" fill="#393939" text-anchor="middle">HCoV-229E</text>
<line x1="1272.3" y1="1215" x2="1272.3" y2="1226.5" stroke="#2b2b2b" stroke-width="3.5"/>
<text x="1272.3" y="1266.3" font-size="34.2" fill="#393939" text-anchor="middle">HCoV-OC43</text>
<line x1="1556.9" y1="1215" x2="1556.9" y2="1226.5" stroke="#2b2b2b" stroke-width="3.5"/>
<text x="1556.9" y="1266.3" font-size="34.2" fill="#393939" text-anchor="middle">HCoV-HKU1</text>
<line x1="1841.3" y1="1215" x2="1841.3" y2="1226.5" stroke="#2b2b2b" stroke-width="3.5"/>
<text x="1841.3" y="1266.3" font-size="34.2" fill="#393939" text-anchor="middle">Measles virus</text>
<text transform="translate(30.5,646.5) rotate(-90)" font-size="40.4" fill="#000" text-anchor="middle">OD fold change relative to previous visit</text>
</svg></body></html>
